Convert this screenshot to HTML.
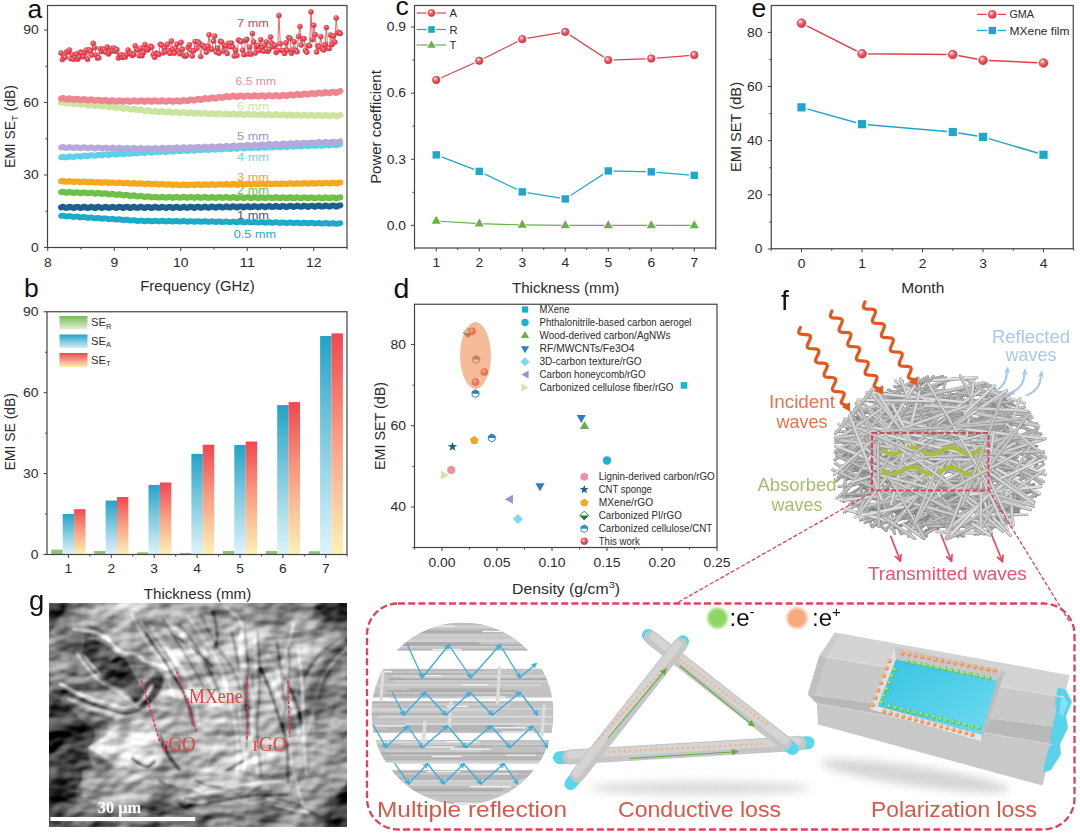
<!DOCTYPE html>
<html><head><meta charset="utf-8"><title>Figure</title>
<style>html,body{margin:0;padding:0;background:#fff;}svg{display:block;font-family:"Liberation Sans", sans-serif;}</style>
</head><body>
<svg width="1080" height="834" viewBox="0 0 1080 834">
<rect width="1080" height="834" fill="#ffffff"/>

<defs>
<radialGradient id="ballR" cx="0.36" cy="0.32" r="0.7"><stop offset="0" stop-color="#ffffff"/><stop offset="0.22" stop-color="#f7a0a6"/><stop offset="0.55" stop-color="#ee5560"/><stop offset="1" stop-color="#d93544"/></radialGradient>
<radialGradient id="ballS" cx="0.36" cy="0.32" r="0.75"><stop offset="0" stop-color="#ffd6d8"/><stop offset="0.22" stop-color="#f26a74"/><stop offset="0.6" stop-color="#e6404e"/><stop offset="1" stop-color="#d62f3f"/></radialGradient>
<radialGradient id="ballO" cx="0.36" cy="0.32" r="0.7"><stop offset="0" stop-color="#ffe6dc"/><stop offset="0.25" stop-color="#f79a80"/><stop offset="0.6" stop-color="#ee5a3c"/><stop offset="1" stop-color="#de3f28"/></radialGradient>
<linearGradient id="gA" x1="0" y1="0" x2="0" y2="1"><stop offset="0" stop-color="#23a3c7"/><stop offset="0.45" stop-color="#7cc9de"/><stop offset="1" stop-color="#dff3fa"/></linearGradient>
<linearGradient id="gT" x1="0" y1="0" x2="0" y2="1"><stop offset="0" stop-color="#f2474f"/><stop offset="0.45" stop-color="#f99a80"/><stop offset="1" stop-color="#fdf1b6"/></linearGradient>
<linearGradient id="gRl" x1="0" y1="0" x2="0" y2="1"><stop offset="0" stop-color="#78b85a"/><stop offset="1" stop-color="#e4f1d6"/></linearGradient>
<linearGradient id="gAl" x1="0" y1="0" x2="0" y2="1"><stop offset="0" stop-color="#23a3c7"/><stop offset="1" stop-color="#d4eef7"/></linearGradient>
<linearGradient id="gTl" x1="0" y1="0" x2="0" y2="1"><stop offset="0" stop-color="#f2474f"/><stop offset="1" stop-color="#fdeeb4"/></linearGradient>
<linearGradient id="cy" x1="0" y1="0" x2="1" y2="1"><stop offset="0" stop-color="#36c4e2"/><stop offset="1" stop-color="#6fdaf0"/></linearGradient>
<radialGradient id="ionO" cx="0.38" cy="0.35" r="0.7"><stop offset="0" stop-color="#ffd2b4"/><stop offset="0.5" stop-color="#f4975f"/><stop offset="1" stop-color="#e67f45"/></radialGradient>
<radialGradient id="ionG" cx="0.38" cy="0.35" r="0.7"><stop offset="0" stop-color="#c8f5a8"/><stop offset="0.5" stop-color="#74d058"/><stop offset="1" stop-color="#55b840"/></radialGradient>
<filter id="blur15" x="-30%" y="-30%" width="160%" height="160%"><feGaussianBlur stdDeviation="1.6"/></filter>
<filter id="blur1" x="-20%" y="-20%" width="140%" height="140%"><feGaussianBlur stdDeviation="0.9"/></filter>
<filter id="blur4" x="-20%" y="-100%" width="140%" height="300%"><feGaussianBlur stdDeviation="4"/></filter>
<filter id="blur9" x="-10%" y="-10%" width="120%" height="120%"><feGaussianBlur stdDeviation="7"/></filter>
<filter id="blur2" x="-10%" y="-10%" width="120%" height="120%"><feGaussianBlur stdDeviation="1.3"/></filter>
<filter id="semtex" x="0" y="0" width="100%" height="100%" color-interpolation-filters="sRGB">
<feTurbulence type="fractalNoise" baseFrequency="0.024 0.036" numOctaves="3" seed="4" result="n"/>
<feDiffuseLighting in="n" surfaceScale="7" diffuseConstant="1" lighting-color="#ffffff" result="lit"><feDistantLight azimuth="235" elevation="30"/></feDiffuseLighting>
<feComposite in="SourceGraphic" in2="lit" operator="arithmetic" k1="0" k2="1.1" k3="0.62" k4="-0.365"/>
</filter>
</defs>

<rect x="47.5" y="5.5" width="299.5" height="242.0" fill="none" stroke="#444444" stroke-width="1.2"/>
<line x1="47.75" y1="247.5" x2="47.75" y2="251.0" stroke="#444444" stroke-width="1"/>
<line x1="114.25" y1="247.5" x2="114.25" y2="251.0" stroke="#444444" stroke-width="1"/>
<line x1="180.75" y1="247.5" x2="180.75" y2="251.0" stroke="#444444" stroke-width="1"/>
<line x1="247.25" y1="247.5" x2="247.25" y2="251.0" stroke="#444444" stroke-width="1"/>
<line x1="313.75" y1="247.5" x2="313.75" y2="251.0" stroke="#444444" stroke-width="1"/>
<line x1="81.00" y1="247.5" x2="81.00" y2="249.5" stroke="#444444" stroke-width="1"/>
<line x1="147.50" y1="247.5" x2="147.50" y2="249.5" stroke="#444444" stroke-width="1"/>
<line x1="214.00" y1="247.5" x2="214.00" y2="249.5" stroke="#444444" stroke-width="1"/>
<line x1="280.50" y1="247.5" x2="280.50" y2="249.5" stroke="#444444" stroke-width="1"/>
<line x1="347.00" y1="247.5" x2="347.00" y2="249.5" stroke="#444444" stroke-width="1"/>
<line x1="44.0" y1="247.50" x2="47.5" y2="247.50" stroke="#444444" stroke-width="1"/>
<line x1="44.0" y1="175.00" x2="47.5" y2="175.00" stroke="#444444" stroke-width="1"/>
<line x1="44.0" y1="102.50" x2="47.5" y2="102.50" stroke="#444444" stroke-width="1"/>
<line x1="44.0" y1="30.00" x2="47.5" y2="30.00" stroke="#444444" stroke-width="1"/>
<line x1="45.5" y1="211.25" x2="47.5" y2="211.25" stroke="#444444" stroke-width="1"/>
<line x1="45.5" y1="138.75" x2="47.5" y2="138.75" stroke="#444444" stroke-width="1"/>
<line x1="45.5" y1="66.25" x2="47.5" y2="66.25" stroke="#444444" stroke-width="1"/>
<text x="47.75" y="266.60" font-size="12.2" text-anchor="middle" fill="#2b2b2b" textLength="7.7" lengthAdjust="spacingAndGlyphs" >8</text>
<text x="114.25" y="266.60" font-size="12.2" text-anchor="middle" fill="#2b2b2b" textLength="7.7" lengthAdjust="spacingAndGlyphs" >9</text>
<text x="180.75" y="266.60" font-size="12.2" text-anchor="middle" fill="#2b2b2b" textLength="15.5" lengthAdjust="spacingAndGlyphs" >10</text>
<text x="247.25" y="266.60" font-size="12.2" text-anchor="middle" fill="#2b2b2b" textLength="15.5" lengthAdjust="spacingAndGlyphs" >11</text>
<text x="313.75" y="266.60" font-size="12.2" text-anchor="middle" fill="#2b2b2b" textLength="15.5" lengthAdjust="spacingAndGlyphs" >12</text>
<text x="38.70" y="251.80" font-size="12.2" text-anchor="end" fill="#2b2b2b" textLength="7.7" lengthAdjust="spacingAndGlyphs" >0</text>
<text x="38.70" y="179.30" font-size="12.2" text-anchor="end" fill="#2b2b2b" textLength="15.5" lengthAdjust="spacingAndGlyphs" >30</text>
<text x="38.70" y="106.80" font-size="12.2" text-anchor="end" fill="#2b2b2b" textLength="15.5" lengthAdjust="spacingAndGlyphs" >60</text>
<text x="38.70" y="34.30" font-size="12.2" text-anchor="end" fill="#2b2b2b" textLength="15.5" lengthAdjust="spacingAndGlyphs" >90</text>
<text x="197.50" y="291.30" font-size="13.8" text-anchor="middle" fill="#2b2b2b" textLength="114.5" lengthAdjust="spacingAndGlyphs" >Frequency (GHz)</text>
<text x="14.5" y="126.5" font-size="13.8" text-anchor="middle" fill="#2b2b2b" transform="rotate(-90 14.5 126.5)" textLength="83" lengthAdjust="spacingAndGlyphs">EMI SE<tspan font-size="9.5" dy="3">T</tspan><tspan dy="-3"> (dB)</tspan></text>
<text x="253.00" y="109.70" font-size="10.5" text-anchor="middle" fill="#cfe6a4" textLength="32.0" lengthAdjust="spacingAndGlyphs" >6 mm</text>
<text x="253.00" y="180.70" font-size="10.5" text-anchor="middle" fill="#f2a51e" textLength="32.0" lengthAdjust="spacingAndGlyphs" >3 mm</text>
<text x="253.00" y="194.30" font-size="10.5" text-anchor="middle" fill="#6fbf4a" textLength="32.0" lengthAdjust="spacingAndGlyphs" >2 mm</text>
<text x="253.00" y="218.70" font-size="10.5" text-anchor="middle" fill="#1d5c8c" textLength="32.0" lengthAdjust="spacingAndGlyphs" >1 mm</text>
<polyline points="61.05,215.84 63.20,215.57 65.35,216.38 67.50,216.49 69.64,215.97 71.79,216.56 73.94,217.06 76.09,216.51 78.24,216.72 80.39,217.50 82.53,217.14 84.68,216.96 86.83,217.80 88.98,217.80 91.13,217.32 93.28,217.99 95.43,218.40 97.57,217.83 99.72,218.15 101.87,218.87 104.02,218.45 106.17,218.36 108.32,219.20 110.46,219.11 112.61,218.69 114.76,219.42 116.91,219.72 119.06,219.16 121.21,219.58 123.36,220.24 125.50,219.75 127.65,219.77 129.80,220.60 131.95,220.41 134.10,220.06 136.25,220.84 138.39,221.05 140.54,220.49 142.69,220.91 144.84,221.37 146.99,220.73 149.14,220.74 151.29,221.43 153.43,221.03 155.58,220.65 157.73,221.36 159.88,221.34 162.03,220.70 164.18,221.19 166.32,221.57 168.47,220.89 170.62,221.01 172.77,221.66 174.92,221.18 177.07,220.89 179.22,221.62 181.36,221.49 183.51,220.91 185.66,221.47 187.81,221.75 189.96,221.06 192.11,221.28 194.25,221.88 196.40,221.33 198.55,221.14 200.70,221.87 202.85,221.64 205.00,221.12 207.15,221.74 209.29,221.92 211.44,221.24 213.59,221.56 215.74,222.10 217.89,221.50 220.04,221.43 222.18,222.16 224.33,221.85 226.48,221.41 228.63,222.09 230.78,222.18 232.93,221.52 235.08,221.95 237.22,222.41 239.37,221.78 241.52,221.81 243.67,222.51 245.82,222.11 247.97,221.75 250.11,222.47 252.26,222.45 254.41,221.83 256.56,222.34 258.71,222.72 260.86,222.06 263.01,222.19 265.15,222.85 267.30,222.38 269.45,222.11 271.60,222.85 273.75,222.72 275.90,222.15 278.04,222.73 280.19,223.02 282.34,222.34 284.49,222.58 286.64,223.19 288.79,222.64 290.94,222.48 293.08,223.22 295.23,222.99 297.38,222.48 299.53,223.12 301.68,223.30 303.83,222.63 305.97,222.98 308.12,223.51 310.27,222.91 312.42,222.85 314.57,223.58 316.72,223.25 318.87,222.82 321.01,223.51 323.16,223.58 325.31,222.94 327.46,223.37 329.61,223.82 331.76,223.18 333.90,223.23 336.05,223.93 338.20,223.52 340.35,223.17" fill="none" stroke="#1fa9c9" stroke-width="5.8" stroke-linejoin="round" stroke-linecap="round"/>
<polyline points="61.05,207.38 63.20,206.70 65.35,207.83 67.50,207.78 69.64,206.68 71.79,207.44 73.94,208.05 76.09,206.90 78.24,207.03 80.39,208.10 82.53,207.27 84.68,206.74 86.83,207.91 88.98,207.69 91.13,206.66 93.28,207.55 95.43,208.00 97.57,206.82 99.72,207.13 101.87,208.11 104.02,207.17 106.17,206.80 108.32,207.98 110.46,207.58 112.61,206.66 114.76,207.65 116.91,207.93 119.06,206.76 121.21,207.23 123.36,208.10 125.50,207.07 127.65,206.87 129.80,208.03 131.95,207.48 134.10,206.67 136.25,207.75 138.39,207.86 140.54,206.71 142.69,207.34 144.84,208.08 146.99,206.97 149.14,206.95 151.29,208.07 153.43,207.37 155.58,206.70 157.73,207.84 159.88,207.77 162.03,206.68 164.18,207.45 166.32,208.04 168.47,206.89 170.62,207.04 172.77,208.10 174.92,207.26 177.07,206.75 179.22,207.92 181.36,207.67 183.51,206.64 185.66,207.51 187.81,207.93 189.96,206.73 192.11,207.04 194.25,207.99 196.40,207.01 198.55,206.64 200.70,207.80 202.85,207.37 205.00,206.44 207.15,207.42 209.29,207.67 211.44,206.47 213.59,206.95 215.74,207.78 217.89,206.72 220.04,206.52 222.18,207.66 224.33,207.07 226.48,206.26 228.63,207.32 230.78,207.39 232.93,206.23 235.08,206.86 237.22,207.56 239.37,206.43 241.52,206.41 243.67,207.51 245.82,206.76 247.97,206.10 250.11,207.22 252.26,207.11 254.41,206.01 256.56,206.78 258.71,207.33 260.86,206.15 263.01,206.31 265.15,207.33 267.30,206.46 269.45,205.95 271.60,207.10 273.75,206.82 275.90,205.79 278.04,206.69 280.19,207.08 282.34,205.88 284.49,206.21 286.64,207.15 288.79,206.16 290.94,205.81 293.08,206.97 295.23,206.52 297.38,205.60 299.53,206.59 301.68,206.82 303.83,205.63 305.97,206.12 308.12,206.94 310.27,205.87 312.42,205.69 314.57,206.83 316.72,206.22 318.87,205.42 321.01,206.50 323.16,206.54 325.31,205.39 327.46,206.04 329.61,206.72 331.76,205.58 333.90,205.58 336.05,206.67 338.20,205.91 340.35,205.26" fill="none" stroke="#1d5f8f" stroke-width="6.0" stroke-linejoin="round" stroke-linecap="round"/>
<polyline points="61.05,192.16 63.20,191.67 65.35,192.64 67.50,192.67 69.64,191.86 71.79,192.53 73.94,193.08 76.09,192.22 78.24,192.40 80.39,193.31 82.53,192.72 84.68,192.36 86.83,193.36 88.98,193.25 91.13,192.49 93.28,193.26 95.43,193.69 97.57,192.82 99.72,193.13 101.87,194.01 104.02,193.42 106.17,193.28 108.32,194.38 110.46,194.22 112.61,193.63 114.76,194.58 116.91,194.97 119.06,194.18 121.21,194.72 123.36,195.57 125.50,194.90 127.65,194.89 129.80,195.98 131.95,195.70 134.10,195.21 136.25,196.22 138.39,196.47 140.54,195.71 142.69,196.37 144.84,197.11 146.99,196.38 149.14,196.52 151.29,197.58 153.43,197.17 155.58,196.69 157.73,197.61 159.88,197.57 162.03,196.70 164.18,197.33 166.32,197.81 168.47,196.89 170.62,197.02 172.77,197.88 174.92,197.22 177.07,196.81 179.22,197.76 181.36,197.57 183.51,196.77 185.66,197.50 187.81,197.85 189.96,196.92 192.11,197.19 194.25,197.97 196.40,197.21 198.55,196.94 200.70,197.89 202.85,197.57 205.00,196.85 207.15,197.66 209.29,197.88 211.44,196.95 213.59,197.36 215.74,198.05 217.89,197.22 220.04,197.08 222.18,198.02 224.33,197.57 226.48,196.95 228.63,197.82 230.78,197.90 232.93,197.00 235.08,197.53 237.22,198.11 239.37,197.23 241.52,197.24 243.67,198.14 245.82,197.57 247.97,197.06 250.11,197.98 252.26,197.92 254.41,197.06 256.56,197.70 258.71,198.16 260.86,197.24 263.01,197.39 265.15,198.24 267.30,197.57 269.45,197.18 271.60,198.12 273.75,197.92 275.90,197.13 278.04,197.87 280.19,198.20 282.34,197.27 284.49,197.56 286.64,198.33 288.79,197.56 290.94,197.31 293.08,198.26 295.23,197.92 297.38,197.21 299.53,198.03 301.68,198.23 303.83,197.31 305.97,197.73 308.12,198.40 310.27,197.57 312.42,197.45 314.57,198.39 316.72,197.92 318.87,197.31 321.01,198.19 323.16,198.25 325.31,197.35 327.46,197.90 329.61,198.47 331.76,197.58 333.90,197.60 336.05,198.50 338.20,197.92 340.35,197.42" fill="none" stroke="#6fbf4a" stroke-width="6.0" stroke-linejoin="round" stroke-linecap="round"/>
<polyline points="61.05,181.28 63.20,180.93 65.35,181.67 67.50,181.70 69.64,181.10 71.79,181.61 73.94,182.03 76.09,181.40 78.24,181.54 80.39,182.24 82.53,181.80 84.68,181.54 86.83,182.30 88.98,182.23 91.13,181.67 93.28,182.26 95.43,182.59 97.57,181.94 99.72,182.18 101.87,182.83 104.02,182.32 106.17,182.16 108.32,182.93 110.46,182.75 112.61,182.25 114.76,182.91 116.91,183.15 119.06,182.52 121.21,182.87 123.36,183.46 125.50,182.91 127.65,182.86 129.80,183.63 131.95,183.37 134.10,182.96 136.25,183.67 138.39,183.81 140.54,183.19 142.69,183.64 144.84,184.15 146.99,183.56 149.14,183.61 151.29,184.36 153.43,184.01 155.58,183.68 157.73,184.43 159.88,184.46 162.03,183.87 164.18,184.41 166.32,184.83 168.47,184.21 170.62,184.37 172.77,185.08 174.92,184.64 177.07,184.40 179.22,185.18 181.36,185.08 183.51,184.44 185.66,184.96 187.81,185.20 189.96,184.47 192.11,184.64 194.25,185.20 196.40,184.60 198.55,184.37 200.70,185.05 202.85,184.78 205.00,184.21 207.15,184.79 209.29,184.92 211.44,184.19 213.59,184.47 215.74,184.96 217.89,184.31 220.04,184.18 222.18,184.85 224.33,184.48 226.48,183.98 228.63,184.61 230.78,184.64 232.93,183.93 235.08,184.30 237.22,184.71 239.37,184.02 241.52,183.99 243.67,184.64 245.82,184.18 247.97,183.77 250.11,184.42 252.26,184.34 254.41,183.66 256.56,184.11 258.71,184.43 260.86,183.70 263.01,183.78 265.15,184.38 267.30,183.84 269.45,183.52 271.60,184.19 273.75,184.01 275.90,183.38 278.04,183.90 280.19,184.12 282.34,183.38 284.49,183.56 286.64,184.11 288.79,183.50 290.94,183.27 293.08,183.95 295.23,183.67 297.38,183.10 299.53,183.68 301.68,183.80 303.83,183.07 305.97,183.35 308.12,183.82 310.27,183.16 312.42,183.04 314.57,183.71 316.72,183.32 318.87,182.83 321.01,183.46 323.16,183.47 325.31,182.76 327.46,183.13 329.61,183.53 331.76,182.83 333.90,182.81 336.05,183.45 338.20,182.98 340.35,182.57" fill="none" stroke="#f4a81d" stroke-width="6.0" stroke-linejoin="round" stroke-linecap="round"/>
<polyline points="61.05,157.36 63.20,156.68 65.35,157.46 67.50,157.30 69.64,156.29 71.79,156.77 73.94,157.13 76.09,156.08 78.24,156.06 80.39,156.79 82.53,156.00 84.68,155.45 86.83,156.25 88.98,155.95 91.13,155.00 93.28,155.58 95.43,155.82 97.57,154.75 99.72,154.87 101.87,155.53 104.02,154.65 106.17,154.22 108.32,155.04 110.46,154.60 112.61,153.73 114.76,154.40 116.91,154.52 119.06,153.47 121.21,153.74 123.36,154.33 125.50,153.39 127.65,153.12 129.80,153.94 131.95,153.39 134.10,152.64 136.25,153.39 138.39,153.37 140.54,152.34 142.69,152.74 144.84,153.22 146.99,152.22 149.14,152.09 151.29,152.88 153.43,152.21 155.58,151.57 157.73,152.37 159.88,152.20 162.03,151.22 164.18,151.73 166.32,152.09 168.47,151.06 170.62,151.07 172.77,151.81 174.92,151.03 177.07,150.51 179.22,151.34 181.36,151.04 183.51,150.13 185.66,150.76 187.81,151.01 189.96,149.98 192.11,150.14 194.25,150.82 196.40,149.97 198.55,149.59 200.70,150.44 202.85,150.02 205.00,149.20 207.15,149.90 209.29,150.02 211.44,148.99 213.59,149.29 215.74,149.88 217.89,148.95 220.04,148.71 222.18,149.55 224.33,149.00 226.48,148.27 228.63,149.04 230.78,149.02 232.93,148.02 235.08,148.44 237.22,148.92 239.37,147.94 241.52,147.84 243.67,148.64 245.82,147.97 247.97,147.37 250.11,148.21 252.26,148.06 254.41,147.12 256.56,147.68 258.71,148.07 260.86,147.07 263.01,147.14 265.15,147.90 267.30,147.15 269.45,146.68 271.60,147.54 273.75,147.26 275.90,146.39 278.04,147.04 280.19,147.30 282.34,146.29 284.49,146.49 286.64,147.18 288.79,146.34 290.94,146.00 293.08,146.87 295.23,146.45 297.38,145.66 299.53,146.40 301.68,146.52 303.83,145.51 305.97,145.85 308.12,146.45 310.27,145.53 312.42,145.34 314.57,146.19 316.72,145.64 318.87,144.95 321.01,145.75 323.16,145.73 325.31,144.75 327.46,145.21 329.61,145.71 331.76,144.73 333.90,144.68 336.05,145.49 338.20,144.83 340.35,144.25" fill="none" stroke="#5fd0e6" stroke-width="5.8" stroke-linejoin="round" stroke-linecap="round"/>
<polyline points="61.05,147.45 63.20,146.79 65.35,147.95 67.50,147.94 69.64,146.87 71.79,147.65 73.94,148.30 76.09,147.17 78.24,147.34 80.39,148.43 82.53,147.64 84.68,147.14 86.83,148.33 88.98,148.14 91.13,147.15 93.28,148.06 95.43,148.55 97.57,147.40 99.72,147.74 101.87,148.74 104.02,147.83 106.17,147.49 108.32,148.70 110.46,148.34 112.61,147.45 114.76,148.47 116.91,148.78 119.06,147.64 121.21,148.14 123.36,149.04 125.50,148.03 127.65,147.86 129.80,149.06 131.95,148.53 134.10,147.76 136.25,148.86 138.39,149.01 140.54,147.89 142.69,148.55 144.84,149.32 146.99,148.24 149.14,148.18 151.29,149.25 153.43,148.49 155.58,147.77 157.73,148.85 159.88,148.73 162.03,147.58 164.18,148.30 166.32,148.84 168.47,147.63 170.62,147.73 172.77,148.73 174.92,147.84 177.07,147.27 179.22,148.38 181.36,148.09 183.51,147.02 185.66,147.86 187.81,148.24 189.96,147.01 192.11,147.28 194.25,148.19 196.40,147.19 198.55,146.78 200.70,147.90 202.85,147.44 205.00,146.47 207.15,147.42 209.29,147.63 211.44,146.40 213.59,146.84 215.74,147.61 217.89,146.47 220.04,146.20 222.18,147.26 224.33,146.60 226.48,145.71 228.63,146.70 230.78,146.70 232.93,145.46 235.08,146.02 237.22,146.65 239.37,145.44 241.52,145.34 243.67,146.37 245.82,145.55 247.97,144.81 250.11,145.85 252.26,145.67 254.41,144.49 256.56,145.19 258.71,145.67 260.86,144.42 263.01,144.50 265.15,145.45 267.30,144.51 269.45,143.92 271.60,145.00 273.75,144.64 275.90,143.54 278.04,144.36 280.19,144.68 282.34,143.42 284.49,143.69 286.64,144.57 288.79,143.52 290.94,143.12 293.08,144.22 295.23,143.71 297.38,142.73 299.53,143.66 301.68,143.83 303.83,142.58 305.97,143.02 308.12,143.78 310.27,142.64 312.42,142.41 314.57,143.49 316.72,142.82 318.87,141.97 321.01,142.98 323.16,142.97 325.31,141.76 327.46,142.34 329.61,142.97 331.76,141.77 333.90,141.71 336.05,142.74 338.20,141.93 340.35,141.22" fill="none" stroke="#b7a8dc" stroke-width="5.8" stroke-linejoin="round" stroke-linecap="round"/>
<polyline points="61.05,102.50 63.20,101.99 65.35,103.31 67.50,103.44 69.64,102.52 71.79,103.46 73.94,104.26 76.09,103.29 78.24,103.60 80.39,104.85 82.53,104.21 84.68,103.86 86.83,105.21 88.98,105.17 91.13,104.33 93.28,105.39 95.43,106.03 97.57,105.03 99.72,105.52 101.87,106.70 104.02,105.99 106.17,105.84 108.32,107.24 110.46,107.08 112.61,106.38 114.76,107.59 116.91,108.10 119.06,107.15 121.21,107.85 123.36,108.94 125.50,108.13 127.65,108.16 129.80,109.55 131.95,109.22 134.10,108.63 136.25,109.93 138.39,110.27 140.54,109.35 142.69,110.20 144.84,111.17 146.99,110.28 149.14,110.48 151.29,111.83 153.43,111.35 155.58,110.82 157.73,112.04 159.88,112.06 162.03,111.05 164.18,111.91 166.32,112.59 168.47,111.52 170.62,111.76 172.77,112.91 174.92,112.16 177.07,111.73 179.22,112.99 181.36,112.83 183.51,111.90 185.66,112.89 187.81,113.41 189.96,112.32 192.11,112.73 194.25,113.78 196.40,112.92 198.55,112.65 200.70,113.92 202.85,113.60 205.00,112.77 207.15,113.86 209.29,114.21 211.44,113.12 213.59,113.70 215.74,114.60 217.89,113.59 220.04,113.44 222.18,114.64 224.33,114.10 226.48,113.34 228.63,114.46 230.78,114.58 232.93,113.47 235.08,114.15 237.22,114.91 239.37,113.82 241.52,113.86 243.67,115.00 245.82,114.32 247.97,113.70 250.11,114.87 252.26,114.82 254.41,113.77 256.56,114.59 258.71,115.20 260.86,114.07 263.01,114.28 265.15,115.36 267.30,114.54 269.45,114.07 271.60,115.28 273.75,115.05 275.90,114.08 278.04,115.02 280.19,115.47 282.34,114.32 284.49,114.71 286.64,115.69 288.79,114.76 290.94,114.46 293.08,115.68 295.23,115.28 297.38,114.41 299.53,115.46 301.68,115.73 303.83,114.59 305.97,115.14 308.12,116.01 310.27,114.99 312.42,114.87 314.57,116.06 316.72,115.50 318.87,114.76 321.01,115.88 323.16,115.98 325.31,114.88 327.46,115.58 329.61,116.32 331.76,115.23 333.90,115.28 336.05,116.42 338.20,115.72 340.35,115.12" fill="none" stroke="#cbe5a0" stroke-width="6.0" stroke-linejoin="round" stroke-linecap="round"/>
<polyline points="61.05,98.63 63.20,98.04 65.35,99.27 67.50,99.32 69.64,98.32 71.79,99.17 73.94,99.88 76.09,98.83 78.24,99.06 80.39,100.22 82.53,99.50 84.68,99.06 86.83,100.33 88.98,100.20 91.13,99.28 93.28,100.26 95.43,100.81 97.57,99.73 99.72,100.13 101.87,101.21 104.02,100.37 106.17,100.10 108.32,101.37 110.46,101.08 112.61,100.25 114.76,101.31 116.91,101.60 119.06,100.42 121.21,100.90 123.36,101.77 125.50,100.73 127.65,100.53 129.80,101.70 131.95,101.14 134.10,100.34 136.25,101.41 138.39,101.52 140.54,100.38 142.69,101.01 144.84,101.75 146.99,100.64 149.14,100.62 151.29,101.74 153.43,101.03 155.58,100.37 157.73,101.50 159.88,101.44 162.03,100.34 164.18,101.12 166.32,101.71 168.47,100.55 170.62,100.71 172.77,101.76 174.92,100.93 177.07,100.41 179.22,101.58 181.36,101.28 183.51,100.07 185.66,100.78 187.81,101.02 189.96,99.64 192.11,99.78 194.25,100.55 196.40,99.40 198.55,98.85 200.70,99.84 202.85,99.23 205.00,98.12 207.15,98.93 209.29,99.00 211.44,97.63 213.59,97.93 215.74,98.59 217.89,97.35 220.04,96.97 222.18,97.94 224.33,97.17 226.48,96.18 228.63,97.07 230.78,96.97 232.93,95.63 235.08,96.18 237.22,96.88 239.37,95.74 241.52,95.71 243.67,96.81 245.82,96.06 247.97,95.39 250.11,96.51 252.26,96.40 254.41,95.29 256.56,96.06 258.71,96.61 260.86,95.43 263.01,95.58 265.15,96.61 267.30,95.73 269.45,95.22 271.60,96.37 273.75,96.08 275.90,95.06 278.04,95.95 280.19,96.34 282.34,95.03 284.49,95.25 286.64,96.06 288.79,94.96 290.94,94.49 293.08,95.53 295.23,94.96 297.38,93.92 299.53,94.79 301.68,94.90 303.83,93.59 305.97,93.96 308.12,94.66 310.27,93.47 312.42,93.17 314.57,94.19 316.72,93.46 318.87,92.55 321.01,93.50 323.16,93.43 325.31,92.15 327.46,92.68 329.61,93.25 331.76,91.99 333.90,91.87 336.05,92.84 338.20,91.96 340.35,91.19" fill="none" stroke="#f08592" stroke-width="6.2" stroke-linejoin="round" stroke-linecap="round"/>
<text x="253.00" y="27.10" font-size="10.5" text-anchor="middle" fill="#e0424f" textLength="32.0" lengthAdjust="spacingAndGlyphs" >7 mm</text>
<text x="255.80" y="84.70" font-size="10.5" text-anchor="middle" fill="#ef8d9a" textLength="40.4" lengthAdjust="spacingAndGlyphs" >6.5 mm</text>
<text x="253.00" y="139.70" font-size="10.5" text-anchor="middle" fill="#9f8fcf" textLength="32.0" lengthAdjust="spacingAndGlyphs" >5 mm</text>
<text x="253.00" y="161.20" font-size="10.5" text-anchor="middle" fill="#6fd3e8" textLength="32.0" lengthAdjust="spacingAndGlyphs" >4 mm</text>
<text x="254.90" y="238.20" font-size="10.5" text-anchor="middle" fill="#22a9c8" textLength="42.2" lengthAdjust="spacingAndGlyphs" >0.5 mm</text>
<polyline points="61.05,53.01 62.45,59.61 63.84,56.75 65.24,57.27 66.64,51.73 68.03,52.29 69.43,49.96 70.83,58.66 72.22,54.85 73.62,59.29 75.02,57.02 76.41,53.77 77.81,59.23 79.20,57.12 80.60,51.99 82.00,53.09 83.39,56.74 84.79,52.47 86.19,49.95 87.58,59.27 88.98,49.85 90.38,50.99 91.77,55.05 93.17,43.29 94.57,47.84 95.96,54.95 97.36,57.90 98.76,57.81 100.15,48.78 101.55,51.56 102.95,49.10 104.34,49.94 105.74,52.18 107.13,46.93 108.53,53.98 109.93,51.81 111.32,48.40 112.72,50.88 114.12,47.86 115.51,51.25 116.91,49.63 118.31,58.00 119.70,55.51 121.10,54.67 122.50,57.42 123.89,55.32 125.29,57.05 126.69,54.63 128.08,49.96 129.48,53.39 130.88,53.27 132.27,55.37 133.67,54.55 135.06,45.78 136.46,49.41 137.86,49.85 139.25,55.69 140.65,48.15 142.05,55.71 143.44,52.68 144.84,44.54 146.24,49.06 147.63,50.11 149.03,48.33 150.43,46.15 151.82,46.97 153.22,54.44 154.62,57.32 156.01,53.12 157.41,53.75 158.81,54.53 160.20,44.27 161.60,45.10 162.99,52.89 164.39,48.01 165.79,51.62 167.18,44.26 168.58,50.61 169.98,53.38 171.37,40.87 172.77,48.96 174.17,53.28 175.56,48.50 176.96,43.96 178.36,51.10 179.75,53.76 181.15,42.30 182.55,49.30 183.94,55.65 185.34,56.34 186.73,55.27 188.13,47.31 189.53,44.81 190.92,50.28 192.32,55.89 193.72,50.79 195.11,41.50 196.51,48.42 197.91,41.71 199.30,43.27 200.70,56.60 202.10,45.25 203.49,45.77 204.89,47.94 206.29,52.16 207.68,46.20 209.08,34.83 210.48,49.32 211.87,48.96 213.27,41.08 214.66,36.04 216.06,51.90 217.46,47.99 218.85,53.23 220.25,41.33 221.65,41.91 223.04,51.08 224.44,45.46 225.84,45.88 227.23,53.43 228.63,43.27 230.03,46.83 231.42,42.87 232.82,46.86 234.22,56.05 235.61,50.21 237.01,55.60 238.41,40.05 239.80,40.79 241.20,41.49 242.59,50.26 243.99,54.69 245.39,40.50 246.78,39.28 248.18,54.07 249.58,46.91 250.97,54.30 252.37,33.62 253.77,41.94 255.16,53.08 256.56,46.82 257.96,45.46 259.35,50.45 260.75,39.76 262.15,47.51 263.54,51.29 264.94,45.34 266.34,41.93 267.73,51.36 269.13,49.27 270.52,37.09 271.92,43.07 273.32,46.81 274.71,45.32 276.11,52.64 277.51,50.62 278.90,15.50 280.30,43.79 281.70,50.38 283.09,50.53 284.49,53.42 285.89,42.76 287.28,50.23 288.68,37.64 290.08,38.39 291.47,53.24 292.87,49.88 294.27,41.67 295.66,50.25 297.06,51.84 298.45,36.54 299.85,26.37 301.25,45.06 302.64,39.11 304.04,38.61 305.44,50.43 306.83,52.30 308.23,45.58 309.63,45.68 311.02,11.87 312.42,39.67 313.82,25.16 315.21,34.68 316.61,52.01 318.01,45.77 319.40,46.98 320.80,36.69 322.20,48.72 323.59,49.89 324.99,44.58 326.38,27.58 327.78,47.93 329.18,48.48 330.57,34.96 331.97,44.42 333.37,36.02 334.76,42.14 336.16,17.91 337.56,33.08 338.95,32.41 340.35,33.51" fill="none" stroke="#e0424f" stroke-width="0.8" />
<circle cx="61.0" cy="53.0" r="2.5" fill="url(#ballS)" stroke="#d93040" stroke-width="0.5"/>
<circle cx="62.4" cy="59.6" r="2.5" fill="url(#ballS)" stroke="#d93040" stroke-width="0.5"/>
<circle cx="63.8" cy="56.8" r="2.5" fill="url(#ballS)" stroke="#d93040" stroke-width="0.5"/>
<circle cx="65.2" cy="57.3" r="2.5" fill="url(#ballS)" stroke="#d93040" stroke-width="0.5"/>
<circle cx="66.6" cy="51.7" r="2.5" fill="url(#ballS)" stroke="#d93040" stroke-width="0.5"/>
<circle cx="68.0" cy="52.3" r="2.5" fill="url(#ballS)" stroke="#d93040" stroke-width="0.5"/>
<circle cx="69.4" cy="50.0" r="2.5" fill="url(#ballS)" stroke="#d93040" stroke-width="0.5"/>
<circle cx="70.8" cy="58.7" r="2.5" fill="url(#ballS)" stroke="#d93040" stroke-width="0.5"/>
<circle cx="72.2" cy="54.8" r="2.5" fill="url(#ballS)" stroke="#d93040" stroke-width="0.5"/>
<circle cx="73.6" cy="59.3" r="2.5" fill="url(#ballS)" stroke="#d93040" stroke-width="0.5"/>
<circle cx="75.0" cy="57.0" r="2.5" fill="url(#ballS)" stroke="#d93040" stroke-width="0.5"/>
<circle cx="76.4" cy="53.8" r="2.5" fill="url(#ballS)" stroke="#d93040" stroke-width="0.5"/>
<circle cx="77.8" cy="59.2" r="2.5" fill="url(#ballS)" stroke="#d93040" stroke-width="0.5"/>
<circle cx="79.2" cy="57.1" r="2.5" fill="url(#ballS)" stroke="#d93040" stroke-width="0.5"/>
<circle cx="80.6" cy="52.0" r="2.5" fill="url(#ballS)" stroke="#d93040" stroke-width="0.5"/>
<circle cx="82.0" cy="53.1" r="2.5" fill="url(#ballS)" stroke="#d93040" stroke-width="0.5"/>
<circle cx="83.4" cy="56.7" r="2.5" fill="url(#ballS)" stroke="#d93040" stroke-width="0.5"/>
<circle cx="84.8" cy="52.5" r="2.5" fill="url(#ballS)" stroke="#d93040" stroke-width="0.5"/>
<circle cx="86.2" cy="50.0" r="2.5" fill="url(#ballS)" stroke="#d93040" stroke-width="0.5"/>
<circle cx="87.6" cy="59.3" r="2.5" fill="url(#ballS)" stroke="#d93040" stroke-width="0.5"/>
<circle cx="89.0" cy="49.8" r="2.5" fill="url(#ballS)" stroke="#d93040" stroke-width="0.5"/>
<circle cx="90.4" cy="51.0" r="2.5" fill="url(#ballS)" stroke="#d93040" stroke-width="0.5"/>
<circle cx="91.8" cy="55.1" r="2.5" fill="url(#ballS)" stroke="#d93040" stroke-width="0.5"/>
<circle cx="93.2" cy="43.3" r="2.5" fill="url(#ballS)" stroke="#d93040" stroke-width="0.5"/>
<circle cx="94.6" cy="47.8" r="2.5" fill="url(#ballS)" stroke="#d93040" stroke-width="0.5"/>
<circle cx="96.0" cy="54.9" r="2.5" fill="url(#ballS)" stroke="#d93040" stroke-width="0.5"/>
<circle cx="97.4" cy="57.9" r="2.5" fill="url(#ballS)" stroke="#d93040" stroke-width="0.5"/>
<circle cx="98.8" cy="57.8" r="2.5" fill="url(#ballS)" stroke="#d93040" stroke-width="0.5"/>
<circle cx="100.2" cy="48.8" r="2.5" fill="url(#ballS)" stroke="#d93040" stroke-width="0.5"/>
<circle cx="101.5" cy="51.6" r="2.5" fill="url(#ballS)" stroke="#d93040" stroke-width="0.5"/>
<circle cx="102.9" cy="49.1" r="2.5" fill="url(#ballS)" stroke="#d93040" stroke-width="0.5"/>
<circle cx="104.3" cy="49.9" r="2.5" fill="url(#ballS)" stroke="#d93040" stroke-width="0.5"/>
<circle cx="105.7" cy="52.2" r="2.5" fill="url(#ballS)" stroke="#d93040" stroke-width="0.5"/>
<circle cx="107.1" cy="46.9" r="2.5" fill="url(#ballS)" stroke="#d93040" stroke-width="0.5"/>
<circle cx="108.5" cy="54.0" r="2.5" fill="url(#ballS)" stroke="#d93040" stroke-width="0.5"/>
<circle cx="109.9" cy="51.8" r="2.5" fill="url(#ballS)" stroke="#d93040" stroke-width="0.5"/>
<circle cx="111.3" cy="48.4" r="2.5" fill="url(#ballS)" stroke="#d93040" stroke-width="0.5"/>
<circle cx="112.7" cy="50.9" r="2.5" fill="url(#ballS)" stroke="#d93040" stroke-width="0.5"/>
<circle cx="114.1" cy="47.9" r="2.5" fill="url(#ballS)" stroke="#d93040" stroke-width="0.5"/>
<circle cx="115.5" cy="51.3" r="2.5" fill="url(#ballS)" stroke="#d93040" stroke-width="0.5"/>
<circle cx="116.9" cy="49.6" r="2.5" fill="url(#ballS)" stroke="#d93040" stroke-width="0.5"/>
<circle cx="118.3" cy="58.0" r="2.5" fill="url(#ballS)" stroke="#d93040" stroke-width="0.5"/>
<circle cx="119.7" cy="55.5" r="2.5" fill="url(#ballS)" stroke="#d93040" stroke-width="0.5"/>
<circle cx="121.1" cy="54.7" r="2.5" fill="url(#ballS)" stroke="#d93040" stroke-width="0.5"/>
<circle cx="122.5" cy="57.4" r="2.5" fill="url(#ballS)" stroke="#d93040" stroke-width="0.5"/>
<circle cx="123.9" cy="55.3" r="2.5" fill="url(#ballS)" stroke="#d93040" stroke-width="0.5"/>
<circle cx="125.3" cy="57.1" r="2.5" fill="url(#ballS)" stroke="#d93040" stroke-width="0.5"/>
<circle cx="126.7" cy="54.6" r="2.5" fill="url(#ballS)" stroke="#d93040" stroke-width="0.5"/>
<circle cx="128.1" cy="50.0" r="2.5" fill="url(#ballS)" stroke="#d93040" stroke-width="0.5"/>
<circle cx="129.5" cy="53.4" r="2.5" fill="url(#ballS)" stroke="#d93040" stroke-width="0.5"/>
<circle cx="130.9" cy="53.3" r="2.5" fill="url(#ballS)" stroke="#d93040" stroke-width="0.5"/>
<circle cx="132.3" cy="55.4" r="2.5" fill="url(#ballS)" stroke="#d93040" stroke-width="0.5"/>
<circle cx="133.7" cy="54.5" r="2.5" fill="url(#ballS)" stroke="#d93040" stroke-width="0.5"/>
<circle cx="135.1" cy="45.8" r="2.5" fill="url(#ballS)" stroke="#d93040" stroke-width="0.5"/>
<circle cx="136.5" cy="49.4" r="2.5" fill="url(#ballS)" stroke="#d93040" stroke-width="0.5"/>
<circle cx="137.9" cy="49.9" r="2.5" fill="url(#ballS)" stroke="#d93040" stroke-width="0.5"/>
<circle cx="139.3" cy="55.7" r="2.5" fill="url(#ballS)" stroke="#d93040" stroke-width="0.5"/>
<circle cx="140.7" cy="48.2" r="2.5" fill="url(#ballS)" stroke="#d93040" stroke-width="0.5"/>
<circle cx="142.0" cy="55.7" r="2.5" fill="url(#ballS)" stroke="#d93040" stroke-width="0.5"/>
<circle cx="143.4" cy="52.7" r="2.5" fill="url(#ballS)" stroke="#d93040" stroke-width="0.5"/>
<circle cx="144.8" cy="44.5" r="2.5" fill="url(#ballS)" stroke="#d93040" stroke-width="0.5"/>
<circle cx="146.2" cy="49.1" r="2.5" fill="url(#ballS)" stroke="#d93040" stroke-width="0.5"/>
<circle cx="147.6" cy="50.1" r="2.5" fill="url(#ballS)" stroke="#d93040" stroke-width="0.5"/>
<circle cx="149.0" cy="48.3" r="2.5" fill="url(#ballS)" stroke="#d93040" stroke-width="0.5"/>
<circle cx="150.4" cy="46.2" r="2.5" fill="url(#ballS)" stroke="#d93040" stroke-width="0.5"/>
<circle cx="151.8" cy="47.0" r="2.5" fill="url(#ballS)" stroke="#d93040" stroke-width="0.5"/>
<circle cx="153.2" cy="54.4" r="2.5" fill="url(#ballS)" stroke="#d93040" stroke-width="0.5"/>
<circle cx="154.6" cy="57.3" r="2.5" fill="url(#ballS)" stroke="#d93040" stroke-width="0.5"/>
<circle cx="156.0" cy="53.1" r="2.5" fill="url(#ballS)" stroke="#d93040" stroke-width="0.5"/>
<circle cx="157.4" cy="53.8" r="2.5" fill="url(#ballS)" stroke="#d93040" stroke-width="0.5"/>
<circle cx="158.8" cy="54.5" r="2.5" fill="url(#ballS)" stroke="#d93040" stroke-width="0.5"/>
<circle cx="160.2" cy="44.3" r="2.5" fill="url(#ballS)" stroke="#d93040" stroke-width="0.5"/>
<circle cx="161.6" cy="45.1" r="2.5" fill="url(#ballS)" stroke="#d93040" stroke-width="0.5"/>
<circle cx="163.0" cy="52.9" r="2.5" fill="url(#ballS)" stroke="#d93040" stroke-width="0.5"/>
<circle cx="164.4" cy="48.0" r="2.5" fill="url(#ballS)" stroke="#d93040" stroke-width="0.5"/>
<circle cx="165.8" cy="51.6" r="2.5" fill="url(#ballS)" stroke="#d93040" stroke-width="0.5"/>
<circle cx="167.2" cy="44.3" r="2.5" fill="url(#ballS)" stroke="#d93040" stroke-width="0.5"/>
<circle cx="168.6" cy="50.6" r="2.5" fill="url(#ballS)" stroke="#d93040" stroke-width="0.5"/>
<circle cx="170.0" cy="53.4" r="2.5" fill="url(#ballS)" stroke="#d93040" stroke-width="0.5"/>
<circle cx="171.4" cy="40.9" r="2.5" fill="url(#ballS)" stroke="#d93040" stroke-width="0.5"/>
<circle cx="172.8" cy="49.0" r="2.5" fill="url(#ballS)" stroke="#d93040" stroke-width="0.5"/>
<circle cx="174.2" cy="53.3" r="2.5" fill="url(#ballS)" stroke="#d93040" stroke-width="0.5"/>
<circle cx="175.6" cy="48.5" r="2.5" fill="url(#ballS)" stroke="#d93040" stroke-width="0.5"/>
<circle cx="177.0" cy="44.0" r="2.5" fill="url(#ballS)" stroke="#d93040" stroke-width="0.5"/>
<circle cx="178.4" cy="51.1" r="2.5" fill="url(#ballS)" stroke="#d93040" stroke-width="0.5"/>
<circle cx="179.8" cy="53.8" r="2.5" fill="url(#ballS)" stroke="#d93040" stroke-width="0.5"/>
<circle cx="181.1" cy="42.3" r="2.5" fill="url(#ballS)" stroke="#d93040" stroke-width="0.5"/>
<circle cx="182.5" cy="49.3" r="2.5" fill="url(#ballS)" stroke="#d93040" stroke-width="0.5"/>
<circle cx="183.9" cy="55.7" r="2.5" fill="url(#ballS)" stroke="#d93040" stroke-width="0.5"/>
<circle cx="185.3" cy="56.3" r="2.5" fill="url(#ballS)" stroke="#d93040" stroke-width="0.5"/>
<circle cx="186.7" cy="55.3" r="2.5" fill="url(#ballS)" stroke="#d93040" stroke-width="0.5"/>
<circle cx="188.1" cy="47.3" r="2.5" fill="url(#ballS)" stroke="#d93040" stroke-width="0.5"/>
<circle cx="189.5" cy="44.8" r="2.5" fill="url(#ballS)" stroke="#d93040" stroke-width="0.5"/>
<circle cx="190.9" cy="50.3" r="2.5" fill="url(#ballS)" stroke="#d93040" stroke-width="0.5"/>
<circle cx="192.3" cy="55.9" r="2.5" fill="url(#ballS)" stroke="#d93040" stroke-width="0.5"/>
<circle cx="193.7" cy="50.8" r="2.5" fill="url(#ballS)" stroke="#d93040" stroke-width="0.5"/>
<circle cx="195.1" cy="41.5" r="2.5" fill="url(#ballS)" stroke="#d93040" stroke-width="0.5"/>
<circle cx="196.5" cy="48.4" r="2.5" fill="url(#ballS)" stroke="#d93040" stroke-width="0.5"/>
<circle cx="197.9" cy="41.7" r="2.5" fill="url(#ballS)" stroke="#d93040" stroke-width="0.5"/>
<circle cx="199.3" cy="43.3" r="2.5" fill="url(#ballS)" stroke="#d93040" stroke-width="0.5"/>
<circle cx="200.7" cy="56.6" r="2.5" fill="url(#ballS)" stroke="#d93040" stroke-width="0.5"/>
<circle cx="202.1" cy="45.2" r="2.5" fill="url(#ballS)" stroke="#d93040" stroke-width="0.5"/>
<circle cx="203.5" cy="45.8" r="2.5" fill="url(#ballS)" stroke="#d93040" stroke-width="0.5"/>
<circle cx="204.9" cy="47.9" r="2.5" fill="url(#ballS)" stroke="#d93040" stroke-width="0.5"/>
<circle cx="206.3" cy="52.2" r="2.5" fill="url(#ballS)" stroke="#d93040" stroke-width="0.5"/>
<circle cx="207.7" cy="46.2" r="2.5" fill="url(#ballS)" stroke="#d93040" stroke-width="0.5"/>
<circle cx="209.1" cy="34.8" r="2.5" fill="url(#ballS)" stroke="#d93040" stroke-width="0.5"/>
<circle cx="210.5" cy="49.3" r="2.5" fill="url(#ballS)" stroke="#d93040" stroke-width="0.5"/>
<circle cx="211.9" cy="49.0" r="2.5" fill="url(#ballS)" stroke="#d93040" stroke-width="0.5"/>
<circle cx="213.3" cy="41.1" r="2.5" fill="url(#ballS)" stroke="#d93040" stroke-width="0.5"/>
<circle cx="214.7" cy="36.0" r="2.5" fill="url(#ballS)" stroke="#d93040" stroke-width="0.5"/>
<circle cx="216.1" cy="51.9" r="2.5" fill="url(#ballS)" stroke="#d93040" stroke-width="0.5"/>
<circle cx="217.5" cy="48.0" r="2.5" fill="url(#ballS)" stroke="#d93040" stroke-width="0.5"/>
<circle cx="218.9" cy="53.2" r="2.5" fill="url(#ballS)" stroke="#d93040" stroke-width="0.5"/>
<circle cx="220.3" cy="41.3" r="2.5" fill="url(#ballS)" stroke="#d93040" stroke-width="0.5"/>
<circle cx="221.6" cy="41.9" r="2.5" fill="url(#ballS)" stroke="#d93040" stroke-width="0.5"/>
<circle cx="223.0" cy="51.1" r="2.5" fill="url(#ballS)" stroke="#d93040" stroke-width="0.5"/>
<circle cx="224.4" cy="45.5" r="2.5" fill="url(#ballS)" stroke="#d93040" stroke-width="0.5"/>
<circle cx="225.8" cy="45.9" r="2.5" fill="url(#ballS)" stroke="#d93040" stroke-width="0.5"/>
<circle cx="227.2" cy="53.4" r="2.5" fill="url(#ballS)" stroke="#d93040" stroke-width="0.5"/>
<circle cx="228.6" cy="43.3" r="2.5" fill="url(#ballS)" stroke="#d93040" stroke-width="0.5"/>
<circle cx="230.0" cy="46.8" r="2.5" fill="url(#ballS)" stroke="#d93040" stroke-width="0.5"/>
<circle cx="231.4" cy="42.9" r="2.5" fill="url(#ballS)" stroke="#d93040" stroke-width="0.5"/>
<circle cx="232.8" cy="46.9" r="2.5" fill="url(#ballS)" stroke="#d93040" stroke-width="0.5"/>
<circle cx="234.2" cy="56.1" r="2.5" fill="url(#ballS)" stroke="#d93040" stroke-width="0.5"/>
<circle cx="235.6" cy="50.2" r="2.5" fill="url(#ballS)" stroke="#d93040" stroke-width="0.5"/>
<circle cx="237.0" cy="55.6" r="2.5" fill="url(#ballS)" stroke="#d93040" stroke-width="0.5"/>
<circle cx="238.4" cy="40.0" r="2.5" fill="url(#ballS)" stroke="#d93040" stroke-width="0.5"/>
<circle cx="239.8" cy="40.8" r="2.5" fill="url(#ballS)" stroke="#d93040" stroke-width="0.5"/>
<circle cx="241.2" cy="41.5" r="2.5" fill="url(#ballS)" stroke="#d93040" stroke-width="0.5"/>
<circle cx="242.6" cy="50.3" r="2.5" fill="url(#ballS)" stroke="#d93040" stroke-width="0.5"/>
<circle cx="244.0" cy="54.7" r="2.5" fill="url(#ballS)" stroke="#d93040" stroke-width="0.5"/>
<circle cx="245.4" cy="40.5" r="2.5" fill="url(#ballS)" stroke="#d93040" stroke-width="0.5"/>
<circle cx="246.8" cy="39.3" r="2.5" fill="url(#ballS)" stroke="#d93040" stroke-width="0.5"/>
<circle cx="248.2" cy="54.1" r="2.5" fill="url(#ballS)" stroke="#d93040" stroke-width="0.5"/>
<circle cx="249.6" cy="46.9" r="2.5" fill="url(#ballS)" stroke="#d93040" stroke-width="0.5"/>
<circle cx="251.0" cy="54.3" r="2.5" fill="url(#ballS)" stroke="#d93040" stroke-width="0.5"/>
<circle cx="252.4" cy="33.6" r="2.5" fill="url(#ballS)" stroke="#d93040" stroke-width="0.5"/>
<circle cx="253.8" cy="41.9" r="2.5" fill="url(#ballS)" stroke="#d93040" stroke-width="0.5"/>
<circle cx="255.2" cy="53.1" r="2.5" fill="url(#ballS)" stroke="#d93040" stroke-width="0.5"/>
<circle cx="256.6" cy="46.8" r="2.5" fill="url(#ballS)" stroke="#d93040" stroke-width="0.5"/>
<circle cx="258.0" cy="45.5" r="2.5" fill="url(#ballS)" stroke="#d93040" stroke-width="0.5"/>
<circle cx="259.4" cy="50.4" r="2.5" fill="url(#ballS)" stroke="#d93040" stroke-width="0.5"/>
<circle cx="260.7" cy="39.8" r="2.5" fill="url(#ballS)" stroke="#d93040" stroke-width="0.5"/>
<circle cx="262.1" cy="47.5" r="2.5" fill="url(#ballS)" stroke="#d93040" stroke-width="0.5"/>
<circle cx="263.5" cy="51.3" r="2.5" fill="url(#ballS)" stroke="#d93040" stroke-width="0.5"/>
<circle cx="264.9" cy="45.3" r="2.5" fill="url(#ballS)" stroke="#d93040" stroke-width="0.5"/>
<circle cx="266.3" cy="41.9" r="2.5" fill="url(#ballS)" stroke="#d93040" stroke-width="0.5"/>
<circle cx="267.7" cy="51.4" r="2.5" fill="url(#ballS)" stroke="#d93040" stroke-width="0.5"/>
<circle cx="269.1" cy="49.3" r="2.5" fill="url(#ballS)" stroke="#d93040" stroke-width="0.5"/>
<circle cx="270.5" cy="37.1" r="2.5" fill="url(#ballS)" stroke="#d93040" stroke-width="0.5"/>
<circle cx="271.9" cy="43.1" r="2.5" fill="url(#ballS)" stroke="#d93040" stroke-width="0.5"/>
<circle cx="273.3" cy="46.8" r="2.5" fill="url(#ballS)" stroke="#d93040" stroke-width="0.5"/>
<circle cx="274.7" cy="45.3" r="2.5" fill="url(#ballS)" stroke="#d93040" stroke-width="0.5"/>
<circle cx="276.1" cy="52.6" r="2.5" fill="url(#ballS)" stroke="#d93040" stroke-width="0.5"/>
<circle cx="277.5" cy="50.6" r="2.5" fill="url(#ballS)" stroke="#d93040" stroke-width="0.5"/>
<circle cx="278.9" cy="15.5" r="2.5" fill="url(#ballS)" stroke="#d93040" stroke-width="0.5"/>
<circle cx="280.3" cy="43.8" r="2.5" fill="url(#ballS)" stroke="#d93040" stroke-width="0.5"/>
<circle cx="281.7" cy="50.4" r="2.5" fill="url(#ballS)" stroke="#d93040" stroke-width="0.5"/>
<circle cx="283.1" cy="50.5" r="2.5" fill="url(#ballS)" stroke="#d93040" stroke-width="0.5"/>
<circle cx="284.5" cy="53.4" r="2.5" fill="url(#ballS)" stroke="#d93040" stroke-width="0.5"/>
<circle cx="285.9" cy="42.8" r="2.5" fill="url(#ballS)" stroke="#d93040" stroke-width="0.5"/>
<circle cx="287.3" cy="50.2" r="2.5" fill="url(#ballS)" stroke="#d93040" stroke-width="0.5"/>
<circle cx="288.7" cy="37.6" r="2.5" fill="url(#ballS)" stroke="#d93040" stroke-width="0.5"/>
<circle cx="290.1" cy="38.4" r="2.5" fill="url(#ballS)" stroke="#d93040" stroke-width="0.5"/>
<circle cx="291.5" cy="53.2" r="2.5" fill="url(#ballS)" stroke="#d93040" stroke-width="0.5"/>
<circle cx="292.9" cy="49.9" r="2.5" fill="url(#ballS)" stroke="#d93040" stroke-width="0.5"/>
<circle cx="294.3" cy="41.7" r="2.5" fill="url(#ballS)" stroke="#d93040" stroke-width="0.5"/>
<circle cx="295.7" cy="50.3" r="2.5" fill="url(#ballS)" stroke="#d93040" stroke-width="0.5"/>
<circle cx="297.1" cy="51.8" r="2.5" fill="url(#ballS)" stroke="#d93040" stroke-width="0.5"/>
<circle cx="298.5" cy="36.5" r="2.5" fill="url(#ballS)" stroke="#d93040" stroke-width="0.5"/>
<circle cx="299.9" cy="26.4" r="2.5" fill="url(#ballS)" stroke="#d93040" stroke-width="0.5"/>
<circle cx="301.2" cy="45.1" r="2.5" fill="url(#ballS)" stroke="#d93040" stroke-width="0.5"/>
<circle cx="302.6" cy="39.1" r="2.5" fill="url(#ballS)" stroke="#d93040" stroke-width="0.5"/>
<circle cx="304.0" cy="38.6" r="2.5" fill="url(#ballS)" stroke="#d93040" stroke-width="0.5"/>
<circle cx="305.4" cy="50.4" r="2.5" fill="url(#ballS)" stroke="#d93040" stroke-width="0.5"/>
<circle cx="306.8" cy="52.3" r="2.5" fill="url(#ballS)" stroke="#d93040" stroke-width="0.5"/>
<circle cx="308.2" cy="45.6" r="2.5" fill="url(#ballS)" stroke="#d93040" stroke-width="0.5"/>
<circle cx="309.6" cy="45.7" r="2.5" fill="url(#ballS)" stroke="#d93040" stroke-width="0.5"/>
<circle cx="311.0" cy="11.9" r="2.5" fill="url(#ballS)" stroke="#d93040" stroke-width="0.5"/>
<circle cx="312.4" cy="39.7" r="2.5" fill="url(#ballS)" stroke="#d93040" stroke-width="0.5"/>
<circle cx="313.8" cy="25.2" r="2.5" fill="url(#ballS)" stroke="#d93040" stroke-width="0.5"/>
<circle cx="315.2" cy="34.7" r="2.5" fill="url(#ballS)" stroke="#d93040" stroke-width="0.5"/>
<circle cx="316.6" cy="52.0" r="2.5" fill="url(#ballS)" stroke="#d93040" stroke-width="0.5"/>
<circle cx="318.0" cy="45.8" r="2.5" fill="url(#ballS)" stroke="#d93040" stroke-width="0.5"/>
<circle cx="319.4" cy="47.0" r="2.5" fill="url(#ballS)" stroke="#d93040" stroke-width="0.5"/>
<circle cx="320.8" cy="36.7" r="2.5" fill="url(#ballS)" stroke="#d93040" stroke-width="0.5"/>
<circle cx="322.2" cy="48.7" r="2.5" fill="url(#ballS)" stroke="#d93040" stroke-width="0.5"/>
<circle cx="323.6" cy="49.9" r="2.5" fill="url(#ballS)" stroke="#d93040" stroke-width="0.5"/>
<circle cx="325.0" cy="44.6" r="2.5" fill="url(#ballS)" stroke="#d93040" stroke-width="0.5"/>
<circle cx="326.4" cy="27.6" r="2.5" fill="url(#ballS)" stroke="#d93040" stroke-width="0.5"/>
<circle cx="327.8" cy="47.9" r="2.5" fill="url(#ballS)" stroke="#d93040" stroke-width="0.5"/>
<circle cx="329.2" cy="48.5" r="2.5" fill="url(#ballS)" stroke="#d93040" stroke-width="0.5"/>
<circle cx="330.6" cy="35.0" r="2.5" fill="url(#ballS)" stroke="#d93040" stroke-width="0.5"/>
<circle cx="332.0" cy="44.4" r="2.5" fill="url(#ballS)" stroke="#d93040" stroke-width="0.5"/>
<circle cx="333.4" cy="36.0" r="2.5" fill="url(#ballS)" stroke="#d93040" stroke-width="0.5"/>
<circle cx="334.8" cy="42.1" r="2.5" fill="url(#ballS)" stroke="#d93040" stroke-width="0.5"/>
<circle cx="336.2" cy="17.9" r="2.5" fill="url(#ballS)" stroke="#d93040" stroke-width="0.5"/>
<circle cx="337.6" cy="33.1" r="2.5" fill="url(#ballS)" stroke="#d93040" stroke-width="0.5"/>
<circle cx="339.0" cy="32.4" r="2.5" fill="url(#ballS)" stroke="#d93040" stroke-width="0.5"/>
<circle cx="340.3" cy="33.5" r="2.5" fill="url(#ballS)" stroke="#d93040" stroke-width="0.5"/>
<text x="27.50" y="17.80" font-size="26.5" text-anchor="start" fill="#111" >a</text>
<rect x="51.30" y="549.65" width="11.4" height="4.85" fill="#8fc27a"/>
<rect x="62.70" y="514.04" width="11.4" height="40.46" fill="url(#gA)"/>
<rect x="74.10" y="509.19" width="11.4" height="45.31" fill="url(#gT)"/>
<rect x="94.20" y="550.99" width="11.4" height="3.51" fill="#8fc27a"/>
<rect x="105.60" y="500.56" width="11.4" height="53.94" fill="url(#gA)"/>
<rect x="117.00" y="497.05" width="11.4" height="57.45" fill="url(#gT)"/>
<rect x="137.10" y="552.34" width="11.4" height="2.16" fill="#8fc27a"/>
<rect x="148.50" y="484.92" width="11.4" height="69.58" fill="url(#gA)"/>
<rect x="159.90" y="482.49" width="11.4" height="72.01" fill="url(#gT)"/>
<rect x="180.00" y="552.88" width="11.4" height="1.62" fill="#8fc27a"/>
<rect x="191.40" y="453.90" width="11.4" height="100.60" fill="url(#gA)"/>
<rect x="202.80" y="444.73" width="11.4" height="109.77" fill="url(#gT)"/>
<rect x="222.90" y="550.99" width="11.4" height="3.51" fill="#8fc27a"/>
<rect x="234.30" y="445.00" width="11.4" height="109.50" fill="url(#gA)"/>
<rect x="245.70" y="441.50" width="11.4" height="113.00" fill="url(#gT)"/>
<rect x="265.80" y="550.99" width="11.4" height="3.51" fill="#8fc27a"/>
<rect x="277.20" y="405.09" width="11.4" height="149.41" fill="url(#gA)"/>
<rect x="288.60" y="402.12" width="11.4" height="152.38" fill="url(#gT)"/>
<rect x="308.70" y="551.26" width="11.4" height="3.24" fill="#8fc27a"/>
<rect x="320.10" y="336.04" width="11.4" height="218.46" fill="url(#gA)"/>
<rect x="331.50" y="333.35" width="11.4" height="221.15" fill="url(#gT)"/>
<rect x="47" y="311.75" width="300" height="242.75" fill="none" stroke="#444444" stroke-width="1.2"/>
<line x1="68.40" y1="554.5" x2="68.40" y2="558.0" stroke="#444444" stroke-width="1"/>
<line x1="111.30" y1="554.5" x2="111.30" y2="558.0" stroke="#444444" stroke-width="1"/>
<line x1="154.20" y1="554.5" x2="154.20" y2="558.0" stroke="#444444" stroke-width="1"/>
<line x1="197.10" y1="554.5" x2="197.10" y2="558.0" stroke="#444444" stroke-width="1"/>
<line x1="240.00" y1="554.5" x2="240.00" y2="558.0" stroke="#444444" stroke-width="1"/>
<line x1="282.90" y1="554.5" x2="282.90" y2="558.0" stroke="#444444" stroke-width="1"/>
<line x1="325.80" y1="554.5" x2="325.80" y2="558.0" stroke="#444444" stroke-width="1"/>
<line x1="89.85" y1="554.5" x2="89.85" y2="556.5" stroke="#444444" stroke-width="1"/>
<line x1="132.75" y1="554.5" x2="132.75" y2="556.5" stroke="#444444" stroke-width="1"/>
<line x1="175.65" y1="554.5" x2="175.65" y2="556.5" stroke="#444444" stroke-width="1"/>
<line x1="218.55" y1="554.5" x2="218.55" y2="556.5" stroke="#444444" stroke-width="1"/>
<line x1="261.45" y1="554.5" x2="261.45" y2="556.5" stroke="#444444" stroke-width="1"/>
<line x1="304.35" y1="554.5" x2="304.35" y2="556.5" stroke="#444444" stroke-width="1"/>
<line x1="347.25" y1="554.5" x2="347.25" y2="556.5" stroke="#444444" stroke-width="1"/>
<line x1="43.5" y1="554.50" x2="47" y2="554.50" stroke="#444444" stroke-width="1"/>
<line x1="43.5" y1="473.59" x2="47" y2="473.59" stroke="#444444" stroke-width="1"/>
<line x1="43.5" y1="392.68" x2="47" y2="392.68" stroke="#444444" stroke-width="1"/>
<line x1="43.5" y1="311.77" x2="47" y2="311.77" stroke="#444444" stroke-width="1"/>
<line x1="45" y1="514.04" x2="47" y2="514.04" stroke="#444444" stroke-width="1"/>
<line x1="45" y1="433.13" x2="47" y2="433.13" stroke="#444444" stroke-width="1"/>
<line x1="45" y1="352.23" x2="47" y2="352.23" stroke="#444444" stroke-width="1"/>
<text x="68.40" y="573.00" font-size="12.2" text-anchor="middle" fill="#2b2b2b" textLength="7.7" lengthAdjust="spacingAndGlyphs" >1</text>
<text x="111.30" y="573.00" font-size="12.2" text-anchor="middle" fill="#2b2b2b" textLength="7.7" lengthAdjust="spacingAndGlyphs" >2</text>
<text x="154.20" y="573.00" font-size="12.2" text-anchor="middle" fill="#2b2b2b" textLength="7.7" lengthAdjust="spacingAndGlyphs" >3</text>
<text x="197.10" y="573.00" font-size="12.2" text-anchor="middle" fill="#2b2b2b" textLength="7.7" lengthAdjust="spacingAndGlyphs" >4</text>
<text x="240.00" y="573.00" font-size="12.2" text-anchor="middle" fill="#2b2b2b" textLength="7.7" lengthAdjust="spacingAndGlyphs" >5</text>
<text x="282.90" y="573.00" font-size="12.2" text-anchor="middle" fill="#2b2b2b" textLength="7.7" lengthAdjust="spacingAndGlyphs" >6</text>
<text x="325.80" y="573.00" font-size="12.2" text-anchor="middle" fill="#2b2b2b" textLength="7.7" lengthAdjust="spacingAndGlyphs" >7</text>
<text x="38.50" y="558.80" font-size="12.2" text-anchor="end" fill="#2b2b2b" textLength="7.7" lengthAdjust="spacingAndGlyphs" >0</text>
<text x="38.50" y="477.89" font-size="12.2" text-anchor="end" fill="#2b2b2b" textLength="15.5" lengthAdjust="spacingAndGlyphs" >30</text>
<text x="38.50" y="396.98" font-size="12.2" text-anchor="end" fill="#2b2b2b" textLength="15.5" lengthAdjust="spacingAndGlyphs" >60</text>
<text x="38.50" y="316.07" font-size="12.2" text-anchor="end" fill="#2b2b2b" textLength="15.5" lengthAdjust="spacingAndGlyphs" >90</text>
<text x="197.50" y="598.70" font-size="13.8" text-anchor="middle" fill="#2b2b2b" textLength="107.5" lengthAdjust="spacingAndGlyphs" >Thickness (mm)</text>
<text x="15.30" y="431.75" font-size="13.8" text-anchor="middle" fill="#2b2b2b" textLength="77.5" lengthAdjust="spacingAndGlyphs" transform="rotate(-90 15.30 431.75)" >EMI SE (dB)</text>
<rect x="59.5" y="316" width="28" height="13.5" fill="url(#gRl)"/>
<text x="91" y="326.2" font-size="11.2" fill="#2b2b2b">SE<tspan font-size="7.5" dy="2.4">R</tspan></text>
<rect x="59.5" y="334.5" width="28" height="13.5" fill="url(#gAl)"/>
<text x="91" y="344.8" font-size="11.2" fill="#2b2b2b">SE<tspan font-size="7.5" dy="2.4">A</tspan></text>
<rect x="59.5" y="353" width="28" height="14" fill="url(#gTl)"/>
<text x="91" y="363.5" font-size="11.2" fill="#2b2b2b">SE<tspan font-size="7.5" dy="2.4">T</tspan></text>
<text x="24.00" y="296.80" font-size="26.5" text-anchor="start" fill="#111" >b</text>
<rect x="414.5" y="5.5" width="301.25" height="242.5" fill="none" stroke="#444444" stroke-width="1.2"/>
<line x1="436.25" y1="248" x2="436.25" y2="251.5" stroke="#444444" stroke-width="1"/>
<line x1="479.25" y1="248" x2="479.25" y2="251.5" stroke="#444444" stroke-width="1"/>
<line x1="522.25" y1="248" x2="522.25" y2="251.5" stroke="#444444" stroke-width="1"/>
<line x1="565.25" y1="248" x2="565.25" y2="251.5" stroke="#444444" stroke-width="1"/>
<line x1="608.25" y1="248" x2="608.25" y2="251.5" stroke="#444444" stroke-width="1"/>
<line x1="651.25" y1="248" x2="651.25" y2="251.5" stroke="#444444" stroke-width="1"/>
<line x1="694.25" y1="248" x2="694.25" y2="251.5" stroke="#444444" stroke-width="1"/>
<line x1="414.75" y1="248" x2="414.75" y2="250" stroke="#444444" stroke-width="1"/>
<line x1="457.75" y1="248" x2="457.75" y2="250" stroke="#444444" stroke-width="1"/>
<line x1="500.75" y1="248" x2="500.75" y2="250" stroke="#444444" stroke-width="1"/>
<line x1="543.75" y1="248" x2="543.75" y2="250" stroke="#444444" stroke-width="1"/>
<line x1="586.75" y1="248" x2="586.75" y2="250" stroke="#444444" stroke-width="1"/>
<line x1="629.75" y1="248" x2="629.75" y2="250" stroke="#444444" stroke-width="1"/>
<line x1="672.75" y1="248" x2="672.75" y2="250" stroke="#444444" stroke-width="1"/>
<line x1="715.75" y1="248" x2="715.75" y2="250" stroke="#444444" stroke-width="1"/>
<line x1="411.0" y1="225.40" x2="414.5" y2="225.40" stroke="#444444" stroke-width="1"/>
<line x1="411.0" y1="159.28" x2="414.5" y2="159.28" stroke="#444444" stroke-width="1"/>
<line x1="411.0" y1="93.16" x2="414.5" y2="93.16" stroke="#444444" stroke-width="1"/>
<line x1="411.0" y1="27.04" x2="414.5" y2="27.04" stroke="#444444" stroke-width="1"/>
<line x1="412.5" y1="192.34" x2="414.5" y2="192.34" stroke="#444444" stroke-width="1"/>
<line x1="412.5" y1="126.22" x2="414.5" y2="126.22" stroke="#444444" stroke-width="1"/>
<line x1="412.5" y1="60.10" x2="414.5" y2="60.10" stroke="#444444" stroke-width="1"/>
<text x="436.25" y="267.00" font-size="12.2" text-anchor="middle" fill="#2b2b2b" textLength="7.7" lengthAdjust="spacingAndGlyphs" >1</text>
<text x="479.25" y="267.00" font-size="12.2" text-anchor="middle" fill="#2b2b2b" textLength="7.7" lengthAdjust="spacingAndGlyphs" >2</text>
<text x="522.25" y="267.00" font-size="12.2" text-anchor="middle" fill="#2b2b2b" textLength="7.7" lengthAdjust="spacingAndGlyphs" >3</text>
<text x="565.25" y="267.00" font-size="12.2" text-anchor="middle" fill="#2b2b2b" textLength="7.7" lengthAdjust="spacingAndGlyphs" >4</text>
<text x="608.25" y="267.00" font-size="12.2" text-anchor="middle" fill="#2b2b2b" textLength="7.7" lengthAdjust="spacingAndGlyphs" >5</text>
<text x="651.25" y="267.00" font-size="12.2" text-anchor="middle" fill="#2b2b2b" textLength="7.7" lengthAdjust="spacingAndGlyphs" >6</text>
<text x="694.25" y="267.00" font-size="12.2" text-anchor="middle" fill="#2b2b2b" textLength="7.7" lengthAdjust="spacingAndGlyphs" >7</text>
<text x="406.00" y="229.70" font-size="12.2" text-anchor="end" fill="#2b2b2b" textLength="19.3" lengthAdjust="spacingAndGlyphs" >0.0</text>
<text x="406.00" y="163.58" font-size="12.2" text-anchor="end" fill="#2b2b2b" textLength="19.3" lengthAdjust="spacingAndGlyphs" >0.3</text>
<text x="406.00" y="97.46" font-size="12.2" text-anchor="end" fill="#2b2b2b" textLength="19.3" lengthAdjust="spacingAndGlyphs" >0.6</text>
<text x="406.00" y="31.34" font-size="12.2" text-anchor="end" fill="#2b2b2b" textLength="19.3" lengthAdjust="spacingAndGlyphs" >0.9</text>
<text x="565.60" y="292.50" font-size="13.8" text-anchor="middle" fill="#2b2b2b" textLength="107.3" lengthAdjust="spacingAndGlyphs" >Thickness (mm)</text>
<text x="381.00" y="127.00" font-size="13.8" text-anchor="middle" fill="#2b2b2b" textLength="113.7" lengthAdjust="spacingAndGlyphs" transform="rotate(-90 381.00 127.00)" >Power coefficient</text>
<polyline points="436.25,79.94 479.25,60.76 522.25,39.16 565.25,31.89 608.25,60.10 651.25,58.56 694.25,55.03" fill="none" stroke="#e0404e" stroke-width="1.2" />
<polyline points="436.25,154.87 479.25,171.40 522.25,191.90 565.25,198.95 608.25,170.96 651.25,171.84 694.25,175.37" fill="none" stroke="#1fa6c9" stroke-width="1.2" />
<polyline points="436.25,220.99 479.25,223.64 522.25,224.96 565.25,225.40 608.25,225.40 651.25,225.40 694.25,225.40" fill="none" stroke="#6ab04c" stroke-width="1.2" />
<circle cx="436.25" cy="79.94" r="5.5" fill="#ffffff"/><circle cx="436.25" cy="79.94" r="3.7" fill="url(#ballR)" stroke="#d8303f" stroke-width="0.8"/>
<circle cx="479.25" cy="60.76" r="5.5" fill="#ffffff"/><circle cx="479.25" cy="60.76" r="3.7" fill="url(#ballR)" stroke="#d8303f" stroke-width="0.8"/>
<circle cx="522.25" cy="39.16" r="5.5" fill="#ffffff"/><circle cx="522.25" cy="39.16" r="3.7" fill="url(#ballR)" stroke="#d8303f" stroke-width="0.8"/>
<circle cx="565.25" cy="31.89" r="5.5" fill="#ffffff"/><circle cx="565.25" cy="31.89" r="3.7" fill="url(#ballR)" stroke="#d8303f" stroke-width="0.8"/>
<circle cx="608.25" cy="60.10" r="5.5" fill="#ffffff"/><circle cx="608.25" cy="60.10" r="3.7" fill="url(#ballR)" stroke="#d8303f" stroke-width="0.8"/>
<circle cx="651.25" cy="58.56" r="5.5" fill="#ffffff"/><circle cx="651.25" cy="58.56" r="3.7" fill="url(#ballR)" stroke="#d8303f" stroke-width="0.8"/>
<circle cx="694.25" cy="55.03" r="5.5" fill="#ffffff"/><circle cx="694.25" cy="55.03" r="3.7" fill="url(#ballR)" stroke="#d8303f" stroke-width="0.8"/>
<rect x="430.95" y="149.57" width="10.600000000000001" height="10.600000000000001" fill="#ffffff"/><rect x="432.55" y="151.17" width="7.4" height="7.4" fill="#1fa6c9"/>
<rect x="473.95" y="166.10" width="10.600000000000001" height="10.600000000000001" fill="#ffffff"/><rect x="475.55" y="167.70" width="7.4" height="7.4" fill="#1fa6c9"/>
<rect x="516.95" y="186.60" width="10.600000000000001" height="10.600000000000001" fill="#ffffff"/><rect x="518.55" y="188.20" width="7.4" height="7.4" fill="#1fa6c9"/>
<rect x="559.95" y="193.65" width="10.600000000000001" height="10.600000000000001" fill="#ffffff"/><rect x="561.55" y="195.25" width="7.4" height="7.4" fill="#1fa6c9"/>
<rect x="602.95" y="165.66" width="10.600000000000001" height="10.600000000000001" fill="#ffffff"/><rect x="604.55" y="167.26" width="7.4" height="7.4" fill="#1fa6c9"/>
<rect x="645.95" y="166.54" width="10.600000000000001" height="10.600000000000001" fill="#ffffff"/><rect x="647.55" y="168.14" width="7.4" height="7.4" fill="#1fa6c9"/>
<rect x="688.95" y="170.07" width="10.600000000000001" height="10.600000000000001" fill="#ffffff"/><rect x="690.55" y="171.67" width="7.4" height="7.4" fill="#1fa6c9"/>
<polygon points="436.25,214.19 429.85,225.39 442.65,225.39" fill="#ffffff"/>
<polygon points="436.25,215.79 431.65,223.84 440.85,223.84" fill="#6ab04c"/>
<polygon points="479.25,216.84 472.85,228.04 485.65,228.04" fill="#ffffff"/>
<polygon points="479.25,218.44 474.65,226.49 483.85,226.49" fill="#6ab04c"/>
<polygon points="522.25,218.16 515.85,229.36 528.65,229.36" fill="#ffffff"/>
<polygon points="522.25,219.76 517.65,227.81 526.85,227.81" fill="#6ab04c"/>
<polygon points="565.25,218.60 558.85,229.80 571.65,229.80" fill="#ffffff"/>
<polygon points="565.25,220.20 560.65,228.25 569.85,228.25" fill="#6ab04c"/>
<polygon points="608.25,218.60 601.85,229.80 614.65,229.80" fill="#ffffff"/>
<polygon points="608.25,220.20 603.65,228.25 612.85,228.25" fill="#6ab04c"/>
<polygon points="651.25,218.60 644.85,229.80 657.65,229.80" fill="#ffffff"/>
<polygon points="651.25,220.20 646.65,228.25 655.85,228.25" fill="#6ab04c"/>
<polygon points="694.25,218.60 687.85,229.80 700.65,229.80" fill="#ffffff"/>
<polygon points="694.25,220.20 689.65,228.25 698.85,228.25" fill="#6ab04c"/>
<line x1="416.5" y1="13" x2="446" y2="13" stroke="#e0404e" stroke-width="1.2"/>
<circle cx="431.50" cy="13.00" r="5.0" fill="#ffffff"/><circle cx="431.50" cy="13.00" r="3.4" fill="url(#ballR)" stroke="#d8303f" stroke-width="0.8"/>
<text x="449.50" y="17.00" font-size="11.2" text-anchor="start" fill="#2b2b2b" >A</text>
<line x1="416.5" y1="29.5" x2="446" y2="29.5" stroke="#1fa6c9" stroke-width="1.2"/>
<rect x="426.70" y="24.70" width="9.6" height="9.6" fill="#ffffff"/><rect x="428.20" y="26.20" width="6.6" height="6.6" fill="#1fa6c9"/>
<text x="449.50" y="33.50" font-size="11.2" text-anchor="start" fill="#2b2b2b" >R</text>
<line x1="416.5" y1="45" x2="446" y2="45" stroke="#6ab04c" stroke-width="1.2"/>
<polygon points="431.50,38.70 425.50,49.20 437.50,49.20" fill="#ffffff"/>
<polygon points="431.50,40.40 427.30,47.75 435.70,47.75" fill="#6ab04c"/>
<text x="449.50" y="49.00" font-size="11.2" text-anchor="start" fill="#2b2b2b" >T</text>
<text x="395.50" y="15.30" font-size="26.5" text-anchor="start" fill="#111" >c</text>
<rect x="414.5" y="304.25" width="302.5" height="243.25" fill="none" stroke="#444444" stroke-width="1.2"/>
<line x1="442.00" y1="547.5" x2="442.00" y2="551.0" stroke="#444444" stroke-width="1"/>
<line x1="497.00" y1="547.5" x2="497.00" y2="551.0" stroke="#444444" stroke-width="1"/>
<line x1="552.00" y1="547.5" x2="552.00" y2="551.0" stroke="#444444" stroke-width="1"/>
<line x1="607.00" y1="547.5" x2="607.00" y2="551.0" stroke="#444444" stroke-width="1"/>
<line x1="662.00" y1="547.5" x2="662.00" y2="551.0" stroke="#444444" stroke-width="1"/>
<line x1="717.00" y1="547.5" x2="717.00" y2="551.0" stroke="#444444" stroke-width="1"/>
<line x1="414.50" y1="547.5" x2="414.50" y2="549.5" stroke="#444444" stroke-width="1"/>
<line x1="469.50" y1="547.5" x2="469.50" y2="549.5" stroke="#444444" stroke-width="1"/>
<line x1="524.50" y1="547.5" x2="524.50" y2="549.5" stroke="#444444" stroke-width="1"/>
<line x1="579.50" y1="547.5" x2="579.50" y2="549.5" stroke="#444444" stroke-width="1"/>
<line x1="634.50" y1="547.5" x2="634.50" y2="549.5" stroke="#444444" stroke-width="1"/>
<line x1="689.50" y1="547.5" x2="689.50" y2="549.5" stroke="#444444" stroke-width="1"/>
<line x1="411.0" y1="507.00" x2="414.5" y2="507.00" stroke="#444444" stroke-width="1"/>
<line x1="411.0" y1="425.75" x2="414.5" y2="425.75" stroke="#444444" stroke-width="1"/>
<line x1="411.0" y1="344.50" x2="414.5" y2="344.50" stroke="#444444" stroke-width="1"/>
<line x1="412.5" y1="547.62" x2="414.5" y2="547.62" stroke="#444444" stroke-width="1"/>
<line x1="412.5" y1="466.38" x2="414.5" y2="466.38" stroke="#444444" stroke-width="1"/>
<line x1="412.5" y1="385.12" x2="414.5" y2="385.12" stroke="#444444" stroke-width="1"/>
<text x="442.00" y="567.00" font-size="12.2" text-anchor="middle" fill="#2b2b2b" textLength="27.1" lengthAdjust="spacingAndGlyphs" >0.00</text>
<text x="497.00" y="567.00" font-size="12.2" text-anchor="middle" fill="#2b2b2b" textLength="27.1" lengthAdjust="spacingAndGlyphs" >0.05</text>
<text x="552.00" y="567.00" font-size="12.2" text-anchor="middle" fill="#2b2b2b" textLength="27.1" lengthAdjust="spacingAndGlyphs" >0.10</text>
<text x="607.00" y="567.00" font-size="12.2" text-anchor="middle" fill="#2b2b2b" textLength="27.1" lengthAdjust="spacingAndGlyphs" >0.15</text>
<text x="662.00" y="567.00" font-size="12.2" text-anchor="middle" fill="#2b2b2b" textLength="27.1" lengthAdjust="spacingAndGlyphs" >0.20</text>
<text x="717.00" y="567.00" font-size="12.2" text-anchor="middle" fill="#2b2b2b" textLength="27.1" lengthAdjust="spacingAndGlyphs" >0.25</text>
<text x="406.00" y="511.30" font-size="12.2" text-anchor="end" fill="#2b2b2b" textLength="15.5" lengthAdjust="spacingAndGlyphs" >40</text>
<text x="406.00" y="430.05" font-size="12.2" text-anchor="end" fill="#2b2b2b" textLength="15.5" lengthAdjust="spacingAndGlyphs" >60</text>
<text x="406.00" y="348.80" font-size="12.2" text-anchor="end" fill="#2b2b2b" textLength="15.5" lengthAdjust="spacingAndGlyphs" >80</text>
<text x="566" y="593.75" font-size="13.8" text-anchor="middle" fill="#2b2b2b" textLength="108" lengthAdjust="spacingAndGlyphs">Density (g/cm<tspan font-size="9.5" dy="-5.5">3</tspan><tspan dy="5.5">)</tspan></text>
<text x="385.00" y="426.00" font-size="13.8" text-anchor="middle" fill="#2b2b2b" textLength="88.0" lengthAdjust="spacingAndGlyphs" transform="rotate(-90 385.00 426.00)" >EMI SET (dB)</text>
<polygon points="468.00,328.40 472.60,333.00 468.00,337.60 463.40,333.00" fill="#ffffff" stroke="#1f7a3f" stroke-width="0.9" />
<polygon points="463.40,333.00 468.00,337.60 472.60,333.00" fill="#1f7a3f" stroke="none" stroke-width="0" />
<circle cx="472.00" cy="331.25" r="3.5" fill="url(#ballR)" stroke="#d8303f" stroke-width="0.8"/>
<polygon points="476.25,355.60 479.63,357.55 479.63,361.45 476.25,363.40 472.87,361.45 472.87,357.55" fill="#ffffff" stroke="#5a6a8a" stroke-width="1.0" />
<polygon points="472.87,359.50 472.87,357.55 476.25,355.60 479.63,357.55 479.63,359.50" fill="#5a6a8a" stroke="none" stroke-width="0" />
<circle cx="484.25" cy="372.00" r="3.5" fill="url(#ballR)" stroke="#d8303f" stroke-width="0.8"/>
<circle cx="475.50" cy="382.00" r="3.5" fill="url(#ballR)" stroke="#d8303f" stroke-width="0.8"/>
<ellipse cx="475.5" cy="355.5" rx="15.4" ry="33.4" fill="#f0925a" opacity="0.62"/>
<polygon points="475.50,389.85 478.88,391.80 478.88,395.70 475.50,397.65 472.12,395.70 472.12,391.80" fill="#ffffff" stroke="#2f7fc0" stroke-width="1.0" />
<polygon points="472.12,393.75 472.12,391.80 475.50,389.85 478.88,391.80 478.88,393.75" fill="#2f7fc0" stroke="none" stroke-width="0" />
<polygon points="491.75,434.10 495.13,436.05 495.13,439.95 491.75,441.90 488.37,439.95 488.37,436.05" fill="#ffffff" stroke="#2f7fc0" stroke-width="1.0" />
<polygon points="488.37,438.00 488.37,436.05 491.75,434.10 495.13,436.05 495.13,438.00" fill="#2f7fc0" stroke="none" stroke-width="0" />
<polygon points="474.25,435.70 478.62,438.88 476.95,444.02 471.55,444.02 469.88,438.88" fill="#f4a81d" stroke="none" stroke-width="0" />
<polygon points="452.50,441.95 453.68,445.12 457.07,445.27 454.42,447.37 455.32,450.63 452.50,448.77 449.68,450.63 450.58,447.37 447.93,445.27 451.32,445.12" fill="#1d5f8f" stroke="none" stroke-width="0" />
<polygon points="451.25,465.50 455.15,467.75 455.15,472.25 451.25,474.50 447.35,472.25 447.35,467.75" fill="#f08fa0" stroke="none" stroke-width="0" />
<polygon points="449.10,475.00 441.05,470.40 441.05,479.60" fill="#cfe6a4"/>
<polygon points="581.25,423.00 576.65,414.95 585.85,414.95" fill="#2f7fc0"/>
<polygon points="584.50,421.00 579.90,429.05 589.10,429.05" fill="#6ab04c"/>
<polygon points="540.00,491.20 535.40,483.15 544.60,483.15" fill="#2f7fc0"/>
<circle cx="607" cy="460.5" r="4.2" fill="#1fb0d0"/>
<polygon points="504.90,499.25 512.95,494.65 512.95,503.85" fill="#9f8fcf"/>
<polygon points="518.00,514.00 523.00,519.00 518.00,524.00 513.00,519.00" fill="#7fd8ee" stroke="none" stroke-width="0" />
<rect x="680.70" y="382.10" width="6.6" height="6.6" fill="#1fb0d0"/>
<rect x="521.90" y="306.40" width="6.2" height="6.2" fill="#1fb0d0"/>
<circle cx="525" cy="322.5" r="3.7" fill="#1fb0d0"/>
<polygon points="525.00,330.90 520.90,338.07 529.10,338.07" fill="#6ab04c"/>
<polygon points="525.00,353.35 520.90,346.18 529.10,346.18" fill="#2f7fc0"/>
<polygon points="525.00,357.15 529.60,361.75 525.00,366.35 520.40,361.75" fill="#7fd8ee" stroke="none" stroke-width="0" />
<polygon points="521.40,374.50 528.58,370.40 528.58,378.60" fill="#9f8fcf"/>
<polygon points="528.60,387.50 521.42,383.40 521.42,391.60" fill="#cfe6a4"/>
<text x="539.50" y="313.10" font-size="10.3" text-anchor="start" fill="#2b2b2b" textLength="30.0" lengthAdjust="spacingAndGlyphs" >MXene</text>
<text x="539.50" y="326.10" font-size="10.3" text-anchor="start" fill="#2b2b2b" textLength="152.0" lengthAdjust="spacingAndGlyphs" >Phthalonitrile-based carbon aerogel</text>
<text x="539.50" y="339.10" font-size="10.3" text-anchor="start" fill="#2b2b2b" textLength="131.0" lengthAdjust="spacingAndGlyphs" >Wood-derived carbon/AgNWs</text>
<text x="539.50" y="352.35" font-size="10.3" text-anchor="start" fill="#2b2b2b" textLength="95.0" lengthAdjust="spacingAndGlyphs" >RF/MWCNTs/Fe3O4</text>
<text x="539.50" y="365.35" font-size="10.3" text-anchor="start" fill="#2b2b2b" textLength="102.0" lengthAdjust="spacingAndGlyphs" >3D-carbon texture/rGO</text>
<text x="539.50" y="378.10" font-size="10.3" text-anchor="start" fill="#2b2b2b" textLength="106.0" lengthAdjust="spacingAndGlyphs" >Carbon honeycomb/rGO</text>
<text x="539.50" y="391.10" font-size="10.3" text-anchor="start" fill="#2b2b2b" textLength="134.0" lengthAdjust="spacingAndGlyphs" >Carbonized cellulose fiber/rGO</text>
<polygon points="584.25,472.45 587.97,474.60 587.97,478.90 584.25,481.05 580.53,478.90 580.53,474.60" fill="#f08fa0" stroke="none" stroke-width="0" />
<polygon points="584.25,484.90 585.39,487.94 588.62,488.08 586.09,490.10 586.95,493.22 584.25,491.43 581.55,493.22 582.41,490.10 579.88,488.08 583.11,487.94" fill="#1d5f8f" stroke="none" stroke-width="0" />
<polygon points="584.25,498.40 588.43,501.44 586.84,506.36 581.66,506.36 580.07,501.44" fill="#f4a81d" stroke="none" stroke-width="0" />
<polygon points="584.25,511.10 588.65,515.50 584.25,519.90 579.85,515.50" fill="#ffffff" stroke="#1f7a3f" stroke-width="0.9" />
<polygon points="579.85,515.50 584.25,519.90 588.65,515.50" fill="#1f7a3f" stroke="none" stroke-width="0" />
<polygon points="584.25,524.95 587.54,526.85 587.54,530.65 584.25,532.55 580.96,530.65 580.96,526.85" fill="#ffffff" stroke="#2f8fc8" stroke-width="1.0" />
<polygon points="580.96,528.75 580.96,526.85 584.25,524.95 587.54,526.85 587.54,528.75" fill="#2f8fc8" stroke="none" stroke-width="0" />
<circle cx="584.25" cy="541.25" r="3.3" fill="url(#ballR)" stroke="#d8303f" stroke-width="0.8"/>
<text x="598.75" y="480.35" font-size="10.3" text-anchor="start" fill="#2b2b2b" textLength="116.0" lengthAdjust="spacingAndGlyphs" >Lignin-derived carbon/rGO</text>
<text x="598.75" y="493.10" font-size="10.3" text-anchor="start" fill="#2b2b2b" textLength="53.0" lengthAdjust="spacingAndGlyphs" >CNT sponge</text>
<text x="598.75" y="506.10" font-size="10.3" text-anchor="start" fill="#2b2b2b" textLength="54.5" lengthAdjust="spacingAndGlyphs" >MXene/rGO</text>
<text x="598.75" y="519.10" font-size="10.3" text-anchor="start" fill="#2b2b2b" textLength="83.0" lengthAdjust="spacingAndGlyphs" >Carbonized PI/rGO</text>
<text x="598.75" y="532.35" font-size="10.3" text-anchor="start" fill="#2b2b2b" textLength="113.5" lengthAdjust="spacingAndGlyphs" >Carbonized cellulose/CNT</text>
<text x="598.75" y="544.85" font-size="10.3" text-anchor="start" fill="#2b2b2b" textLength="41.0" lengthAdjust="spacingAndGlyphs" >This work</text>
<text x="393.50" y="297.70" font-size="28.5" text-anchor="start" fill="#111" >d</text>
<rect x="771.25" y="5.5" width="302.0" height="243.25" fill="none" stroke="#444444" stroke-width="1.2"/>
<line x1="801.50" y1="248.75" x2="801.50" y2="252.25" stroke="#444444" stroke-width="1"/>
<line x1="862.00" y1="248.75" x2="862.00" y2="252.25" stroke="#444444" stroke-width="1"/>
<line x1="922.50" y1="248.75" x2="922.50" y2="252.25" stroke="#444444" stroke-width="1"/>
<line x1="983.00" y1="248.75" x2="983.00" y2="252.25" stroke="#444444" stroke-width="1"/>
<line x1="1043.50" y1="248.75" x2="1043.50" y2="252.25" stroke="#444444" stroke-width="1"/>
<line x1="771.25" y1="248.75" x2="771.25" y2="250.75" stroke="#444444" stroke-width="1"/>
<line x1="831.75" y1="248.75" x2="831.75" y2="250.75" stroke="#444444" stroke-width="1"/>
<line x1="892.25" y1="248.75" x2="892.25" y2="250.75" stroke="#444444" stroke-width="1"/>
<line x1="952.75" y1="248.75" x2="952.75" y2="250.75" stroke="#444444" stroke-width="1"/>
<line x1="1013.25" y1="248.75" x2="1013.25" y2="250.75" stroke="#444444" stroke-width="1"/>
<line x1="1073.75" y1="248.75" x2="1073.75" y2="250.75" stroke="#444444" stroke-width="1"/>
<line x1="767.75" y1="249.00" x2="771.25" y2="249.00" stroke="#444444" stroke-width="1"/>
<line x1="767.75" y1="194.84" x2="771.25" y2="194.84" stroke="#444444" stroke-width="1"/>
<line x1="767.75" y1="140.68" x2="771.25" y2="140.68" stroke="#444444" stroke-width="1"/>
<line x1="767.75" y1="86.52" x2="771.25" y2="86.52" stroke="#444444" stroke-width="1"/>
<line x1="767.75" y1="32.36" x2="771.25" y2="32.36" stroke="#444444" stroke-width="1"/>
<line x1="769.25" y1="221.92" x2="771.25" y2="221.92" stroke="#444444" stroke-width="1"/>
<line x1="769.25" y1="167.76" x2="771.25" y2="167.76" stroke="#444444" stroke-width="1"/>
<line x1="769.25" y1="113.60" x2="771.25" y2="113.60" stroke="#444444" stroke-width="1"/>
<line x1="769.25" y1="59.44" x2="771.25" y2="59.44" stroke="#444444" stroke-width="1"/>
<text x="801.50" y="268.00" font-size="12.2" text-anchor="middle" fill="#2b2b2b" textLength="7.7" lengthAdjust="spacingAndGlyphs" >0</text>
<text x="862.00" y="268.00" font-size="12.2" text-anchor="middle" fill="#2b2b2b" textLength="7.7" lengthAdjust="spacingAndGlyphs" >1</text>
<text x="922.50" y="268.00" font-size="12.2" text-anchor="middle" fill="#2b2b2b" textLength="7.7" lengthAdjust="spacingAndGlyphs" >2</text>
<text x="983.00" y="268.00" font-size="12.2" text-anchor="middle" fill="#2b2b2b" textLength="7.7" lengthAdjust="spacingAndGlyphs" >3</text>
<text x="1043.50" y="268.00" font-size="12.2" text-anchor="middle" fill="#2b2b2b" textLength="7.7" lengthAdjust="spacingAndGlyphs" >4</text>
<text x="762.50" y="253.30" font-size="12.2" text-anchor="end" fill="#2b2b2b" textLength="7.7" lengthAdjust="spacingAndGlyphs" >0</text>
<text x="762.50" y="199.14" font-size="12.2" text-anchor="end" fill="#2b2b2b" textLength="15.5" lengthAdjust="spacingAndGlyphs" >20</text>
<text x="762.50" y="144.98" font-size="12.2" text-anchor="end" fill="#2b2b2b" textLength="15.5" lengthAdjust="spacingAndGlyphs" >40</text>
<text x="762.50" y="90.82" font-size="12.2" text-anchor="end" fill="#2b2b2b" textLength="15.5" lengthAdjust="spacingAndGlyphs" >60</text>
<text x="762.50" y="36.66" font-size="12.2" text-anchor="end" fill="#2b2b2b" textLength="15.5" lengthAdjust="spacingAndGlyphs" >80</text>
<text x="922.75" y="293.20" font-size="13.8" text-anchor="middle" fill="#2b2b2b" textLength="43.0" lengthAdjust="spacingAndGlyphs" >Month</text>
<text x="740.50" y="127.00" font-size="13.8" text-anchor="middle" fill="#2b2b2b" textLength="90.0" lengthAdjust="spacingAndGlyphs" transform="rotate(-90 740.50 127.00)" >EMI SET (dB)</text>
<polyline points="801.50,23.15 862.00,53.75 952.75,54.57 983.00,60.25 1043.50,62.96" fill="none" stroke="#e0404e" stroke-width="1.5" />
<polyline points="801.50,107.37 862.00,124.16 952.75,132.01 983.00,136.89 1043.50,154.76" fill="none" stroke="#1fa6c9" stroke-width="1.5" />
<circle cx="801.50" cy="23.15" r="6.1" fill="#ffffff"/><circle cx="801.50" cy="23.15" r="4.3" fill="url(#ballR)" stroke="#d8303f" stroke-width="0.8"/>
<circle cx="862.00" cy="53.75" r="6.1" fill="#ffffff"/><circle cx="862.00" cy="53.75" r="4.3" fill="url(#ballR)" stroke="#d8303f" stroke-width="0.8"/>
<circle cx="952.75" cy="54.57" r="6.1" fill="#ffffff"/><circle cx="952.75" cy="54.57" r="4.3" fill="url(#ballR)" stroke="#d8303f" stroke-width="0.8"/>
<circle cx="983.00" cy="60.25" r="6.1" fill="#ffffff"/><circle cx="983.00" cy="60.25" r="4.3" fill="url(#ballR)" stroke="#d8303f" stroke-width="0.8"/>
<circle cx="1043.50" cy="62.96" r="6.1" fill="#ffffff"/><circle cx="1043.50" cy="62.96" r="4.3" fill="url(#ballR)" stroke="#d8303f" stroke-width="0.8"/>
<rect x="795.70" y="101.57" width="11.6" height="11.6" fill="#ffffff"/><rect x="797.40" y="103.27" width="8.2" height="8.2" fill="#1fa6c9"/>
<rect x="856.20" y="118.36" width="11.6" height="11.6" fill="#ffffff"/><rect x="857.90" y="120.06" width="8.2" height="8.2" fill="#1fa6c9"/>
<rect x="946.95" y="126.21" width="11.6" height="11.6" fill="#ffffff"/><rect x="948.65" y="127.91" width="8.2" height="8.2" fill="#1fa6c9"/>
<rect x="977.20" y="131.09" width="11.6" height="11.6" fill="#ffffff"/><rect x="978.90" y="132.79" width="8.2" height="8.2" fill="#1fa6c9"/>
<rect x="1037.70" y="148.96" width="11.6" height="11.6" fill="#ffffff"/><rect x="1039.40" y="150.66" width="8.2" height="8.2" fill="#1fa6c9"/>
<line x1="977" y1="14.4" x2="1006" y2="14.4" stroke="#e0404e" stroke-width="1.3"/>
<circle cx="992.30" cy="14.40" r="5.6" fill="#ffffff"/><circle cx="992.30" cy="14.40" r="3.9" fill="url(#ballR)" stroke="#d8303f" stroke-width="0.8"/>
<text x="1009.50" y="18.40" font-size="11.2" text-anchor="start" fill="#2b2b2b" textLength="24.5" lengthAdjust="spacingAndGlyphs" >GMA</text>
<line x1="977" y1="30.5" x2="1006" y2="30.5" stroke="#1fa6c9" stroke-width="1.3"/>
<rect x="987.00" y="25.20" width="10.600000000000001" height="10.600000000000001" fill="#ffffff"/><rect x="988.60" y="26.80" width="7.4" height="7.4" fill="#1fa6c9"/>
<text x="1009.50" y="34.50" font-size="11.2" text-anchor="start" fill="#2b2b2b" textLength="60.0" lengthAdjust="spacingAndGlyphs" >MXene film</text>
<text x="751.50" y="16.50" font-size="26.5" text-anchor="start" fill="#111" >e</text>
<clipPath id="semclip"><rect x="49" y="603.2" width="298" height="223.0"/></clipPath>
<g clip-path="url(#semclip)">
<g filter="url(#semtex)">
<rect x="19" y="573.2" width="358" height="283.0" fill="#9a9a9a"/>
<g filter="url(#blur9)">
<rect x="48.0" y="602.0" width="32.0" height="30.0" fill="#6a6a6a"/><rect x="78.0" y="602.0" width="32.0" height="30.0" fill="#a8a8a8"/><rect x="108.0" y="602.0" width="32.0" height="30.0" fill="#b0b0b0"/><rect x="138.0" y="602.0" width="32.0" height="30.0" fill="#a0a0a0"/><rect x="168.0" y="602.0" width="32.0" height="30.0" fill="#989898"/><rect x="198.0" y="602.0" width="32.0" height="30.0" fill="#a0a0a0"/><rect x="228.0" y="602.0" width="32.0" height="30.0" fill="#aaaaaa"/><rect x="258.0" y="602.0" width="32.0" height="30.0" fill="#787878"/><rect x="288.0" y="602.0" width="32.0" height="30.0" fill="#a2a2a2"/><rect x="318.0" y="602.0" width="32.0" height="30.0" fill="#5c5c5c"/>
<rect x="48.0" y="630.0" width="32.0" height="30.0" fill="#888888"/><rect x="78.0" y="630.0" width="32.0" height="30.0" fill="#787878"/><rect x="108.0" y="630.0" width="32.0" height="30.0" fill="#a4a4a4"/><rect x="138.0" y="630.0" width="32.0" height="30.0" fill="#b0b0b0"/><rect x="168.0" y="630.0" width="32.0" height="30.0" fill="#c2c2c2"/><rect x="198.0" y="630.0" width="32.0" height="30.0" fill="#b4b4b4"/><rect x="228.0" y="630.0" width="32.0" height="30.0" fill="#bcbcbc"/><rect x="258.0" y="630.0" width="32.0" height="30.0" fill="#b2b2b2"/><rect x="288.0" y="630.0" width="32.0" height="30.0" fill="#bebebe"/><rect x="318.0" y="630.0" width="32.0" height="30.0" fill="#868686"/>
<rect x="48.0" y="658.0" width="32.0" height="30.0" fill="#909090"/><rect x="78.0" y="658.0" width="32.0" height="30.0" fill="#707070"/><rect x="108.0" y="658.0" width="32.0" height="30.0" fill="#5e5e5e"/><rect x="138.0" y="658.0" width="32.0" height="30.0" fill="#989898"/><rect x="168.0" y="658.0" width="32.0" height="30.0" fill="#bcbcbc"/><rect x="198.0" y="658.0" width="32.0" height="30.0" fill="#b4b4b4"/><rect x="228.0" y="658.0" width="32.0" height="30.0" fill="#b4b4b4"/><rect x="258.0" y="658.0" width="32.0" height="30.0" fill="#bababa"/><rect x="288.0" y="658.0" width="32.0" height="30.0" fill="#989898"/><rect x="318.0" y="658.0" width="32.0" height="30.0" fill="#808080"/>
<rect x="48.0" y="686.0" width="32.0" height="30.0" fill="#666666"/><rect x="78.0" y="686.0" width="32.0" height="30.0" fill="#a4a4a4"/><rect x="108.0" y="686.0" width="32.0" height="30.0" fill="#989898"/><rect x="138.0" y="686.0" width="32.0" height="30.0" fill="#b2b2b2"/><rect x="168.0" y="686.0" width="32.0" height="30.0" fill="#bcbcbc"/><rect x="198.0" y="686.0" width="32.0" height="30.0" fill="#c4c4c4"/><rect x="228.0" y="686.0" width="32.0" height="30.0" fill="#acacac"/><rect x="258.0" y="686.0" width="32.0" height="30.0" fill="#aaaaaa"/><rect x="288.0" y="686.0" width="32.0" height="30.0" fill="#868686"/><rect x="318.0" y="686.0" width="32.0" height="30.0" fill="#8a8a8a"/>
<rect x="48.0" y="714.0" width="32.0" height="30.0" fill="#484848"/><rect x="78.0" y="714.0" width="32.0" height="30.0" fill="#686868"/><rect x="108.0" y="714.0" width="32.0" height="30.0" fill="#c0c0c0"/><rect x="138.0" y="714.0" width="32.0" height="30.0" fill="#acacac"/><rect x="168.0" y="714.0" width="32.0" height="30.0" fill="#aaaaaa"/><rect x="198.0" y="714.0" width="32.0" height="30.0" fill="#c2c2c2"/><rect x="228.0" y="714.0" width="32.0" height="30.0" fill="#bcbcbc"/><rect x="258.0" y="714.0" width="32.0" height="30.0" fill="#b2b2b2"/><rect x="288.0" y="714.0" width="32.0" height="30.0" fill="#a6a6a6"/><rect x="318.0" y="714.0" width="32.0" height="30.0" fill="#989898"/>
<rect x="48.0" y="742.0" width="32.0" height="30.0" fill="#484848"/><rect x="78.0" y="742.0" width="32.0" height="30.0" fill="#7c7c7c"/><rect x="108.0" y="742.0" width="32.0" height="30.0" fill="#c0c0c0"/><rect x="138.0" y="742.0" width="32.0" height="30.0" fill="#bababa"/><rect x="168.0" y="742.0" width="32.0" height="30.0" fill="#a2a2a2"/><rect x="198.0" y="742.0" width="32.0" height="30.0" fill="#bcbcbc"/><rect x="228.0" y="742.0" width="32.0" height="30.0" fill="#bcbcbc"/><rect x="258.0" y="742.0" width="32.0" height="30.0" fill="#b2b2b2"/><rect x="288.0" y="742.0" width="32.0" height="30.0" fill="#aeaeae"/><rect x="318.0" y="742.0" width="32.0" height="30.0" fill="#a0a0a0"/>
<rect x="48.0" y="770.0" width="32.0" height="30.0" fill="#505050"/><rect x="78.0" y="770.0" width="32.0" height="30.0" fill="#909090"/><rect x="108.0" y="770.0" width="32.0" height="30.0" fill="#b8b8b8"/><rect x="138.0" y="770.0" width="32.0" height="30.0" fill="#9a9a9a"/><rect x="168.0" y="770.0" width="32.0" height="30.0" fill="#989898"/><rect x="198.0" y="770.0" width="32.0" height="30.0" fill="#bababa"/><rect x="228.0" y="770.0" width="32.0" height="30.0" fill="#b2b2b2"/><rect x="258.0" y="770.0" width="32.0" height="30.0" fill="#a8a8a8"/><rect x="288.0" y="770.0" width="32.0" height="30.0" fill="#a4a4a4"/><rect x="318.0" y="770.0" width="32.0" height="30.0" fill="#8a8a8a"/>
<rect x="48.0" y="798.0" width="32.0" height="30.0" fill="#565656"/><rect x="78.0" y="798.0" width="32.0" height="30.0" fill="#707070"/><rect x="108.0" y="798.0" width="32.0" height="30.0" fill="#808080"/><rect x="138.0" y="798.0" width="32.0" height="30.0" fill="#727272"/><rect x="168.0" y="798.0" width="32.0" height="30.0" fill="#787878"/><rect x="198.0" y="798.0" width="32.0" height="30.0" fill="#909090"/><rect x="228.0" y="798.0" width="32.0" height="30.0" fill="#909090"/><rect x="258.0" y="798.0" width="32.0" height="30.0" fill="#808080"/><rect x="288.0" y="798.0" width="32.0" height="30.0" fill="#8c8c8c"/><rect x="318.0" y="798.0" width="32.0" height="30.0" fill="#505050"/>
<rect x="19" y="602.0" width="31" height="30.0" fill="#6a6a6a"/><rect x="348" y="602.0" width="31" height="30.0" fill="#5c5c5c"/><rect x="19" y="630.0" width="31" height="30.0" fill="#888888"/><rect x="348" y="630.0" width="31" height="30.0" fill="#868686"/><rect x="19" y="658.0" width="31" height="30.0" fill="#909090"/><rect x="348" y="658.0" width="31" height="30.0" fill="#808080"/><rect x="19" y="686.0" width="31" height="30.0" fill="#666666"/><rect x="348" y="686.0" width="31" height="30.0" fill="#8a8a8a"/><rect x="19" y="714.0" width="31" height="30.0" fill="#484848"/><rect x="348" y="714.0" width="31" height="30.0" fill="#989898"/><rect x="19" y="742.0" width="31" height="30.0" fill="#484848"/><rect x="348" y="742.0" width="31" height="30.0" fill="#a0a0a0"/><rect x="19" y="770.0" width="31" height="30.0" fill="#505050"/><rect x="348" y="770.0" width="31" height="30.0" fill="#8a8a8a"/><rect x="19" y="798.0" width="31" height="30.0" fill="#565656"/><rect x="348" y="798.0" width="31" height="30.0" fill="#505050"/><rect x="48.0" y="573" width="32.0" height="31" fill="#6a6a6a"/><rect x="78.0" y="573" width="32.0" height="31" fill="#a8a8a8"/><rect x="108.0" y="573" width="32.0" height="31" fill="#b0b0b0"/><rect x="138.0" y="573" width="32.0" height="31" fill="#a0a0a0"/><rect x="168.0" y="573" width="32.0" height="31" fill="#989898"/><rect x="198.0" y="573" width="32.0" height="31" fill="#a0a0a0"/><rect x="228.0" y="573" width="32.0" height="31" fill="#aaaaaa"/><rect x="258.0" y="573" width="32.0" height="31" fill="#787878"/><rect x="288.0" y="573" width="32.0" height="31" fill="#a2a2a2"/><rect x="318.0" y="573" width="32.0" height="31" fill="#5c5c5c"/><rect x="48.0" y="826" width="32.0" height="31" fill="#565656"/><rect x="78.0" y="826" width="32.0" height="31" fill="#707070"/><rect x="108.0" y="826" width="32.0" height="31" fill="#808080"/><rect x="138.0" y="826" width="32.0" height="31" fill="#727272"/><rect x="168.0" y="826" width="32.0" height="31" fill="#787878"/><rect x="198.0" y="826" width="32.0" height="31" fill="#909090"/><rect x="228.0" y="826" width="32.0" height="31" fill="#909090"/><rect x="258.0" y="826" width="32.0" height="31" fill="#808080"/><rect x="288.0" y="826" width="32.0" height="31" fill="#8c8c8c"/><rect x="318.0" y="826" width="32.0" height="31" fill="#505050"/></g>
<g filter="url(#blur2)">
<path d="M49.0,603.0 Q68.4,603.0 64.3,609.9 Q60.1,616.9 54.6,625.2 L49.0,633.6 Z" fill="#3c3c3c" stroke="none" stroke-width="0" stroke-linecap="round" stroke-linejoin="round" opacity="1"/>
<path d="M349.0,603.0 Q307.3,603.0 315.7,608.6 Q324.0,614.1 330.9,622.4 Q337.9,630.8 343.4,637.7 L349.0,644.7 Z" fill="#505050" stroke="none" stroke-width="0" stroke-linecap="round" stroke-linejoin="round" opacity="0.9"/>
<path d="M85.1,637.7 Q104.6,641.9 112.9,650.2 Q121.2,658.6 130.9,660.6 Q140.7,662.7 153.2,667.6 Q165.7,672.4 162.9,683.6 Q160.1,694.7 150.4,703.0 Q140.7,711.3 135.1,703.0 Q129.6,694.7 124.0,690.5 Q118.4,686.3 111.5,683.6 Q104.6,680.8 99.0,673.8 Q93.4,666.9 87.9,659.9 L82.3,653.0 Z" fill="#4a4a4a" stroke="none" stroke-width="0" stroke-linecap="round" stroke-linejoin="round" opacity="0.95"/>
<path d="M124.0,655.8 Q140.7,658.6 150.4,664.1 Q160.1,669.7 150.4,678.0 L140.7,686.3 Z" fill="#8c8c8c" stroke="none" stroke-width="0" stroke-linecap="round" stroke-linejoin="round" opacity="0.9"/>
<path d="M74.0,629.4 Q93.4,630.8 101.1,634.9 Q108.7,639.1 115.0,646.8 Q121.2,654.4 129.6,653.7 Q137.9,653.0 141.4,657.9 Q144.8,662.7 155.2,664.1 Q165.7,665.5 172.6,671.8 L179.6,678.0" fill="none" stroke="#e2e2e2" stroke-width="3.2" stroke-linecap="round" stroke-linejoin="round" opacity="0.95"/>
<path d="M76.8,653.0 Q87.9,669.7 94.8,676.6 Q101.8,683.6 108.7,686.3 Q115.7,689.1 122.6,694.7 L129.6,700.2" fill="none" stroke="#cfcfcf" stroke-width="2.6" stroke-linecap="round" stroke-linejoin="round" opacity="0.8"/>
<path d="M60.1,683.6 Q79.6,694.7 92.1,698.8 Q104.6,703.0 117.1,706.5 Q129.6,709.9 136.5,705.1 Q143.4,700.2 147.6,693.3 L151.8,686.3" fill="none" stroke="#e2e2e2" stroke-width="3.0" stroke-linecap="round" stroke-linejoin="round" opacity="0.9"/>
<path d="M62.9,690.5 Q82.3,700.2 93.4,704.4 Q104.6,708.6 117.1,712.0 Q129.6,715.5 137.9,710.6 L146.2,705.8" fill="none" stroke="#3e3e3e" stroke-width="2.2" stroke-linecap="round" stroke-linejoin="round" opacity="0.85"/>
<path d="M68.4,698.8 Q87.9,707.2 99.0,710.6 Q110.1,714.1 121.2,716.9 Q132.3,719.7 139.3,716.2 L146.2,712.7" fill="none" stroke="#cfcfcf" stroke-width="2.6" stroke-linecap="round" stroke-linejoin="round" opacity="0.9"/>
<path d="M74.0,708.6 Q93.4,714.1 103.2,716.9 L112.9,719.7" fill="none" stroke="#555555" stroke-width="2" stroke-linecap="round" stroke-linejoin="round" opacity="0.8"/>
<path d="M49.0,694.7 Q65.7,700.2 72.6,709.9 Q79.6,719.7 89.3,726.6 Q99.0,733.6 92.1,743.3 Q85.1,753.0 90.7,761.3 Q96.2,769.7 86.5,776.6 Q76.8,783.6 75.4,793.3 Q74.0,803.0 61.5,808.6 L49.0,814.1 Z" fill="#444444" stroke="none" stroke-width="0" stroke-linecap="round" stroke-linejoin="round" opacity="0.9"/>
<path d="M87.9,747.4 Q110.1,733.6 114.3,726.6 Q118.4,719.7 129.6,718.3 Q140.7,716.9 150.4,725.2 Q160.1,733.6 162.9,746.1 Q165.7,758.6 160.1,764.1 Q154.6,769.7 147.6,775.2 Q140.7,780.8 130.9,776.6 Q121.2,772.4 112.9,765.5 L104.6,758.6 Z" fill="#cdcdcd" stroke="none" stroke-width="0" stroke-linecap="round" stroke-linejoin="round" opacity="0.9"/>
<path d="M82.3,769.7 Q99.0,764.1 110.1,769.7 Q121.2,775.2 132.3,780.8 Q143.4,786.3 151.8,790.5 Q160.1,794.7 146.2,798.8 Q132.3,803.0 118.4,805.8 Q104.6,808.6 93.4,803.0 L82.3,797.4 Z" fill="#a8a8a8" stroke="none" stroke-width="0" stroke-linecap="round" stroke-linejoin="round" opacity="0.8"/>
<path d="M132.3,758.6 Q146.2,769.7 150.4,765.5 L154.6,761.3" fill="none" stroke="#3e3e3e" stroke-width="3" stroke-linecap="round" stroke-linejoin="round" opacity="0.9"/>
<path d="M140.7,622.4 Q154.6,633.6 161.5,643.3 Q168.4,653.0 176.8,662.7 Q185.1,672.4 189.3,683.6 Q193.4,694.7 196.2,709.9 L199.0,725.2" fill="none" stroke="#e2e2e2" stroke-width="3.4" stroke-linecap="round" stroke-linejoin="round" opacity="0.9"/>
<path d="M146.2,633.6 Q160.1,655.8 167.1,665.5 Q174.0,675.2 180.9,687.7 Q187.9,700.2 190.7,712.7 L193.4,725.2" fill="none" stroke="#3e3e3e" stroke-width="2.4" stroke-linecap="round" stroke-linejoin="round" opacity="0.85"/>
<path d="M165.7,622.4 Q187.9,636.3 196.2,644.7 Q204.6,653.0 211.5,657.9 L218.4,662.7" fill="none" stroke="#cfcfcf" stroke-width="4" stroke-linecap="round" stroke-linejoin="round" opacity="0.9"/>
<path d="M171.2,633.6 Q193.4,647.4 203.2,657.2 L212.9,666.9" fill="none" stroke="#555555" stroke-width="2.2" stroke-linecap="round" stroke-linejoin="round" opacity="0.8"/>
<path d="M160.1,736.3 Q165.7,753.0 172.6,761.3 L179.6,769.7" fill="none" stroke="#3e3e3e" stroke-width="3.2" stroke-linecap="round" stroke-linejoin="round" opacity="0.9"/>
<path d="M204.6,672.4 Q215.7,694.7 221.2,707.2 Q226.8,719.7 221.2,733.6 Q215.7,747.4 210.1,758.6 L204.6,769.7" fill="none" stroke="#cfcfcf" stroke-width="3.0" stroke-linecap="round" stroke-linejoin="round" opacity="0.8"/>
<path d="M212.9,611.3 Q218.4,630.8 217.1,639.1 L215.7,647.4" fill="none" stroke="#555555" stroke-width="3" stroke-linecap="round" stroke-linejoin="round" opacity="0.8"/>
<path d="M226.8,608.6 Q243.4,619.7 242.1,628.0 L240.7,636.3" fill="none" stroke="#e2e2e2" stroke-width="3" stroke-linecap="round" stroke-linejoin="round" opacity="0.8"/>
<path d="M243.4,658.6 Q251.8,686.3 252.5,700.2 Q253.2,714.1 251.1,728.0 Q249.0,741.9 246.2,755.8 L243.4,769.7" fill="none" stroke="#e2e2e2" stroke-width="3" stroke-linecap="round" stroke-linejoin="round" opacity="0.85"/>
<path d="M260.1,666.9 Q271.2,691.9 275.4,705.8 Q279.6,719.7 283.7,730.8 L287.9,741.9" fill="none" stroke="#3e3e3e" stroke-width="2.4" stroke-linecap="round" stroke-linejoin="round" opacity="0.85"/>
<path d="M268.4,655.8 Q282.3,680.8 287.9,694.7 Q293.4,708.6 296.2,721.1 L299.0,733.6" fill="none" stroke="#cfcfcf" stroke-width="3" stroke-linecap="round" stroke-linejoin="round" opacity="0.85"/>
<path d="M285.1,678.0 Q296.2,700.2 299.0,711.3 L301.8,722.4" fill="none" stroke="#3e3e3e" stroke-width="2.6" stroke-linecap="round" stroke-linejoin="round" opacity="0.9"/>
<path d="M293.4,625.2 Q287.9,647.4 283.7,658.6 L279.6,669.7" fill="none" stroke="#e2e2e2" stroke-width="3.4" stroke-linecap="round" stroke-linejoin="round" opacity="0.85"/>
<path d="M343.4,636.3 Q321.2,650.2 312.9,662.7 Q304.6,675.2 301.8,684.9 L299.0,694.7" fill="none" stroke="#555555" stroke-width="3.2" stroke-linecap="round" stroke-linejoin="round" opacity="0.8"/>
<path d="M347.6,647.4 Q326.8,666.9 321.2,680.8 Q315.7,694.7 314.3,708.6 Q312.9,722.4 305.9,734.9 L299.0,747.4" fill="none" stroke="#cfcfcf" stroke-width="2.6" stroke-linecap="round" stroke-linejoin="round" opacity="0.7"/>
<path d="M310.1,686.3 Q326.8,680.8 332.3,689.1 Q337.9,697.4 335.1,709.9 Q332.3,722.4 324.0,728.0 L315.7,733.6 Z" fill="#6c6c6c" stroke="none" stroke-width="0" stroke-linecap="round" stroke-linejoin="round" opacity="0.6"/>
<path d="M182.3,797.4 Q215.7,791.9 232.3,787.7 Q249.0,783.6 267.1,782.2 L285.1,780.8" fill="none" stroke="#e2e2e2" stroke-width="3" stroke-linecap="round" stroke-linejoin="round" opacity="0.85"/>
<path d="M187.9,805.8 Q221.2,801.6 237.9,798.1 Q254.6,794.7 271.2,794.7 L287.9,794.7" fill="none" stroke="#3e3e3e" stroke-width="2.6" stroke-linecap="round" stroke-linejoin="round" opacity="0.8"/>
<path d="M199.0,769.7 Q226.8,775.2 235.1,773.8 L243.4,772.4" fill="none" stroke="#cfcfcf" stroke-width="3" stroke-linecap="round" stroke-linejoin="round" opacity="0.8"/>
<path d="M287.9,747.4 Q293.4,769.7 296.2,782.2 Q299.0,794.7 303.2,804.4 L307.3,814.1" fill="none" stroke="#cfcfcf" stroke-width="3" stroke-linecap="round" stroke-linejoin="round" opacity="0.7"/>
<path d="M349.0,780.8 Q332.3,797.4 329.6,812.2 Q326.8,826.9 337.9,826.9 L349.0,826.9 Z" fill="#484848" stroke="none" stroke-width="0" stroke-linecap="round" stroke-linejoin="round" opacity="0.85"/>
<path d="M140.7,808.6 Q165.7,814.1 179.6,815.5 Q193.4,816.9 210.1,816.2 Q226.8,815.5 235.1,817.6 L243.4,819.7" fill="none" stroke="#555555" stroke-width="6" stroke-linecap="round" stroke-linejoin="round" opacity="0.7"/>
<path d="M222.0,672.0 Q230.9,705.6 234.8,722.3 Q238.7,739.1 237.8,755.9 L237.0,772.7" fill="none" stroke="#e2e2e2" stroke-width="2.9838377195838888" stroke-linecap="round" stroke-linejoin="round" opacity="0.7"/>
<path d="M231.8,632.4 Q240.7,671.8 244.6,691.5 Q248.5,711.3 247.6,731.0 L246.8,750.7" fill="none" stroke="#3e3e3e" stroke-width="2.178769463764309" stroke-linecap="round" stroke-linejoin="round" opacity="0.55"/>
<path d="M239.5,637.1 Q243.1,675.0 240.9,694.0 Q238.7,713.0 241.3,732.0 L244.0,750.9" fill="none" stroke="#e2e2e2" stroke-width="2.6700173747774887" stroke-linecap="round" stroke-linejoin="round" opacity="0.7"/>
<path d="M245.0,631.5 Q249.0,665.7 247.0,682.8 Q245.1,699.9 247.6,717.0 L250.1,734.1" fill="none" stroke="#3e3e3e" stroke-width="2.4996144461702623" stroke-linecap="round" stroke-linejoin="round" opacity="0.55"/>
<path d="M254.1,639.6 Q257.0,684.0 253.8,706.2 Q250.6,728.4 253.8,750.6 L257.0,772.8" fill="none" stroke="#e2e2e2" stroke-width="2.787924032745787" stroke-linecap="round" stroke-linejoin="round" opacity="0.7"/>
<path d="M257.6,630.9 Q261.0,679.8 258.5,704.3 Q255.9,728.8 258.8,753.3 L261.6,777.8" fill="none" stroke="#3e3e3e" stroke-width="1.6585774030696787" stroke-linecap="round" stroke-linejoin="round" opacity="0.55"/>
<path d="M271.1,679.2 Q280.1,699.1 284.2,709.1 Q288.2,719.1 287.3,729.0 L286.4,739.0" fill="none" stroke="#e2e2e2" stroke-width="2.662757550193297" stroke-linecap="round" stroke-linejoin="round" opacity="0.7"/>
<path d="M276.9,642.2 Q283.8,688.9 285.5,712.3 Q287.2,735.7 287.6,759.0 L288.0,782.4" fill="none" stroke="#3e3e3e" stroke-width="2.5598771747806346" stroke-linecap="round" stroke-linejoin="round" opacity="0.55"/>
<path d="M286.1,647.4 Q289.1,679.5 286.2,695.6 Q283.3,711.6 286.3,727.7 L289.4,743.7" fill="none" stroke="#e2e2e2" stroke-width="2.033123055265092" stroke-linecap="round" stroke-linejoin="round" opacity="0.7"/>
<path d="M288.3,647.5 Q290.2,685.0 285.8,703.7 Q281.5,722.4 285.3,741.1 L289.2,759.9" fill="none" stroke="#3e3e3e" stroke-width="2.2135210994572296" stroke-linecap="round" stroke-linejoin="round" opacity="0.55"/>
<path d="M297.9,648.0 Q303.3,690.1 303.2,711.1 Q303.0,732.2 304.5,753.2 L306.0,774.2" fill="none" stroke="#e2e2e2" stroke-width="2.3052689693543105" stroke-linecap="round" stroke-linejoin="round" opacity="0.7"/>
<path d="M132.2,614.7 Q146.1,644.5 154.5,651.6 Q162.8,658.8 168.4,678.8 L173.9,698.8" fill="none" stroke="#e2e2e2" stroke-width="2.586536787797273" stroke-linecap="round" stroke-linejoin="round" opacity="0.7"/>
<path d="M143.3,622.9 Q157.2,639.4 165.5,652.2 Q173.9,665.0 179.4,675.7 L185.0,686.5" fill="none" stroke="#555555" stroke-width="1.4180675353785301" stroke-linecap="round" stroke-linejoin="round" opacity="0.65"/>
<path d="M149.2,624.7 Q163.1,638.0 171.4,652.5 Q179.8,667.0 185.3,684.4 L190.9,701.8" fill="none" stroke="#e2e2e2" stroke-width="1.853287283131467" stroke-linecap="round" stroke-linejoin="round" opacity="0.7"/>
<path d="M162.6,618.1 Q176.5,640.7 184.9,653.9 Q193.2,667.2 198.7,677.7 L204.3,688.1" fill="none" stroke="#555555" stroke-width="1.7443818130530118" stroke-linecap="round" stroke-linejoin="round" opacity="0.65"/>
<path d="M171.2,623.7 Q185.1,636.6 193.4,652.9 Q201.8,669.1 207.3,678.5 L212.9,687.9" fill="none" stroke="#e2e2e2" stroke-width="2.716117348627866" stroke-linecap="round" stroke-linejoin="round" opacity="0.7"/>
<path d="M178.8,624.3 Q192.7,639.2 201.1,654.0 Q209.4,668.8 215.0,682.1 L220.5,695.4" fill="none" stroke="#555555" stroke-width="2.010827538092624" stroke-linecap="round" stroke-linejoin="round" opacity="0.65"/>
<path d="M188.2,616.1 Q202.1,637.0 210.4,648.6 Q218.7,660.2 224.3,679.0 L229.8,697.8" fill="none" stroke="#e2e2e2" stroke-width="2.0435199799287282" stroke-linecap="round" stroke-linejoin="round" opacity="0.7"/>
<path d="M200.7,614.7 Q214.5,644.6 222.9,654.5 Q231.2,664.5 236.8,678.8 L242.3,693.1" fill="none" stroke="#555555" stroke-width="1.5615294644246163" stroke-linecap="round" stroke-linejoin="round" opacity="0.65"/>
<path d="M188.8,787.0 Q195.8,787.9 199.2,791.3 Q202.7,794.6 206.3,795.2 L209.9,795.7" fill="none" stroke="#e2e2e2" stroke-width="1.906108738293907" stroke-linecap="round" stroke-linejoin="round" opacity="0.7"/>
<path d="M159.3,780.3 Q164.3,784.5 166.8,784.9 Q169.2,785.2 171.8,786.0 L174.4,786.8" fill="none" stroke="#3e3e3e" stroke-width="2.1316644233766766" stroke-linecap="round" stroke-linejoin="round" opacity="0.65"/>
<path d="M268.4,754.6 Q273.9,753.2 276.7,753.3 Q279.4,753.5 282.3,753.4 L285.1,753.2" fill="none" stroke="#e2e2e2" stroke-width="2.4136806764064356" stroke-linecap="round" stroke-linejoin="round" opacity="0.7"/>
<path d="M298.9,804.3 Q305.2,809.3 308.4,810.8 Q311.5,812.3 314.8,814.4 L318.0,816.5" fill="none" stroke="#3e3e3e" stroke-width="1.8881589985552356" stroke-linecap="round" stroke-linejoin="round" opacity="0.65"/>
<path d="M196.6,774.4 Q203.0,773.5 206.2,771.3 Q209.4,769.2 212.6,767.4 L215.9,765.6" fill="none" stroke="#e2e2e2" stroke-width="2.586065240488218" stroke-linecap="round" stroke-linejoin="round" opacity="0.7"/>
<path d="M226.7,770.0 Q232.3,768.6 235.0,766.0 Q237.8,763.4 240.7,762.2 L243.6,760.9" fill="none" stroke="#3e3e3e" stroke-width="2.182018971056495" stroke-linecap="round" stroke-linejoin="round" opacity="0.65"/>
<path d="M268.1,799.1 Q276.7,800.5 281.0,802.3 Q285.3,804.1 289.7,804.7 L294.2,805.3" fill="none" stroke="#e2e2e2" stroke-width="2.3115664837273875" stroke-linecap="round" stroke-linejoin="round" opacity="0.7"/>
<path d="M195.1,779.8 Q203.7,784.7 207.9,785.4 Q212.2,786.2 216.6,787.4 L221.0,788.5" fill="none" stroke="#3e3e3e" stroke-width="1.6938520458108588" stroke-linecap="round" stroke-linejoin="round" opacity="0.65"/>
<path d="M238.4,748.2 Q244.6,748.4 247.7,749.4 Q250.8,750.3 254.0,749.8 L257.2,749.3" fill="none" stroke="#e2e2e2" stroke-width="2.205971508684919" stroke-linecap="round" stroke-linejoin="round" opacity="0.7"/>
<path d="M248.1,800.6 Q256.6,800.5 260.9,798.6 Q265.2,796.8 269.6,796.3 L274.0,795.8" fill="none" stroke="#3e3e3e" stroke-width="2.1378273527139067" stroke-linecap="round" stroke-linejoin="round" opacity="0.65"/>
<path d="M276.3,805.4 Q286.9,807.9 292.2,809.2 Q297.4,810.4 302.9,811.6 L308.3,812.8" fill="none" stroke="#e2e2e2" stroke-width="2.5478197723717027" stroke-linecap="round" stroke-linejoin="round" opacity="0.7"/>
<path d="M178.6,803.2 Q185.2,808.0 188.5,810.0 Q191.8,811.9 195.2,813.4 L198.6,814.8" fill="none" stroke="#3e3e3e" stroke-width="2.0914255848440284" stroke-linecap="round" stroke-linejoin="round" opacity="0.65"/>
<path d="M179.4,799.5 Q188.2,800.9 192.6,801.6 Q197.0,802.4 201.5,802.2 L206.1,802.1" fill="none" stroke="#e2e2e2" stroke-width="1.9049504366755432" stroke-linecap="round" stroke-linejoin="round" opacity="0.7"/>
<path d="M246.5,795.5 Q251.3,793.1 253.6,790.7 Q256.0,788.2 258.5,787.3 L260.9,786.3" fill="none" stroke="#3e3e3e" stroke-width="1.8410684155231103" stroke-linecap="round" stroke-linejoin="round" opacity="0.65"/>
<path d="M109.7,659.7 Q115.3,656.3 118.1,655.7 Q120.9,655.2 123.9,655.2 L126.8,655.3" fill="none" stroke="#e2e2e2" stroke-width="1.62624259565581" stroke-linecap="round" stroke-linejoin="round" opacity="0.6"/>
<path d="M83.0,627.2 Q86.9,626.4 88.8,626.8 Q90.7,627.2 92.6,626.8 L94.6,626.4" fill="none" stroke="#555555" stroke-width="1.7722641310161342" stroke-linecap="round" stroke-linejoin="round" opacity="0.55"/>
<path d="M102.7,631.3 Q105.3,632.9 106.6,634.5 Q107.9,636.1 109.3,637.6 L110.6,639.1" fill="none" stroke="#e2e2e2" stroke-width="1.8053757485159232" stroke-linecap="round" stroke-linejoin="round" opacity="0.6"/>
<path d="M68.4,674.2 Q72.2,672.9 74.1,674.2 Q76.0,675.5 78.0,675.7 L79.9,675.9" fill="none" stroke="#555555" stroke-width="1.8908512729488758" stroke-linecap="round" stroke-linejoin="round" opacity="0.55"/>
<path d="M84.6,656.1 Q89.5,663.0 92.0,665.4 Q94.4,667.8 96.9,670.4 L99.5,673.0" fill="none" stroke="#e2e2e2" stroke-width="1.8191019267532436" stroke-linecap="round" stroke-linejoin="round" opacity="0.6"/>
<path d="M86.8,624.4 Q92.5,629.0 95.4,629.4 Q98.2,629.9 101.2,631.0 L104.1,632.0" fill="none" stroke="#555555" stroke-width="2.1657700729319895" stroke-linecap="round" stroke-linejoin="round" opacity="0.55"/>
<path d="M85.5,678.6 Q89.4,677.9 91.4,676.3 Q93.4,674.6 95.5,674.8 L97.5,674.9" fill="none" stroke="#e2e2e2" stroke-width="1.9658120134210297" stroke-linecap="round" stroke-linejoin="round" opacity="0.6"/>
<path d="M105.6,678.5 Q111.2,678.4 113.9,680.3 Q116.7,682.3 119.6,681.7 L122.5,681.1" fill="none" stroke="#555555" stroke-width="1.5810686915720118" stroke-linecap="round" stroke-linejoin="round" opacity="0.55"/>
</g>
</g>
<rect x="50.4" y="817" width="144.8" height="4" fill="#ffffff"/>
<text x="119.50" y="812.80" font-size="17.5" text-anchor="middle" fill="#ffffff" textLength="43.5" lengthAdjust="spacingAndGlyphs" font-family='"Liberation Serif", serif' font-weight="bold" >30 μm</text>
<text x="215.80" y="703.30" font-size="20" text-anchor="middle" fill="#e0453f" textLength="53.5" lengthAdjust="spacingAndGlyphs" font-family='"Liberation Serif", serif' >MXene</text>
<text x="178.80" y="750.50" font-size="20.5" text-anchor="middle" fill="#e0453f" textLength="33.5" lengthAdjust="spacingAndGlyphs" font-family='"Liberation Serif", serif' >rGO</text>
<text x="269.70" y="750.50" font-size="20.5" text-anchor="middle" fill="#e0453f" textLength="34.0" lengthAdjust="spacingAndGlyphs" font-family='"Liberation Serif", serif' >rGO</text>
<line x1="141.5" y1="680.5" x2="159.8" y2="741.7" stroke="#e23a50" stroke-width="1.5" stroke-dasharray="3.6 1.4"/>
<line x1="176.7" y1="671.4" x2="196.5" y2="732.5" stroke="#e23a50" stroke-width="1.5" stroke-dasharray="3.6 1.4"/>
<line x1="247" y1="676" x2="247" y2="740" stroke="#e23a50" stroke-width="1.5" stroke-dasharray="3.6 1.4"/>
<line x1="288" y1="680.5" x2="289.7" y2="737" stroke="#e23a50" stroke-width="1.5" stroke-dasharray="3.6 1.4"/>
</g>
<text x="29.00" y="609.50" font-size="27.5" text-anchor="start" fill="#111" >g</text>
<rect x="367" y="603.5" width="707.5" height="226" rx="31" ry="31" fill="none" stroke="#e0415a" stroke-width="2.3" stroke-dasharray="7 3.2"/>
<clipPath id="circ"><circle cx="462.5" cy="713.5" r="91"/></clipPath>
<g clip-path="url(#circ)">
<rect x="371.5" y="622.5" width="182" height="182" fill="#ffffff"/>
<rect x="371.5" y="622.5" width="182" height="27.5" fill="#c2c2c2"/>
<rect x="359.3" y="623.5" width="209.1" height="2.0" fill="#bcbcbc"/><rect x="352.3" y="625.5" width="198.9" height="1.3" fill="#d6d6d6"/><rect x="404.8" y="625.5" width="49.8" height="1.3" fill="#f4f4f4"/><rect x="384.5" y="626.8" width="141.6" height="2.0" fill="#cecece"/><rect x="403.6" y="628.8" width="158.0" height="2.1" fill="#bcbcbc"/><rect x="361.1" y="630.9" width="214.5" height="2.3" fill="#aaaaaa"/><rect x="482.3" y="630.9" width="43.8" height="1.3" fill="#f4f4f4"/><rect x="394.6" y="633.2" width="204.2" height="1.9" fill="#c6c6c6"/><rect x="399.6" y="635.0" width="147.8" height="1.8" fill="#cecece"/><rect x="359.7" y="636.8" width="118.2" height="1.3" fill="#c6c6c6"/><rect x="402.8" y="638.1" width="144.7" height="2.3" fill="#cecece"/><rect x="386.6" y="640.4" width="166.0" height="1.7" fill="#d6d6d6"/><rect x="353.2" y="642.1" width="126.4" height="2.5" fill="#aaaaaa"/><rect x="403.1" y="644.6" width="215.4" height="1.4" fill="#aaaaaa"/><rect x="390.8" y="646.0" width="172.3" height="1.3" fill="#d6d6d6"/><rect x="355.3" y="647.3" width="201.0" height="1.6" fill="#c6c6c6"/><rect x="355.5" y="648.9" width="206.6" height="1.7" fill="#b4b4b4"/><rect x="432.2" y="648.9" width="29.5" height="1.3" fill="#f4f4f4"/>
<rect x="371.5" y="668.75" width="182" height="28.75" fill="#c2c2c2"/>
<rect x="388.4" y="669.8" width="95.8" height="1.3" fill="#b4b4b4"/><rect x="406.8" y="671.0" width="126.3" height="2.0" fill="#c6c6c6"/><rect x="376.6" y="671.0" width="15.3" height="1.3" fill="#f4f4f4"/><rect x="353.4" y="673.0" width="115.7" height="2.0" fill="#b4b4b4"/><rect x="392.9" y="675.0" width="217.4" height="1.6" fill="#d6d6d6"/><rect x="422.6" y="675.0" width="19.8" height="1.3" fill="#f4f4f4"/><rect x="403.7" y="676.6" width="140.2" height="1.7" fill="#cecece"/><rect x="388.7" y="678.3" width="212.3" height="2.0" fill="#aaaaaa"/><rect x="394.4" y="680.3" width="211.7" height="2.1" fill="#cecece"/><rect x="384.4" y="682.4" width="91.5" height="1.9" fill="#c6c6c6"/><rect x="374.1" y="684.3" width="166.6" height="1.6" fill="#d6d6d6"/><rect x="461.5" y="684.3" width="26.6" height="1.3" fill="#f4f4f4"/><rect x="372.7" y="686.0" width="181.9" height="2.2" fill="#c6c6c6"/><rect x="408.8" y="688.1" width="92.8" height="2.0" fill="#b4b4b4"/><rect x="387.1" y="690.1" width="131.6" height="1.8" fill="#aaaaaa"/><rect x="402.1" y="692.0" width="124.3" height="2.3" fill="#c6c6c6"/><rect x="353.1" y="694.2" width="164.0" height="2.3" fill="#b4b4b4"/><rect x="390.7" y="696.5" width="125.0" height="1.9" fill="#c6c6c6"/><rect x="467.8" y="696.5" width="37.7" height="1.3" fill="#f4f4f4"/>
<rect x="371.5" y="701" width="182" height="31.5" fill="#c2c2c2"/>
<rect x="370.8" y="702.0" width="133.4" height="1.3" fill="#b4b4b4"/><rect x="409.1" y="703.3" width="100.4" height="2.3" fill="#cecece"/><rect x="378.6" y="705.7" width="119.3" height="2.4" fill="#bcbcbc"/><rect x="446.7" y="705.7" width="21.7" height="1.3" fill="#f4f4f4"/><rect x="368.2" y="708.1" width="194.9" height="1.5" fill="#d6d6d6"/><rect x="359.3" y="709.6" width="128.0" height="1.7" fill="#d6d6d6"/><rect x="389.6" y="711.3" width="127.8" height="1.9" fill="#c6c6c6"/><rect x="360.9" y="713.1" width="90.6" height="2.5" fill="#b4b4b4"/><rect x="377.6" y="715.6" width="213.5" height="2.6" fill="#d6d6d6"/><rect x="378.9" y="718.2" width="187.9" height="1.2" fill="#bcbcbc"/><rect x="404.9" y="719.4" width="202.0" height="2.0" fill="#c6c6c6"/><rect x="366.2" y="721.4" width="94.6" height="1.4" fill="#c6c6c6"/><rect x="405.3" y="722.8" width="207.0" height="2.5" fill="#d6d6d6"/><rect x="358.7" y="725.2" width="155.4" height="1.9" fill="#b4b4b4"/><rect x="374.3" y="725.2" width="33.8" height="1.3" fill="#f4f4f4"/><rect x="388.2" y="727.1" width="134.4" height="2.5" fill="#b4b4b4"/><rect x="493.9" y="727.1" width="31.7" height="1.3" fill="#f4f4f4"/><rect x="363.3" y="729.6" width="159.5" height="1.7" fill="#b4b4b4"/><rect x="367.9" y="731.3" width="205.7" height="1.5" fill="#bcbcbc"/><rect x="502.2" y="731.3" width="32.1" height="1.3" fill="#f4f4f4"/>
<rect x="371.5" y="740" width="182" height="22.5" fill="#c2c2c2"/>
<rect x="354.5" y="741.0" width="125.3" height="2.4" fill="#d6d6d6"/><rect x="446.4" y="741.0" width="29.8" height="1.3" fill="#f4f4f4"/><rect x="400.7" y="743.4" width="201.4" height="1.7" fill="#cecece"/><rect x="355.6" y="745.1" width="216.7" height="1.4" fill="#b4b4b4"/><rect x="380.9" y="746.4" width="110.4" height="1.9" fill="#b4b4b4"/><rect x="426.3" y="746.4" width="28.6" height="1.3" fill="#f4f4f4"/><rect x="363.0" y="748.4" width="132.7" height="1.7" fill="#c6c6c6"/><rect x="450.4" y="748.4" width="40.1" height="1.3" fill="#f4f4f4"/><rect x="385.5" y="750.1" width="95.6" height="2.3" fill="#cecece"/><rect x="374.3" y="752.4" width="194.2" height="2.3" fill="#aaaaaa"/><rect x="389.1" y="754.7" width="188.8" height="1.3" fill="#cecece"/><rect x="506.4" y="754.7" width="29.6" height="1.3" fill="#f4f4f4"/><rect x="383.7" y="755.9" width="180.4" height="1.5" fill="#b4b4b4"/><rect x="431.8" y="755.9" width="29.9" height="1.3" fill="#f4f4f4"/><rect x="374.0" y="757.5" width="206.7" height="2.5" fill="#b4b4b4"/><rect x="392.9" y="760.0" width="212.1" height="1.4" fill="#c6c6c6"/><rect x="391.6" y="761.4" width="185.4" height="2.3" fill="#d6d6d6"/>
<rect x="371.5" y="770" width="182" height="36" fill="#c2c2c2"/>
<rect x="394.5" y="771.0" width="151.6" height="2.3" fill="#b4b4b4"/><rect x="426.7" y="771.0" width="33.5" height="1.3" fill="#f4f4f4"/><rect x="404.3" y="773.3" width="113.3" height="1.3" fill="#d6d6d6"/><rect x="491.0" y="773.3" width="19.2" height="1.3" fill="#f4f4f4"/><rect x="401.7" y="774.7" width="213.8" height="2.1" fill="#b4b4b4"/><rect x="397.5" y="776.8" width="156.5" height="1.3" fill="#b4b4b4"/><rect x="357.5" y="778.1" width="161.9" height="2.0" fill="#b4b4b4"/><rect x="356.1" y="780.0" width="219.8" height="1.5" fill="#d6d6d6"/><rect x="396.7" y="781.5" width="141.2" height="2.1" fill="#cecece"/><rect x="384.9" y="783.6" width="215.6" height="2.5" fill="#cecece"/><rect x="376.3" y="786.1" width="187.2" height="2.6" fill="#bcbcbc"/><rect x="469.6" y="786.1" width="41.5" height="1.3" fill="#f4f4f4"/><rect x="392.6" y="788.6" width="110.3" height="2.5" fill="#aaaaaa"/><rect x="381.4" y="791.1" width="152.9" height="1.4" fill="#bcbcbc"/><rect x="403.0" y="792.6" width="107.7" height="2.0" fill="#cecece"/><rect x="370.4" y="794.6" width="120.2" height="2.0" fill="#bcbcbc"/><rect x="402.8" y="796.6" width="167.4" height="2.1" fill="#c6c6c6"/><rect x="369.9" y="798.7" width="124.9" height="2.4" fill="#c6c6c6"/><rect x="373.1" y="801.2" width="131.9" height="1.4" fill="#bcbcbc"/><rect x="393.4" y="802.6" width="181.2" height="1.8" fill="#bcbcbc"/><rect x="453.9" y="802.6" width="46.6" height="1.3" fill="#f4f4f4"/><rect x="380.4" y="804.4" width="183.7" height="2.0" fill="#aaaaaa"/>
<line x1="383" y1="672" x2="381" y2="700" stroke="#dcdcdc" stroke-width="3.4" stroke-linecap="round"/>
<line x1="451" y1="703" x2="449" y2="728" stroke="#dcdcdc" stroke-width="3.4" stroke-linecap="round"/>
<line x1="499.5" y1="668" x2="497.5" y2="702" stroke="#dcdcdc" stroke-width="3.4" stroke-linecap="round"/>
<line x1="544" y1="706" x2="542" y2="735" stroke="#dcdcdc" stroke-width="3.4" stroke-linecap="round"/>
<line x1="425" y1="722" x2="423" y2="745" stroke="#dcdcdc" stroke-width="3.4" stroke-linecap="round"/>
</g>
<line x1="407.50" y1="645.00" x2="422.50" y2="677.50" stroke="#35aede" stroke-width="1.3" stroke-linecap="round"/>
<line x1="422.50" y1="677.50" x2="422.59" y2="673.30" stroke="#35aede" stroke-width="1.3" stroke-linecap="round"/>
<line x1="422.50" y1="677.50" x2="419.25" y2="674.84" stroke="#35aede" stroke-width="1.3" stroke-linecap="round"/>
<line x1="422.50" y1="677.50" x2="448.75" y2="645.00" stroke="#35aede" stroke-width="1.3" stroke-linecap="round"/>
<line x1="448.75" y1="645.00" x2="444.95" y2="646.78" stroke="#35aede" stroke-width="1.3" stroke-linecap="round"/>
<line x1="448.75" y1="645.00" x2="447.81" y2="649.09" stroke="#35aede" stroke-width="1.3" stroke-linecap="round"/>
<line x1="448.75" y1="645.00" x2="471.00" y2="677.50" stroke="#35aede" stroke-width="1.3" stroke-linecap="round"/>
<line x1="471.00" y1="677.50" x2="470.39" y2="673.35" stroke="#35aede" stroke-width="1.3" stroke-linecap="round"/>
<line x1="471.00" y1="677.50" x2="467.35" y2="675.43" stroke="#35aede" stroke-width="1.3" stroke-linecap="round"/>
<line x1="471.00" y1="677.50" x2="500.00" y2="645.00" stroke="#35aede" stroke-width="1.3" stroke-linecap="round"/>
<line x1="500.00" y1="645.00" x2="496.11" y2="646.59" stroke="#35aede" stroke-width="1.3" stroke-linecap="round"/>
<line x1="500.00" y1="645.00" x2="498.86" y2="649.04" stroke="#35aede" stroke-width="1.3" stroke-linecap="round"/>
<line x1="500.00" y1="645.00" x2="520.00" y2="677.50" stroke="#35aede" stroke-width="1.3" stroke-linecap="round"/>
<line x1="520.00" y1="677.50" x2="519.59" y2="673.32" stroke="#35aede" stroke-width="1.3" stroke-linecap="round"/>
<line x1="520.00" y1="677.50" x2="516.45" y2="675.25" stroke="#35aede" stroke-width="1.3" stroke-linecap="round"/>
<line x1="520.00" y1="677.50" x2="536.00" y2="663.75" stroke="#35aede" stroke-width="1.3" stroke-linecap="round"/>
<line x1="536.00" y1="663.75" x2="531.94" y2="664.81" stroke="#35aede" stroke-width="1.3" stroke-linecap="round"/>
<line x1="536.00" y1="663.75" x2="534.34" y2="667.61" stroke="#35aede" stroke-width="1.3" stroke-linecap="round"/>
<line x1="392.50" y1="692.50" x2="403.75" y2="715.00" stroke="#35aede" stroke-width="1.3" stroke-linecap="round"/>
<line x1="403.75" y1="715.00" x2="403.71" y2="710.80" stroke="#35aede" stroke-width="1.3" stroke-linecap="round"/>
<line x1="403.75" y1="715.00" x2="400.42" y2="712.45" stroke="#35aede" stroke-width="1.3" stroke-linecap="round"/>
<line x1="403.75" y1="715.00" x2="425.00" y2="692.50" stroke="#35aede" stroke-width="1.3" stroke-linecap="round"/>
<line x1="425.00" y1="692.50" x2="421.07" y2="693.98" stroke="#35aede" stroke-width="1.3" stroke-linecap="round"/>
<line x1="425.00" y1="692.50" x2="423.75" y2="696.51" stroke="#35aede" stroke-width="1.3" stroke-linecap="round"/>
<line x1="425.00" y1="692.50" x2="446.00" y2="715.00" stroke="#35aede" stroke-width="1.3" stroke-linecap="round"/>
<line x1="446.00" y1="715.00" x2="444.77" y2="710.98" stroke="#35aede" stroke-width="1.3" stroke-linecap="round"/>
<line x1="446.00" y1="715.00" x2="442.08" y2="713.50" stroke="#35aede" stroke-width="1.3" stroke-linecap="round"/>
<line x1="446.00" y1="715.00" x2="470.00" y2="692.50" stroke="#35aede" stroke-width="1.3" stroke-linecap="round"/>
<line x1="470.00" y1="692.50" x2="465.99" y2="693.74" stroke="#35aede" stroke-width="1.3" stroke-linecap="round"/>
<line x1="470.00" y1="692.50" x2="468.51" y2="696.43" stroke="#35aede" stroke-width="1.3" stroke-linecap="round"/>
<line x1="470.00" y1="692.50" x2="492.50" y2="715.00" stroke="#35aede" stroke-width="1.3" stroke-linecap="round"/>
<line x1="492.50" y1="715.00" x2="491.13" y2="711.03" stroke="#35aede" stroke-width="1.3" stroke-linecap="round"/>
<line x1="492.50" y1="715.00" x2="488.53" y2="713.63" stroke="#35aede" stroke-width="1.3" stroke-linecap="round"/>
<line x1="492.50" y1="715.00" x2="520.00" y2="692.50" stroke="#35aede" stroke-width="1.3" stroke-linecap="round"/>
<line x1="520.00" y1="692.50" x2="515.91" y2="693.47" stroke="#35aede" stroke-width="1.3" stroke-linecap="round"/>
<line x1="520.00" y1="692.50" x2="518.24" y2="696.32" stroke="#35aede" stroke-width="1.3" stroke-linecap="round"/>
<line x1="520.00" y1="692.50" x2="537.50" y2="715.00" stroke="#35aede" stroke-width="1.3" stroke-linecap="round"/>
<line x1="537.50" y1="715.00" x2="536.64" y2="710.89" stroke="#35aede" stroke-width="1.3" stroke-linecap="round"/>
<line x1="537.50" y1="715.00" x2="533.73" y2="713.15" stroke="#35aede" stroke-width="1.3" stroke-linecap="round"/>
<line x1="374.00" y1="726.00" x2="386.00" y2="747.50" stroke="#35aede" stroke-width="1.3" stroke-linecap="round"/>
<line x1="386.00" y1="747.50" x2="385.77" y2="743.31" stroke="#35aede" stroke-width="1.3" stroke-linecap="round"/>
<line x1="386.00" y1="747.50" x2="382.55" y2="745.10" stroke="#35aede" stroke-width="1.3" stroke-linecap="round"/>
<line x1="386.00" y1="747.50" x2="407.50" y2="726.00" stroke="#35aede" stroke-width="1.3" stroke-linecap="round"/>
<line x1="407.50" y1="726.00" x2="403.53" y2="727.37" stroke="#35aede" stroke-width="1.3" stroke-linecap="round"/>
<line x1="407.50" y1="726.00" x2="406.13" y2="729.97" stroke="#35aede" stroke-width="1.3" stroke-linecap="round"/>
<line x1="407.50" y1="726.00" x2="422.50" y2="747.50" stroke="#35aede" stroke-width="1.3" stroke-linecap="round"/>
<line x1="422.50" y1="747.50" x2="421.85" y2="743.35" stroke="#35aede" stroke-width="1.3" stroke-linecap="round"/>
<line x1="422.50" y1="747.50" x2="418.83" y2="745.46" stroke="#35aede" stroke-width="1.3" stroke-linecap="round"/>
<line x1="422.50" y1="747.50" x2="447.50" y2="726.00" stroke="#35aede" stroke-width="1.3" stroke-linecap="round"/>
<line x1="447.50" y1="726.00" x2="443.44" y2="727.07" stroke="#35aede" stroke-width="1.3" stroke-linecap="round"/>
<line x1="447.50" y1="726.00" x2="445.84" y2="729.86" stroke="#35aede" stroke-width="1.3" stroke-linecap="round"/>
<line x1="447.50" y1="726.00" x2="466.00" y2="747.50" stroke="#35aede" stroke-width="1.3" stroke-linecap="round"/>
<line x1="466.00" y1="747.50" x2="464.93" y2="743.44" stroke="#35aede" stroke-width="1.3" stroke-linecap="round"/>
<line x1="466.00" y1="747.50" x2="462.14" y2="745.84" stroke="#35aede" stroke-width="1.3" stroke-linecap="round"/>
<line x1="466.00" y1="747.50" x2="491.00" y2="726.00" stroke="#35aede" stroke-width="1.3" stroke-linecap="round"/>
<line x1="491.00" y1="726.00" x2="486.94" y2="727.07" stroke="#35aede" stroke-width="1.3" stroke-linecap="round"/>
<line x1="491.00" y1="726.00" x2="489.34" y2="729.86" stroke="#35aede" stroke-width="1.3" stroke-linecap="round"/>
<line x1="491.00" y1="726.00" x2="510.00" y2="747.50" stroke="#35aede" stroke-width="1.3" stroke-linecap="round"/>
<line x1="510.00" y1="747.50" x2="508.88" y2="743.45" stroke="#35aede" stroke-width="1.3" stroke-linecap="round"/>
<line x1="510.00" y1="747.50" x2="506.12" y2="745.89" stroke="#35aede" stroke-width="1.3" stroke-linecap="round"/>
<line x1="510.00" y1="747.50" x2="532.50" y2="726.00" stroke="#35aede" stroke-width="1.3" stroke-linecap="round"/>
<line x1="532.50" y1="726.00" x2="528.50" y2="727.28" stroke="#35aede" stroke-width="1.3" stroke-linecap="round"/>
<line x1="532.50" y1="726.00" x2="531.04" y2="729.94" stroke="#35aede" stroke-width="1.3" stroke-linecap="round"/>
<line x1="532.50" y1="726.00" x2="547.50" y2="747.50" stroke="#35aede" stroke-width="1.3" stroke-linecap="round"/>
<line x1="547.50" y1="747.50" x2="546.85" y2="743.35" stroke="#35aede" stroke-width="1.3" stroke-linecap="round"/>
<line x1="547.50" y1="747.50" x2="543.83" y2="745.46" stroke="#35aede" stroke-width="1.3" stroke-linecap="round"/>
<line x1="395.00" y1="763.75" x2="408.75" y2="783.75" stroke="#35aede" stroke-width="1.3" stroke-linecap="round"/>
<line x1="408.75" y1="783.75" x2="408.13" y2="779.60" stroke="#35aede" stroke-width="1.3" stroke-linecap="round"/>
<line x1="408.75" y1="783.75" x2="405.09" y2="781.68" stroke="#35aede" stroke-width="1.3" stroke-linecap="round"/>
<line x1="408.75" y1="783.75" x2="427.50" y2="763.75" stroke="#35aede" stroke-width="1.3" stroke-linecap="round"/>
<line x1="427.50" y1="763.75" x2="423.57" y2="765.24" stroke="#35aede" stroke-width="1.3" stroke-linecap="round"/>
<line x1="427.50" y1="763.75" x2="426.26" y2="767.76" stroke="#35aede" stroke-width="1.3" stroke-linecap="round"/>
<line x1="427.50" y1="763.75" x2="443.75" y2="783.75" stroke="#35aede" stroke-width="1.3" stroke-linecap="round"/>
<line x1="443.75" y1="783.75" x2="442.80" y2="779.66" stroke="#35aede" stroke-width="1.3" stroke-linecap="round"/>
<line x1="443.75" y1="783.75" x2="439.94" y2="781.98" stroke="#35aede" stroke-width="1.3" stroke-linecap="round"/>
<line x1="443.75" y1="783.75" x2="463.75" y2="763.75" stroke="#35aede" stroke-width="1.3" stroke-linecap="round"/>
<line x1="463.75" y1="763.75" x2="459.78" y2="765.12" stroke="#35aede" stroke-width="1.3" stroke-linecap="round"/>
<line x1="463.75" y1="763.75" x2="462.38" y2="767.72" stroke="#35aede" stroke-width="1.3" stroke-linecap="round"/>
<line x1="463.75" y1="763.75" x2="481.00" y2="783.75" stroke="#35aede" stroke-width="1.3" stroke-linecap="round"/>
<line x1="481.00" y1="783.75" x2="479.93" y2="779.69" stroke="#35aede" stroke-width="1.3" stroke-linecap="round"/>
<line x1="481.00" y1="783.75" x2="477.14" y2="782.09" stroke="#35aede" stroke-width="1.3" stroke-linecap="round"/>
<line x1="481.00" y1="783.75" x2="503.75" y2="763.75" stroke="#35aede" stroke-width="1.3" stroke-linecap="round"/>
<line x1="503.75" y1="763.75" x2="499.70" y2="764.86" stroke="#35aede" stroke-width="1.3" stroke-linecap="round"/>
<line x1="503.75" y1="763.75" x2="502.13" y2="767.63" stroke="#35aede" stroke-width="1.3" stroke-linecap="round"/>
<line x1="503.75" y1="763.75" x2="517.50" y2="783.75" stroke="#35aede" stroke-width="1.3" stroke-linecap="round"/>
<line x1="517.50" y1="783.75" x2="516.88" y2="779.60" stroke="#35aede" stroke-width="1.3" stroke-linecap="round"/>
<line x1="517.50" y1="783.75" x2="513.84" y2="781.68" stroke="#35aede" stroke-width="1.3" stroke-linecap="round"/>
<ellipse cx="700" cy="788" rx="110" ry="7" fill="#c4c4c4" opacity="0.6" filter="url(#blur4)"/>
<line x1="559.5" y1="757.7" x2="808.0" y2="742.7" stroke="#58d6ec" stroke-width="13" stroke-linecap="round"/>
<line x1="569.7" y1="757.1" x2="798.8" y2="743.3" stroke="#c6c6c6" stroke-width="15" stroke-linecap="round"/>
<line x1="570.6" y1="754.9" x2="797.6" y2="741.2" stroke="#d4d4d4" stroke-width="8.2" stroke-linecap="round"/>
<line x1="648.1" y1="635.2" x2="792.4" y2="748.8" stroke="#58d6ec" stroke-width="12.5" stroke-linecap="round"/>
<line x1="651.4" y1="637.9" x2="784.5" y2="742.5" stroke="#c6c6c6" stroke-width="14.5" stroke-linecap="round"/>
<line x1="653.5" y1="636.9" x2="785.0" y2="740.3" stroke="#d4d4d4" stroke-width="8.0" stroke-linecap="round"/>
<line x1="570.7" y1="783.9" x2="682.8" y2="641.6" stroke="#58d6ec" stroke-width="12.5" stroke-linecap="round"/>
<line x1="577.6" y1="775.2" x2="680.1" y2="644.9" stroke="#c6c6c6" stroke-width="14.5" stroke-linecap="round"/>
<line x1="576.6" y1="773.2" x2="677.9" y2="644.5" stroke="#d4d4d4" stroke-width="8.0" stroke-linecap="round"/>
<circle cx="596.0" cy="742.0" r="1.35" fill="#f3b48e"/><circle cx="599.4" cy="738.3" r="1.35" fill="#f3b48e"/><circle cx="602.9" cy="734.6" r="1.35" fill="#f3b48e"/><circle cx="606.3" cy="730.9" r="1.35" fill="#f3b48e"/><circle cx="609.7" cy="727.1" r="1.35" fill="#f3b48e"/><circle cx="613.1" cy="723.4" r="1.35" fill="#f3b48e"/><circle cx="616.6" cy="719.7" r="1.35" fill="#f3b48e"/><circle cx="620.0" cy="716.0" r="1.35" fill="#f3b48e"/><circle cx="623.4" cy="712.3" r="1.35" fill="#f3b48e"/><circle cx="626.9" cy="708.6" r="1.35" fill="#f3b48e"/><circle cx="630.3" cy="704.9" r="1.35" fill="#f3b48e"/><circle cx="633.7" cy="701.1" r="1.35" fill="#f3b48e"/><circle cx="637.1" cy="697.4" r="1.35" fill="#f3b48e"/><circle cx="640.6" cy="693.7" r="1.35" fill="#f3b48e"/><circle cx="644.0" cy="690.0" r="1.35" fill="#f3b48e"/><circle cx="647.4" cy="686.3" r="1.35" fill="#f3b48e"/><circle cx="650.9" cy="682.6" r="1.35" fill="#f3b48e"/><circle cx="654.3" cy="678.9" r="1.35" fill="#f3b48e"/><circle cx="657.7" cy="675.1" r="1.35" fill="#f3b48e"/><circle cx="661.1" cy="671.4" r="1.35" fill="#f3b48e"/><circle cx="664.6" cy="667.7" r="1.35" fill="#f3b48e"/><circle cx="668.0" cy="664.0" r="1.35" fill="#f3b48e"/>
<line x1="608.00" y1="738.00" x2="662.49" y2="673.35" stroke="#62ad3c" stroke-width="1.1" stroke-linecap="round"/>
<polygon points="667.00,668.00 664.94,675.41 660.04,671.29" fill="#62ad3c" stroke="none" stroke-width="0" />
<circle cx="676.0" cy="657.0" r="1.35" fill="#f3b48e"/><circle cx="679.9" cy="659.9" r="1.35" fill="#f3b48e"/><circle cx="683.8" cy="662.8" r="1.35" fill="#f3b48e"/><circle cx="687.7" cy="665.7" r="1.35" fill="#f3b48e"/><circle cx="691.7" cy="668.7" r="1.35" fill="#f3b48e"/><circle cx="695.6" cy="671.6" r="1.35" fill="#f3b48e"/><circle cx="699.5" cy="674.5" r="1.35" fill="#f3b48e"/><circle cx="703.4" cy="677.4" r="1.35" fill="#f3b48e"/><circle cx="707.3" cy="680.3" r="1.35" fill="#f3b48e"/><circle cx="711.2" cy="683.2" r="1.35" fill="#f3b48e"/><circle cx="715.1" cy="686.1" r="1.35" fill="#f3b48e"/><circle cx="719.0" cy="689.0" r="1.35" fill="#f3b48e"/><circle cx="723.0" cy="692.0" r="1.35" fill="#f3b48e"/><circle cx="726.9" cy="694.9" r="1.35" fill="#f3b48e"/><circle cx="730.8" cy="697.8" r="1.35" fill="#f3b48e"/><circle cx="734.7" cy="700.7" r="1.35" fill="#f3b48e"/><circle cx="738.6" cy="703.6" r="1.35" fill="#f3b48e"/><circle cx="742.5" cy="706.5" r="1.35" fill="#f3b48e"/><circle cx="746.4" cy="709.4" r="1.35" fill="#f3b48e"/><circle cx="750.3" cy="712.3" r="1.35" fill="#f3b48e"/><circle cx="754.3" cy="715.3" r="1.35" fill="#f3b48e"/><circle cx="758.2" cy="718.2" r="1.35" fill="#f3b48e"/><circle cx="762.1" cy="721.1" r="1.35" fill="#f3b48e"/><circle cx="766.0" cy="724.0" r="1.35" fill="#f3b48e"/>
<line x1="680.00" y1="666.00" x2="749.57" y2="722.58" stroke="#62ad3c" stroke-width="1.1" stroke-linecap="round"/>
<polygon points="755.00,727.00 747.55,725.07 751.59,720.10" fill="#62ad3c" stroke="none" stroke-width="0" />
<circle cx="609.0" cy="752.0" r="1.35" fill="#f3b48e"/><circle cx="614.3" cy="751.7" r="1.35" fill="#f3b48e"/><circle cx="619.6" cy="751.4" r="1.35" fill="#f3b48e"/><circle cx="624.8" cy="751.2" r="1.35" fill="#f3b48e"/><circle cx="630.1" cy="750.9" r="1.35" fill="#f3b48e"/><circle cx="635.4" cy="750.6" r="1.35" fill="#f3b48e"/><circle cx="640.7" cy="750.3" r="1.35" fill="#f3b48e"/><circle cx="645.9" cy="750.1" r="1.35" fill="#f3b48e"/><circle cx="651.2" cy="749.8" r="1.35" fill="#f3b48e"/><circle cx="656.5" cy="749.5" r="1.35" fill="#f3b48e"/><circle cx="661.8" cy="749.2" r="1.35" fill="#f3b48e"/><circle cx="667.0" cy="749.0" r="1.35" fill="#f3b48e"/><circle cx="672.3" cy="748.7" r="1.35" fill="#f3b48e"/><circle cx="677.6" cy="748.4" r="1.35" fill="#f3b48e"/><circle cx="682.9" cy="748.1" r="1.35" fill="#f3b48e"/><circle cx="688.1" cy="747.9" r="1.35" fill="#f3b48e"/><circle cx="693.4" cy="747.6" r="1.35" fill="#f3b48e"/><circle cx="698.7" cy="747.3" r="1.35" fill="#f3b48e"/><circle cx="704.0" cy="747.0" r="1.35" fill="#f3b48e"/><circle cx="709.2" cy="746.8" r="1.35" fill="#f3b48e"/><circle cx="714.5" cy="746.5" r="1.35" fill="#f3b48e"/><circle cx="719.8" cy="746.2" r="1.35" fill="#f3b48e"/><circle cx="725.1" cy="745.9" r="1.35" fill="#f3b48e"/><circle cx="730.3" cy="745.7" r="1.35" fill="#f3b48e"/><circle cx="735.6" cy="745.4" r="1.35" fill="#f3b48e"/><circle cx="740.9" cy="745.1" r="1.35" fill="#f3b48e"/><circle cx="746.2" cy="744.8" r="1.35" fill="#f3b48e"/><circle cx="751.4" cy="744.6" r="1.35" fill="#f3b48e"/><circle cx="756.7" cy="744.3" r="1.35" fill="#f3b48e"/><circle cx="762.0" cy="744.0" r="1.35" fill="#f3b48e"/>
<line x1="630.00" y1="758.50" x2="732.01" y2="751.95" stroke="#62ad3c" stroke-width="1.1" stroke-linecap="round"/>
<polygon points="739.00,751.50 732.22,755.14 731.81,748.76" fill="#62ad3c" stroke="none" stroke-width="0" />
<circle cx="717.5" cy="618" r="10.3" fill="#8fd563" filter="url(#blur15)"/>
<circle cx="797" cy="618" r="10.3" fill="#f6a97c" filter="url(#blur15)"/>
<text x="729.5" y="626" font-size="24" fill="#111">:e<tspan font-size="15" dy="-9">-</tspan></text>
<text x="812" y="626" font-size="24" fill="#111">:e<tspan font-size="15" dy="-9">+</tspan></text>
<ellipse cx="915" cy="776" rx="95" ry="10" fill="#b4b4b4" opacity="0.55" filter="url(#blur4)" transform="rotate(8 915 776)"/>
<polygon points="835.00,632.40 1069.60,675.20 1064.20,697.20 819.40,655.70" fill="#d3d3d3" stroke="none" stroke-width="0" />
<polygon points="819.40,655.70 1064.20,697.20 1056.80,727.00 807.80,694.60" fill="#c9c9c9" stroke="none" stroke-width="0" />
<polygon points="807.80,694.60 1056.80,727.00 1052.50,744.60 816.90,703.70" fill="#b9b9b9" stroke="none" stroke-width="0" />
<polygon points="816.90,703.70 1052.50,744.60 1042.40,785.40 818.10,724.40" fill="#c8c8c8" stroke="none" stroke-width="0" />
<polygon points="1058.00,687.00 1066.00,690.00 1072.00,702.00 1066.00,716.00 1068.00,728.00 1060.00,744.00 1061.00,754.00 1051.00,770.00 1043.00,773.00 1046.00,758.00 1050.00,744.00 1052.00,728.00 1056.00,712.00 1055.00,700.00" fill="#5ad3ea" stroke="none" stroke-width="0" />
<polygon points="1062.00,694.00 1068.00,703.00 1063.00,716.00 1059.00,714.00" fill="#86e2f3" stroke="none" stroke-width="0" />
<polyline points="819.40,655.70 1064.20,697.20" fill="none" stroke="#dcdcdc" stroke-width="1.2" />
<polyline points="816.90,703.70 1052.50,744.60" fill="none" stroke="#d6d6d6" stroke-width="1.0" />
<polygon points="835.00,632.40 819.40,655.70 826.00,657.00 840.00,636.00" fill="#cccccc" stroke="none" stroke-width="0" />
<polygon points="819.40,655.70 807.80,694.60 815.00,695.50 826.00,657.00" fill="#c0c0c0" stroke="none" stroke-width="0" />
<polygon points="894.60,646.70 1004.80,671.30 981.50,741.30 870.00,708.90" fill="#d2d2d2" stroke="none" stroke-width="0" />
<polygon points="894.60,646.70 1004.80,671.30 997.00,680.40 896.00,659.60" fill="#c8c8c8" stroke="none" stroke-width="0" />
<polygon points="894.60,646.70 896.00,659.60 877.80,706.30 870.00,708.90" fill="#dedede" stroke="none" stroke-width="0" />
<polygon points="870.00,708.90 877.80,706.30 981.50,734.80 981.50,741.30" fill="#e6e6e6" stroke="none" stroke-width="0" />
<polygon points="1004.80,671.30 997.00,680.40 981.50,734.80 981.50,741.30" fill="#bdbdbd" stroke="none" stroke-width="0" />
<polygon points="896.00,659.60 997.00,680.40 981.50,734.80 877.80,706.30" fill="url(#cy)" stroke="none" stroke-width="0" />
<circle cx="902.4" cy="653.2" r="2.2" fill="url(#ionO)"/><circle cx="909.0" cy="654.4" r="2.2" fill="url(#ionO)"/><circle cx="915.6" cy="655.7" r="2.2" fill="url(#ionO)"/><circle cx="922.1" cy="656.9" r="2.2" fill="url(#ionO)"/><circle cx="928.7" cy="658.1" r="2.2" fill="url(#ionO)"/><circle cx="935.3" cy="659.4" r="2.2" fill="url(#ionO)"/><circle cx="941.9" cy="660.6" r="2.2" fill="url(#ionO)"/><circle cx="948.5" cy="661.9" r="2.2" fill="url(#ionO)"/><circle cx="955.0" cy="663.1" r="2.2" fill="url(#ionO)"/><circle cx="961.6" cy="664.3" r="2.2" fill="url(#ionO)"/><circle cx="968.2" cy="665.6" r="2.2" fill="url(#ionO)"/><circle cx="974.8" cy="666.8" r="2.2" fill="url(#ionO)"/><circle cx="981.3" cy="668.0" r="2.2" fill="url(#ionO)"/><circle cx="987.9" cy="669.3" r="2.2" fill="url(#ionO)"/><circle cx="994.5" cy="670.5" r="2.2" fill="url(#ionO)"/>
<circle cx="907.6" cy="661.5" r="2.2" fill="url(#ionG)"/><circle cx="913.9" cy="662.8" r="2.2" fill="url(#ionG)"/><circle cx="920.2" cy="664.1" r="2.2" fill="url(#ionG)"/><circle cx="926.5" cy="665.4" r="2.2" fill="url(#ionG)"/><circle cx="932.7" cy="666.6" r="2.2" fill="url(#ionG)"/><circle cx="939.0" cy="667.9" r="2.2" fill="url(#ionG)"/><circle cx="945.3" cy="669.2" r="2.2" fill="url(#ionG)"/><circle cx="951.6" cy="670.5" r="2.2" fill="url(#ionG)"/><circle cx="957.9" cy="671.8" r="2.2" fill="url(#ionG)"/><circle cx="964.2" cy="673.1" r="2.2" fill="url(#ionG)"/><circle cx="970.4" cy="674.3" r="2.2" fill="url(#ionG)"/><circle cx="976.7" cy="675.6" r="2.2" fill="url(#ionG)"/><circle cx="983.0" cy="676.9" r="2.2" fill="url(#ionG)"/><circle cx="989.3" cy="678.2" r="2.2" fill="url(#ionG)"/>
<circle cx="889.4" cy="661.0" r="2.2" fill="url(#ionO)"/><circle cx="886.6" cy="668.3" r="2.2" fill="url(#ionO)"/><circle cx="883.8" cy="675.7" r="2.2" fill="url(#ionO)"/><circle cx="881.0" cy="683.0" r="2.2" fill="url(#ionO)"/><circle cx="878.2" cy="690.3" r="2.2" fill="url(#ionO)"/><circle cx="875.4" cy="697.7" r="2.2" fill="url(#ionO)"/><circle cx="872.6" cy="705.0" r="2.2" fill="url(#ionO)"/>
<circle cx="894.6" cy="669.5" r="2.2" fill="url(#ionG)"/><circle cx="892.0" cy="676.1" r="2.2" fill="url(#ionG)"/><circle cx="889.4" cy="682.7" r="2.2" fill="url(#ionG)"/><circle cx="886.9" cy="689.2" r="2.2" fill="url(#ionG)"/><circle cx="884.3" cy="695.8" r="2.2" fill="url(#ionG)"/><circle cx="881.7" cy="702.4" r="2.2" fill="url(#ionG)"/>
<circle cx="884.3" cy="711.5" r="2.2" fill="url(#ionO)"/><circle cx="890.6" cy="713.2" r="2.2" fill="url(#ionO)"/><circle cx="896.9" cy="714.8" r="2.2" fill="url(#ionO)"/><circle cx="903.2" cy="716.5" r="2.2" fill="url(#ionO)"/><circle cx="909.5" cy="718.2" r="2.2" fill="url(#ionO)"/><circle cx="915.8" cy="719.8" r="2.2" fill="url(#ionO)"/><circle cx="922.1" cy="721.5" r="2.2" fill="url(#ionO)"/><circle cx="928.3" cy="723.1" r="2.2" fill="url(#ionO)"/><circle cx="934.6" cy="724.8" r="2.2" fill="url(#ionO)"/><circle cx="940.9" cy="726.5" r="2.2" fill="url(#ionO)"/><circle cx="947.2" cy="728.1" r="2.2" fill="url(#ionO)"/><circle cx="953.5" cy="729.8" r="2.2" fill="url(#ionO)"/><circle cx="959.8" cy="731.5" r="2.2" fill="url(#ionO)"/><circle cx="966.1" cy="733.1" r="2.2" fill="url(#ionO)"/><circle cx="972.4" cy="734.8" r="2.2" fill="url(#ionO)"/>
<circle cx="889.4" cy="706.3" r="2.2" fill="url(#ionG)"/><circle cx="895.8" cy="707.8" r="2.2" fill="url(#ionG)"/><circle cx="902.2" cy="709.4" r="2.2" fill="url(#ionG)"/><circle cx="908.6" cy="710.9" r="2.2" fill="url(#ionG)"/><circle cx="915.0" cy="712.5" r="2.2" fill="url(#ionG)"/><circle cx="921.4" cy="714.0" r="2.2" fill="url(#ionG)"/><circle cx="927.8" cy="715.6" r="2.2" fill="url(#ionG)"/><circle cx="934.1" cy="717.1" r="2.2" fill="url(#ionG)"/><circle cx="940.5" cy="718.7" r="2.2" fill="url(#ionG)"/><circle cx="946.9" cy="720.2" r="2.2" fill="url(#ionG)"/><circle cx="953.3" cy="721.8" r="2.2" fill="url(#ionG)"/><circle cx="959.7" cy="723.4" r="2.2" fill="url(#ionG)"/><circle cx="966.1" cy="724.9" r="2.2" fill="url(#ionG)"/><circle cx="972.5" cy="726.5" r="2.2" fill="url(#ionG)"/><circle cx="978.9" cy="728.0" r="2.2" fill="url(#ionG)"/>
<text x="472.00" y="817.00" font-size="22.5" text-anchor="middle" fill="#d9584a" textLength="190.0" lengthAdjust="spacingAndGlyphs" >Multiple reflection</text>
<text x="699.50" y="817.00" font-size="22.5" text-anchor="middle" fill="#d9584a" textLength="163.0" lengthAdjust="spacingAndGlyphs" >Conductive loss</text>
<text x="954.00" y="817.00" font-size="22.5" text-anchor="middle" fill="#d9584a" textLength="166.0" lengthAdjust="spacingAndGlyphs" >Polarization loss</text>
<line x1="872.6" y1="401.1" x2="929.9" y2="393.6" stroke="#787878" stroke-width="2.9" stroke-linecap="round"/><line x1="872.6" y1="400.7" x2="929.9" y2="393.2" stroke="#9a9a9a" stroke-width="2.0" stroke-linecap="round"/>
<line x1="896.0" y1="515.9" x2="950.8" y2="505.9" stroke="#787878" stroke-width="2.7" stroke-linecap="round"/><line x1="896.0" y1="515.6" x2="950.8" y2="505.5" stroke="#a2a2a2" stroke-width="1.8" stroke-linecap="round"/>
<line x1="927.3" y1="433.4" x2="986.6" y2="443.9" stroke="#787878" stroke-width="2.7" stroke-linecap="round"/><line x1="927.3" y1="433.0" x2="986.6" y2="443.6" stroke="#9a9a9a" stroke-width="1.8" stroke-linecap="round"/>
<line x1="862.4" y1="510.0" x2="933.4" y2="508.2" stroke="#787878" stroke-width="2.8" stroke-linecap="round"/><line x1="862.4" y1="509.7" x2="933.4" y2="507.8" stroke="#a2a2a2" stroke-width="1.9" stroke-linecap="round"/>
<line x1="944.1" y1="469.5" x2="997.0" y2="399.6" stroke="#787878" stroke-width="2.9" stroke-linecap="round"/><line x1="944.1" y1="469.2" x2="997.0" y2="399.3" stroke="#a2a2a2" stroke-width="2.0" stroke-linecap="round"/>
<line x1="888.3" y1="427.0" x2="959.9" y2="422.6" stroke="#787878" stroke-width="2.6" stroke-linecap="round"/><line x1="888.3" y1="426.6" x2="959.9" y2="422.2" stroke="#9a9a9a" stroke-width="1.7" stroke-linecap="round"/>
<line x1="862.5" y1="510.0" x2="929.4" y2="500.9" stroke="#787878" stroke-width="2.9" stroke-linecap="round"/><line x1="862.5" y1="509.7" x2="929.4" y2="500.5" stroke="#9a9a9a" stroke-width="2.0" stroke-linecap="round"/>
<line x1="1013.1" y1="498.6" x2="1032.0" y2="490.4" stroke="#787878" stroke-width="2.6" stroke-linecap="round"/><line x1="1013.1" y1="498.3" x2="1032.0" y2="490.1" stroke="#9a9a9a" stroke-width="1.7" stroke-linecap="round"/>
<line x1="843.2" y1="442.1" x2="868.8" y2="442.4" stroke="#787878" stroke-width="2.7" stroke-linecap="round"/><line x1="843.2" y1="441.7" x2="868.8" y2="442.1" stroke="#aaaaaa" stroke-width="1.8" stroke-linecap="round"/>
<line x1="929.1" y1="516.9" x2="1024.9" y2="484.0" stroke="#787878" stroke-width="3.0" stroke-linecap="round"/><line x1="929.1" y1="516.5" x2="1024.9" y2="483.7" stroke="#9a9a9a" stroke-width="2.1" stroke-linecap="round"/>
<line x1="863.9" y1="514.4" x2="934.2" y2="463.2" stroke="#787878" stroke-width="2.7" stroke-linecap="round"/><line x1="863.9" y1="514.0" x2="934.2" y2="462.9" stroke="#949494" stroke-width="1.8" stroke-linecap="round"/>
<line x1="939.9" y1="500.8" x2="1028.8" y2="460.7" stroke="#787878" stroke-width="2.7" stroke-linecap="round"/><line x1="939.9" y1="500.4" x2="1028.8" y2="460.3" stroke="#a2a2a2" stroke-width="1.8" stroke-linecap="round"/>
<line x1="866.8" y1="438.4" x2="918.4" y2="435.3" stroke="#787878" stroke-width="2.6" stroke-linecap="round"/><line x1="866.8" y1="438.0" x2="918.4" y2="434.9" stroke="#9a9a9a" stroke-width="1.7" stroke-linecap="round"/>
<line x1="861.8" y1="440.1" x2="907.2" y2="435.2" stroke="#787878" stroke-width="3.0" stroke-linecap="round"/><line x1="861.8" y1="439.8" x2="907.2" y2="434.9" stroke="#9a9a9a" stroke-width="2.1" stroke-linecap="round"/>
<line x1="907.9" y1="443.1" x2="949.7" y2="485.5" stroke="#787878" stroke-width="2.8" stroke-linecap="round"/><line x1="907.9" y1="442.8" x2="949.7" y2="485.1" stroke="#aaaaaa" stroke-width="1.9" stroke-linecap="round"/>
<line x1="880.9" y1="467.3" x2="961.9" y2="397.3" stroke="#787878" stroke-width="2.7" stroke-linecap="round"/><line x1="880.9" y1="466.9" x2="961.9" y2="396.9" stroke="#a2a2a2" stroke-width="1.8" stroke-linecap="round"/>
<line x1="866.5" y1="425.1" x2="895.6" y2="397.3" stroke="#787878" stroke-width="2.7" stroke-linecap="round"/><line x1="866.5" y1="424.8" x2="895.6" y2="396.9" stroke="#a2a2a2" stroke-width="1.8" stroke-linecap="round"/>
<line x1="868.9" y1="430.2" x2="975.4" y2="437.9" stroke="#787878" stroke-width="2.8" stroke-linecap="round"/><line x1="868.9" y1="429.8" x2="975.4" y2="437.5" stroke="#aaaaaa" stroke-width="1.9" stroke-linecap="round"/>
<line x1="967.2" y1="413.6" x2="996.6" y2="503.6" stroke="#787878" stroke-width="2.8" stroke-linecap="round"/><line x1="967.2" y1="413.3" x2="996.6" y2="503.2" stroke="#9a9a9a" stroke-width="1.9" stroke-linecap="round"/>
<line x1="896.1" y1="429.9" x2="936.6" y2="448.1" stroke="#787878" stroke-width="2.6" stroke-linecap="round"/><line x1="896.1" y1="429.6" x2="936.6" y2="447.8" stroke="#aaaaaa" stroke-width="1.7" stroke-linecap="round"/>
<line x1="847.5" y1="428.9" x2="883.9" y2="429.3" stroke="#787878" stroke-width="3.0" stroke-linecap="round"/><line x1="847.5" y1="428.6" x2="883.9" y2="429.0" stroke="#aaaaaa" stroke-width="2.1" stroke-linecap="round"/>
<line x1="1009.0" y1="475.1" x2="1035.7" y2="475.2" stroke="#787878" stroke-width="3.0" stroke-linecap="round"/><line x1="1009.0" y1="474.8" x2="1035.7" y2="474.9" stroke="#949494" stroke-width="2.1" stroke-linecap="round"/>
<line x1="881.2" y1="407.1" x2="931.7" y2="459.3" stroke="#787878" stroke-width="3.0" stroke-linecap="round"/><line x1="881.2" y1="406.7" x2="931.7" y2="458.9" stroke="#9a9a9a" stroke-width="2.1" stroke-linecap="round"/>
<line x1="928.3" y1="390.8" x2="944.6" y2="382.0" stroke="#787878" stroke-width="2.8" stroke-linecap="round"/><line x1="928.3" y1="390.5" x2="944.6" y2="381.7" stroke="#9a9a9a" stroke-width="1.9" stroke-linecap="round"/>
<line x1="904.6" y1="402.1" x2="987.9" y2="391.2" stroke="#787878" stroke-width="2.8" stroke-linecap="round"/><line x1="904.6" y1="401.7" x2="987.9" y2="390.8" stroke="#9a9a9a" stroke-width="1.9" stroke-linecap="round"/>
<line x1="1006.5" y1="489.4" x2="1033.3" y2="488.5" stroke="#787878" stroke-width="2.9" stroke-linecap="round"/><line x1="1006.5" y1="489.1" x2="1033.3" y2="488.1" stroke="#9a9a9a" stroke-width="2.0" stroke-linecap="round"/>
<line x1="860.4" y1="511.1" x2="873.1" y2="492.2" stroke="#787878" stroke-width="2.9" stroke-linecap="round"/><line x1="860.4" y1="510.8" x2="873.1" y2="491.9" stroke="#a2a2a2" stroke-width="2.0" stroke-linecap="round"/>
<line x1="987.6" y1="500.9" x2="1032.4" y2="491.7" stroke="#787878" stroke-width="2.9" stroke-linecap="round"/><line x1="987.6" y1="500.6" x2="1032.4" y2="491.3" stroke="#9a9a9a" stroke-width="2.0" stroke-linecap="round"/>
<line x1="842.1" y1="457.4" x2="931.9" y2="519.3" stroke="#787878" stroke-width="2.7" stroke-linecap="round"/><line x1="842.1" y1="457.0" x2="931.9" y2="519.0" stroke="#aaaaaa" stroke-width="1.8" stroke-linecap="round"/>
<line x1="857.8" y1="413.7" x2="899.2" y2="406.6" stroke="#787878" stroke-width="2.9" stroke-linecap="round"/><line x1="857.8" y1="413.3" x2="899.2" y2="406.2" stroke="#9a9a9a" stroke-width="2.0" stroke-linecap="round"/>
<line x1="953.1" y1="518.0" x2="981.5" y2="528.5" stroke="#787878" stroke-width="3.0" stroke-linecap="round"/><line x1="953.1" y1="517.6" x2="981.5" y2="528.2" stroke="#aaaaaa" stroke-width="2.1" stroke-linecap="round"/>
<line x1="959.4" y1="474.4" x2="1030.7" y2="430.2" stroke="#787878" stroke-width="2.6" stroke-linecap="round"/><line x1="959.4" y1="474.0" x2="1030.7" y2="429.9" stroke="#9a9a9a" stroke-width="1.7" stroke-linecap="round"/>
<line x1="868.5" y1="484.4" x2="937.8" y2="528.7" stroke="#787878" stroke-width="2.7" stroke-linecap="round"/><line x1="868.5" y1="484.0" x2="937.8" y2="528.4" stroke="#949494" stroke-width="1.8" stroke-linecap="round"/>
<line x1="974.4" y1="402.1" x2="1004.5" y2="399.0" stroke="#787878" stroke-width="3.1" stroke-linecap="round"/><line x1="974.4" y1="401.8" x2="1004.5" y2="398.7" stroke="#a2a2a2" stroke-width="2.2" stroke-linecap="round"/>
<line x1="864.4" y1="461.3" x2="949.7" y2="467.0" stroke="#787878" stroke-width="3.1" stroke-linecap="round"/><line x1="864.4" y1="461.0" x2="949.7" y2="466.7" stroke="#aaaaaa" stroke-width="2.2" stroke-linecap="round"/>
<line x1="898.1" y1="516.5" x2="952.8" y2="520.4" stroke="#787878" stroke-width="2.9" stroke-linecap="round"/><line x1="898.1" y1="516.1" x2="952.8" y2="520.1" stroke="#aaaaaa" stroke-width="2.0" stroke-linecap="round"/>
<line x1="854.9" y1="419.8" x2="915.9" y2="422.6" stroke="#787878" stroke-width="2.7" stroke-linecap="round"/><line x1="854.9" y1="419.5" x2="915.9" y2="422.3" stroke="#a2a2a2" stroke-width="1.8" stroke-linecap="round"/>
<line x1="870.5" y1="413.2" x2="945.1" y2="484.7" stroke="#787878" stroke-width="3.1" stroke-linecap="round"/><line x1="870.5" y1="412.9" x2="945.1" y2="484.4" stroke="#a2a2a2" stroke-width="2.2" stroke-linecap="round"/>
<line x1="913.3" y1="384.3" x2="940.3" y2="421.3" stroke="#787878" stroke-width="2.8" stroke-linecap="round"/><line x1="913.3" y1="383.9" x2="940.3" y2="420.9" stroke="#a2a2a2" stroke-width="1.9" stroke-linecap="round"/>
<line x1="899.2" y1="512.0" x2="969.2" y2="475.6" stroke="#787878" stroke-width="3.1" stroke-linecap="round"/><line x1="899.2" y1="511.7" x2="969.2" y2="475.3" stroke="#9a9a9a" stroke-width="2.2" stroke-linecap="round"/>
<line x1="907.0" y1="422.1" x2="999.6" y2="405.4" stroke="#787878" stroke-width="2.8" stroke-linecap="round"/><line x1="907.0" y1="421.7" x2="999.6" y2="405.1" stroke="#9a9a9a" stroke-width="1.9" stroke-linecap="round"/>
<line x1="900.4" y1="463.1" x2="983.0" y2="469.7" stroke="#787878" stroke-width="2.9" stroke-linecap="round"/><line x1="900.4" y1="462.7" x2="983.0" y2="469.3" stroke="#9a9a9a" stroke-width="2.0" stroke-linecap="round"/>
<line x1="930.6" y1="492.3" x2="951.9" y2="423.8" stroke="#787878" stroke-width="2.7" stroke-linecap="round"/><line x1="930.6" y1="491.9" x2="951.9" y2="423.5" stroke="#aaaaaa" stroke-width="1.8" stroke-linecap="round"/>
<line x1="911.7" y1="413.1" x2="983.0" y2="491.5" stroke="#787878" stroke-width="3.0" stroke-linecap="round"/><line x1="911.7" y1="412.8" x2="983.0" y2="491.2" stroke="#949494" stroke-width="2.1" stroke-linecap="round"/>
<line x1="845.9" y1="479.7" x2="928.4" y2="452.3" stroke="#787878" stroke-width="2.8" stroke-linecap="round"/><line x1="845.9" y1="479.4" x2="928.4" y2="451.9" stroke="#9a9a9a" stroke-width="1.9" stroke-linecap="round"/>
<line x1="940.7" y1="493.7" x2="1013.9" y2="513.7" stroke="#787878" stroke-width="2.8" stroke-linecap="round"/><line x1="940.7" y1="493.4" x2="1013.9" y2="513.3" stroke="#9a9a9a" stroke-width="1.9" stroke-linecap="round"/>
<line x1="898.6" y1="464.0" x2="951.2" y2="453.3" stroke="#787878" stroke-width="2.7" stroke-linecap="round"/><line x1="898.6" y1="463.6" x2="951.2" y2="452.9" stroke="#aaaaaa" stroke-width="1.8" stroke-linecap="round"/>
<line x1="884.7" y1="479.6" x2="915.5" y2="507.0" stroke="#787878" stroke-width="2.8" stroke-linecap="round"/><line x1="884.7" y1="479.3" x2="915.5" y2="506.7" stroke="#a2a2a2" stroke-width="1.9" stroke-linecap="round"/>
<line x1="880.8" y1="474.8" x2="925.1" y2="478.8" stroke="#787878" stroke-width="3.1" stroke-linecap="round"/><line x1="880.8" y1="474.5" x2="925.1" y2="478.5" stroke="#a2a2a2" stroke-width="2.2" stroke-linecap="round"/>
<line x1="971.0" y1="404.1" x2="1031.7" y2="430.8" stroke="#787878" stroke-width="2.9" stroke-linecap="round"/><line x1="971.0" y1="403.7" x2="1031.7" y2="430.4" stroke="#a2a2a2" stroke-width="2.0" stroke-linecap="round"/>
<line x1="1005.5" y1="454.1" x2="1034.2" y2="442.4" stroke="#787878" stroke-width="2.8" stroke-linecap="round"/><line x1="1005.5" y1="453.8" x2="1034.2" y2="442.0" stroke="#9a9a9a" stroke-width="1.9" stroke-linecap="round"/>
<line x1="843.4" y1="449.8" x2="873.5" y2="471.2" stroke="#787878" stroke-width="2.9" stroke-linecap="round"/><line x1="843.4" y1="449.5" x2="873.5" y2="470.9" stroke="#aaaaaa" stroke-width="2.0" stroke-linecap="round"/>
<line x1="846.9" y1="433.8" x2="901.9" y2="415.0" stroke="#787878" stroke-width="2.9" stroke-linecap="round"/><line x1="846.9" y1="433.5" x2="901.9" y2="414.7" stroke="#949494" stroke-width="2.0" stroke-linecap="round"/>
<line x1="854.6" y1="444.8" x2="883.7" y2="415.8" stroke="#787878" stroke-width="2.7" stroke-linecap="round"/><line x1="854.6" y1="444.4" x2="883.7" y2="415.4" stroke="#aaaaaa" stroke-width="1.8" stroke-linecap="round"/>
<line x1="968.3" y1="458.9" x2="1014.3" y2="470.3" stroke="#787878" stroke-width="2.9" stroke-linecap="round"/><line x1="968.3" y1="458.5" x2="1014.3" y2="469.9" stroke="#949494" stroke-width="2.0" stroke-linecap="round"/>
<line x1="985.9" y1="427.8" x2="1034.4" y2="461.4" stroke="#787878" stroke-width="2.9" stroke-linecap="round"/><line x1="985.9" y1="427.4" x2="1034.4" y2="461.1" stroke="#aaaaaa" stroke-width="2.0" stroke-linecap="round"/>
<line x1="876.6" y1="485.8" x2="956.3" y2="428.4" stroke="#787878" stroke-width="2.8" stroke-linecap="round"/><line x1="876.6" y1="485.5" x2="956.3" y2="428.1" stroke="#a2a2a2" stroke-width="1.9" stroke-linecap="round"/>
<line x1="983.7" y1="511.0" x2="987.3" y2="446.7" stroke="#787878" stroke-width="2.9" stroke-linecap="round"/><line x1="983.7" y1="510.6" x2="987.3" y2="446.4" stroke="#a2a2a2" stroke-width="2.0" stroke-linecap="round"/>
<line x1="873.7" y1="401.2" x2="910.4" y2="424.2" stroke="#787878" stroke-width="2.8" stroke-linecap="round"/><line x1="873.7" y1="400.9" x2="910.4" y2="423.8" stroke="#aaaaaa" stroke-width="1.9" stroke-linecap="round"/>
<line x1="844.2" y1="449.4" x2="885.2" y2="444.4" stroke="#787878" stroke-width="3.0" stroke-linecap="round"/><line x1="844.2" y1="449.1" x2="885.2" y2="444.0" stroke="#a2a2a2" stroke-width="2.1" stroke-linecap="round"/>
<line x1="864.0" y1="445.2" x2="932.2" y2="418.6" stroke="#787878" stroke-width="3.0" stroke-linecap="round"/><line x1="864.0" y1="444.9" x2="932.2" y2="418.3" stroke="#a2a2a2" stroke-width="2.1" stroke-linecap="round"/>
<line x1="917.5" y1="407.1" x2="963.7" y2="404.4" stroke="#787878" stroke-width="2.7" stroke-linecap="round"/><line x1="917.5" y1="406.7" x2="963.7" y2="404.1" stroke="#aaaaaa" stroke-width="1.8" stroke-linecap="round"/>
<line x1="845.4" y1="470.4" x2="917.0" y2="470.3" stroke="#787878" stroke-width="3.1" stroke-linecap="round"/><line x1="845.4" y1="470.1" x2="917.0" y2="470.0" stroke="#aaaaaa" stroke-width="2.2" stroke-linecap="round"/>
<line x1="930.8" y1="473.0" x2="1018.5" y2="511.6" stroke="#787878" stroke-width="3.1" stroke-linecap="round"/><line x1="930.8" y1="472.6" x2="1018.5" y2="511.3" stroke="#aaaaaa" stroke-width="2.2" stroke-linecap="round"/>
<line x1="851.0" y1="498.6" x2="874.8" y2="488.7" stroke="#787878" stroke-width="2.7" stroke-linecap="round"/><line x1="851.0" y1="498.3" x2="874.8" y2="488.4" stroke="#9a9a9a" stroke-width="1.8" stroke-linecap="round"/>
<line x1="930.6" y1="490.8" x2="1005.4" y2="499.8" stroke="#787878" stroke-width="2.7" stroke-linecap="round"/><line x1="930.6" y1="490.4" x2="1005.4" y2="499.5" stroke="#9a9a9a" stroke-width="1.8" stroke-linecap="round"/>
<line x1="1001.4" y1="510.9" x2="1025.9" y2="503.5" stroke="#787878" stroke-width="3.1" stroke-linecap="round"/><line x1="1001.4" y1="510.5" x2="1025.9" y2="503.2" stroke="#a2a2a2" stroke-width="2.2" stroke-linecap="round"/>
<line x1="1016.2" y1="509.8" x2="1036.7" y2="463.6" stroke="#787878" stroke-width="3.0" stroke-linecap="round"/><line x1="1016.2" y1="509.5" x2="1036.7" y2="463.3" stroke="#aaaaaa" stroke-width="2.1" stroke-linecap="round"/>
<line x1="912.3" y1="494.1" x2="993.4" y2="460.8" stroke="#787878" stroke-width="2.7" stroke-linecap="round"/><line x1="912.3" y1="493.8" x2="993.4" y2="460.4" stroke="#949494" stroke-width="1.8" stroke-linecap="round"/>
<line x1="988.6" y1="512.3" x2="1022.4" y2="483.1" stroke="#787878" stroke-width="2.9" stroke-linecap="round"/><line x1="988.6" y1="511.9" x2="1022.4" y2="482.8" stroke="#9a9a9a" stroke-width="2.0" stroke-linecap="round"/>
<line x1="978.3" y1="426.9" x2="1005.9" y2="401.9" stroke="#787878" stroke-width="2.7" stroke-linecap="round"/><line x1="978.3" y1="426.5" x2="1005.9" y2="401.5" stroke="#9a9a9a" stroke-width="1.8" stroke-linecap="round"/>
<line x1="846.2" y1="473.6" x2="904.1" y2="519.0" stroke="#787878" stroke-width="2.8" stroke-linecap="round"/><line x1="846.2" y1="473.3" x2="904.1" y2="518.6" stroke="#949494" stroke-width="1.9" stroke-linecap="round"/>
<line x1="938.1" y1="505.2" x2="1022.7" y2="496.5" stroke="#787878" stroke-width="2.8" stroke-linecap="round"/><line x1="938.1" y1="504.8" x2="1022.7" y2="496.2" stroke="#9a9a9a" stroke-width="1.9" stroke-linecap="round"/>
<line x1="881.0" y1="522.3" x2="890.8" y2="471.5" stroke="#787878" stroke-width="2.9" stroke-linecap="round"/><line x1="881.0" y1="521.9" x2="890.8" y2="471.1" stroke="#949494" stroke-width="2.0" stroke-linecap="round"/>
<line x1="954.8" y1="468.8" x2="1000.9" y2="507.8" stroke="#787878" stroke-width="2.8" stroke-linecap="round"/><line x1="954.8" y1="468.4" x2="1000.9" y2="507.4" stroke="#aaaaaa" stroke-width="1.9" stroke-linecap="round"/>
<line x1="917.7" y1="457.6" x2="969.5" y2="442.5" stroke="#787878" stroke-width="2.7" stroke-linecap="round"/><line x1="917.7" y1="457.2" x2="969.5" y2="442.2" stroke="#a2a2a2" stroke-width="1.8" stroke-linecap="round"/>
<line x1="875.9" y1="413.9" x2="981.9" y2="420.4" stroke="#787878" stroke-width="2.6" stroke-linecap="round"/><line x1="875.9" y1="413.6" x2="981.9" y2="420.0" stroke="#949494" stroke-width="1.7" stroke-linecap="round"/>
<line x1="854.1" y1="459.2" x2="898.6" y2="480.2" stroke="#787878" stroke-width="3.0" stroke-linecap="round"/><line x1="854.1" y1="458.8" x2="898.6" y2="479.9" stroke="#a2a2a2" stroke-width="2.1" stroke-linecap="round"/>
<line x1="984.5" y1="441.7" x2="1036.4" y2="473.2" stroke="#787878" stroke-width="2.9" stroke-linecap="round"/><line x1="984.5" y1="441.3" x2="1036.4" y2="472.9" stroke="#949494" stroke-width="2.0" stroke-linecap="round"/>
<line x1="882.5" y1="406.5" x2="975.8" y2="439.0" stroke="#787878" stroke-width="3.0" stroke-linecap="round"/><line x1="882.5" y1="406.1" x2="975.8" y2="438.6" stroke="#949494" stroke-width="2.1" stroke-linecap="round"/>
<line x1="874.6" y1="421.9" x2="949.2" y2="454.2" stroke="#787878" stroke-width="2.9" stroke-linecap="round"/><line x1="874.6" y1="421.5" x2="949.2" y2="453.8" stroke="#a2a2a2" stroke-width="2.0" stroke-linecap="round"/>
<line x1="894.5" y1="417.9" x2="924.2" y2="470.0" stroke="#787878" stroke-width="2.8" stroke-linecap="round"/><line x1="894.5" y1="417.5" x2="924.2" y2="469.6" stroke="#9a9a9a" stroke-width="1.9" stroke-linecap="round"/>
<line x1="855.9" y1="452.0" x2="921.0" y2="463.7" stroke="#787878" stroke-width="2.7" stroke-linecap="round"/><line x1="855.9" y1="451.6" x2="921.0" y2="463.4" stroke="#aaaaaa" stroke-width="1.8" stroke-linecap="round"/>
<line x1="996.7" y1="449.6" x2="1020.6" y2="506.4" stroke="#787878" stroke-width="3.0" stroke-linecap="round"/><line x1="996.7" y1="449.3" x2="1020.6" y2="506.0" stroke="#9a9a9a" stroke-width="2.1" stroke-linecap="round"/>
<line x1="906.4" y1="518.0" x2="952.0" y2="478.9" stroke="#787878" stroke-width="3.0" stroke-linecap="round"/><line x1="906.4" y1="517.6" x2="952.0" y2="478.6" stroke="#a2a2a2" stroke-width="2.1" stroke-linecap="round"/>
<line x1="843.5" y1="455.3" x2="872.6" y2="447.3" stroke="#787878" stroke-width="2.7" stroke-linecap="round"/><line x1="843.5" y1="455.0" x2="872.6" y2="447.0" stroke="#a2a2a2" stroke-width="1.8" stroke-linecap="round"/>
<line x1="850.9" y1="466.7" x2="923.6" y2="497.7" stroke="#787878" stroke-width="2.8" stroke-linecap="round"/><line x1="850.9" y1="466.4" x2="923.6" y2="497.3" stroke="#949494" stroke-width="1.9" stroke-linecap="round"/>
<line x1="884.6" y1="393.3" x2="949.0" y2="406.9" stroke="#787878" stroke-width="2.9" stroke-linecap="round"/><line x1="884.6" y1="393.0" x2="949.0" y2="406.5" stroke="#9a9a9a" stroke-width="2.0" stroke-linecap="round"/>
<line x1="843.2" y1="452.5" x2="930.5" y2="482.9" stroke="#787878" stroke-width="2.9" stroke-linecap="round"/><line x1="843.2" y1="452.2" x2="930.5" y2="482.5" stroke="#949494" stroke-width="2.0" stroke-linecap="round"/>
<line x1="902.0" y1="453.2" x2="939.7" y2="429.9" stroke="#787878" stroke-width="3.0" stroke-linecap="round"/><line x1="902.0" y1="452.8" x2="939.7" y2="429.5" stroke="#a2a2a2" stroke-width="2.1" stroke-linecap="round"/>
<line x1="841.9" y1="457.9" x2="873.5" y2="455.2" stroke="#787878" stroke-width="3.0" stroke-linecap="round"/><line x1="841.9" y1="457.6" x2="873.5" y2="454.9" stroke="#aaaaaa" stroke-width="2.1" stroke-linecap="round"/>
<line x1="855.7" y1="417.4" x2="899.3" y2="417.7" stroke="#787878" stroke-width="3.0" stroke-linecap="round"/><line x1="855.7" y1="417.1" x2="899.3" y2="417.3" stroke="#949494" stroke-width="2.1" stroke-linecap="round"/>
<line x1="842.4" y1="473.5" x2="885.5" y2="446.0" stroke="#787878" stroke-width="2.6" stroke-linecap="round"/><line x1="842.4" y1="473.2" x2="885.5" y2="445.6" stroke="#9a9a9a" stroke-width="1.7" stroke-linecap="round"/>
<line x1="991.5" y1="469.1" x2="1005.0" y2="428.5" stroke="#787878" stroke-width="2.7" stroke-linecap="round"/><line x1="991.5" y1="468.8" x2="1005.0" y2="428.2" stroke="#a2a2a2" stroke-width="1.8" stroke-linecap="round"/>
<line x1="983.8" y1="394.8" x2="1020.4" y2="427.3" stroke="#787878" stroke-width="2.9" stroke-linecap="round"/><line x1="983.8" y1="394.5" x2="1020.4" y2="427.0" stroke="#a2a2a2" stroke-width="2.0" stroke-linecap="round"/>
<line x1="863.4" y1="488.2" x2="907.4" y2="469.6" stroke="#787878" stroke-width="3.0" stroke-linecap="round"/><line x1="863.4" y1="487.9" x2="907.4" y2="469.2" stroke="#9a9a9a" stroke-width="2.1" stroke-linecap="round"/>
<line x1="928.9" y1="458.3" x2="987.6" y2="416.1" stroke="#787878" stroke-width="2.9" stroke-linecap="round"/><line x1="928.9" y1="457.9" x2="987.6" y2="415.8" stroke="#949494" stroke-width="2.0" stroke-linecap="round"/>
<line x1="1012.1" y1="439.9" x2="1036.8" y2="463.8" stroke="#787878" stroke-width="2.9" stroke-linecap="round"/><line x1="1012.1" y1="439.5" x2="1036.8" y2="463.5" stroke="#949494" stroke-width="2.0" stroke-linecap="round"/>
<line x1="891.2" y1="505.2" x2="988.1" y2="465.4" stroke="#787878" stroke-width="2.9" stroke-linecap="round"/><line x1="891.2" y1="504.8" x2="988.1" y2="465.1" stroke="#aaaaaa" stroke-width="2.0" stroke-linecap="round"/>
<line x1="878.1" y1="436.9" x2="930.7" y2="448.4" stroke="#787878" stroke-width="3.0" stroke-linecap="round"/><line x1="878.1" y1="436.6" x2="930.7" y2="448.0" stroke="#949494" stroke-width="2.1" stroke-linecap="round"/>
<line x1="976.8" y1="507.9" x2="1033.9" y2="484.4" stroke="#787878" stroke-width="2.7" stroke-linecap="round"/><line x1="976.8" y1="507.6" x2="1033.9" y2="484.1" stroke="#949494" stroke-width="1.8" stroke-linecap="round"/>
<line x1="886.1" y1="398.2" x2="992.0" y2="408.8" stroke="#787878" stroke-width="2.8" stroke-linecap="round"/><line x1="886.1" y1="397.8" x2="992.0" y2="408.4" stroke="#a2a2a2" stroke-width="1.9" stroke-linecap="round"/>
<line x1="848.0" y1="428.6" x2="876.4" y2="447.6" stroke="#787878" stroke-width="3.0" stroke-linecap="round"/><line x1="848.0" y1="428.2" x2="876.4" y2="447.3" stroke="#9a9a9a" stroke-width="2.1" stroke-linecap="round"/>
<line x1="957.4" y1="442.7" x2="995.0" y2="428.5" stroke="#787878" stroke-width="2.9" stroke-linecap="round"/><line x1="957.4" y1="442.4" x2="995.0" y2="428.1" stroke="#aaaaaa" stroke-width="2.0" stroke-linecap="round"/>
<line x1="868.9" y1="422.3" x2="914.3" y2="439.8" stroke="#787878" stroke-width="2.7" stroke-linecap="round"/><line x1="868.9" y1="421.9" x2="914.3" y2="439.5" stroke="#aaaaaa" stroke-width="1.8" stroke-linecap="round"/>
<line x1="875.5" y1="512.8" x2="941.4" y2="507.3" stroke="#787878" stroke-width="2.6" stroke-linecap="round"/><line x1="875.5" y1="512.4" x2="941.4" y2="506.9" stroke="#949494" stroke-width="1.7" stroke-linecap="round"/>
<line x1="893.4" y1="527.5" x2="926.9" y2="517.9" stroke="#787878" stroke-width="2.8" stroke-linecap="round"/><line x1="893.4" y1="527.2" x2="926.9" y2="517.5" stroke="#9a9a9a" stroke-width="1.9" stroke-linecap="round"/>
<line x1="882.5" y1="396.4" x2="926.7" y2="439.1" stroke="#787878" stroke-width="2.9" stroke-linecap="round"/><line x1="882.5" y1="396.0" x2="926.7" y2="438.8" stroke="#949494" stroke-width="2.0" stroke-linecap="round"/>
<line x1="880.5" y1="398.5" x2="918.7" y2="438.1" stroke="#787878" stroke-width="2.9" stroke-linecap="round"/><line x1="880.5" y1="398.2" x2="918.7" y2="437.7" stroke="#aaaaaa" stroke-width="2.0" stroke-linecap="round"/>
<line x1="873.3" y1="490.8" x2="897.1" y2="397.6" stroke="#787878" stroke-width="2.7" stroke-linecap="round"/><line x1="873.3" y1="490.5" x2="897.1" y2="397.3" stroke="#9a9a9a" stroke-width="1.8" stroke-linecap="round"/>
<line x1="967.8" y1="508.9" x2="1017.2" y2="511.6" stroke="#787878" stroke-width="3.1" stroke-linecap="round"/><line x1="967.8" y1="508.5" x2="1017.2" y2="511.2" stroke="#949494" stroke-width="2.2" stroke-linecap="round"/>
<line x1="875.2" y1="463.4" x2="929.0" y2="388.0" stroke="#787878" stroke-width="3.1" stroke-linecap="round"/><line x1="875.2" y1="463.1" x2="929.0" y2="387.6" stroke="#a2a2a2" stroke-width="2.2" stroke-linecap="round"/>
<line x1="843.1" y1="447.9" x2="859.3" y2="463.6" stroke="#787878" stroke-width="2.8" stroke-linecap="round"/><line x1="843.1" y1="447.6" x2="859.3" y2="463.2" stroke="#949494" stroke-width="1.9" stroke-linecap="round"/>
<line x1="846.2" y1="467.7" x2="916.9" y2="416.4" stroke="#787878" stroke-width="2.7" stroke-linecap="round"/><line x1="846.2" y1="467.3" x2="916.9" y2="416.0" stroke="#a2a2a2" stroke-width="1.8" stroke-linecap="round"/>
<line x1="926.1" y1="435.5" x2="983.3" y2="433.8" stroke="#787878" stroke-width="3.0" stroke-linecap="round"/><line x1="926.1" y1="435.1" x2="983.3" y2="433.5" stroke="#9a9a9a" stroke-width="2.1" stroke-linecap="round"/>
<line x1="906.4" y1="447.3" x2="1008.0" y2="406.4" stroke="#787878" stroke-width="2.8" stroke-linecap="round"/><line x1="906.4" y1="446.9" x2="1008.0" y2="406.0" stroke="#a2a2a2" stroke-width="1.9" stroke-linecap="round"/>
<line x1="919.1" y1="403.9" x2="964.1" y2="417.9" stroke="#787878" stroke-width="3.0" stroke-linecap="round"/><line x1="919.1" y1="403.5" x2="964.1" y2="417.5" stroke="#a2a2a2" stroke-width="2.1" stroke-linecap="round"/>
<line x1="915.0" y1="529.0" x2="953.9" y2="490.3" stroke="#787878" stroke-width="2.8" stroke-linecap="round"/><line x1="915.0" y1="528.6" x2="953.9" y2="489.9" stroke="#a2a2a2" stroke-width="1.9" stroke-linecap="round"/>
<line x1="1004.4" y1="448.5" x2="1036.7" y2="446.4" stroke="#787878" stroke-width="2.8" stroke-linecap="round"/><line x1="1004.4" y1="448.1" x2="1036.7" y2="446.1" stroke="#949494" stroke-width="1.9" stroke-linecap="round"/>
<line x1="943.3" y1="448.5" x2="979.0" y2="503.8" stroke="#787878" stroke-width="3.0" stroke-linecap="round"/><line x1="943.3" y1="448.2" x2="979.0" y2="503.4" stroke="#aaaaaa" stroke-width="2.1" stroke-linecap="round"/>
<line x1="848.6" y1="495.3" x2="923.5" y2="450.1" stroke="#787878" stroke-width="3.0" stroke-linecap="round"/><line x1="848.6" y1="494.9" x2="923.5" y2="449.8" stroke="#a2a2a2" stroke-width="2.1" stroke-linecap="round"/>
<line x1="846.7" y1="432.3" x2="894.7" y2="416.6" stroke="#787878" stroke-width="2.8" stroke-linecap="round"/><line x1="846.7" y1="432.0" x2="894.7" y2="416.2" stroke="#949494" stroke-width="1.9" stroke-linecap="round"/>
<line x1="842.2" y1="456.3" x2="862.4" y2="420.5" stroke="#787878" stroke-width="2.7" stroke-linecap="round"/><line x1="842.2" y1="456.0" x2="862.4" y2="420.1" stroke="#a2a2a2" stroke-width="1.8" stroke-linecap="round"/>
<line x1="868.5" y1="433.0" x2="971.8" y2="406.1" stroke="#787878" stroke-width="2.9" stroke-linecap="round"/><line x1="868.5" y1="432.7" x2="971.8" y2="405.8" stroke="#949494" stroke-width="2.0" stroke-linecap="round"/>
<line x1="847.6" y1="487.2" x2="949.8" y2="447.2" stroke="#787878" stroke-width="2.9" stroke-linecap="round"/><line x1="847.6" y1="486.8" x2="949.8" y2="446.8" stroke="#949494" stroke-width="2.0" stroke-linecap="round"/>
<line x1="885.8" y1="392.9" x2="934.3" y2="417.4" stroke="#787878" stroke-width="2.6" stroke-linecap="round"/><line x1="885.8" y1="392.6" x2="934.3" y2="417.0" stroke="#949494" stroke-width="1.7" stroke-linecap="round"/>
<line x1="910.9" y1="528.7" x2="935.6" y2="490.9" stroke="#787878" stroke-width="2.8" stroke-linecap="round"/><line x1="910.9" y1="528.4" x2="935.6" y2="490.6" stroke="#aaaaaa" stroke-width="1.9" stroke-linecap="round"/>
<line x1="961.3" y1="520.9" x2="980.6" y2="528.8" stroke="#787878" stroke-width="2.8" stroke-linecap="round"/><line x1="961.3" y1="520.6" x2="980.6" y2="528.4" stroke="#aaaaaa" stroke-width="1.9" stroke-linecap="round"/>
<line x1="917.4" y1="400.0" x2="964.5" y2="393.1" stroke="#787878" stroke-width="2.8" stroke-linecap="round"/><line x1="917.4" y1="399.6" x2="964.5" y2="392.7" stroke="#949494" stroke-width="1.9" stroke-linecap="round"/>
<line x1="917.1" y1="490.2" x2="958.8" y2="524.2" stroke="#787878" stroke-width="2.9" stroke-linecap="round"/><line x1="917.1" y1="489.9" x2="958.8" y2="523.9" stroke="#9a9a9a" stroke-width="2.0" stroke-linecap="round"/>
<line x1="908.9" y1="530.3" x2="921.7" y2="517.6" stroke="#787878" stroke-width="2.7" stroke-linecap="round"/><line x1="908.9" y1="529.9" x2="921.7" y2="517.2" stroke="#aaaaaa" stroke-width="1.8" stroke-linecap="round"/>
<line x1="842.6" y1="472.9" x2="915.1" y2="407.0" stroke="#787878" stroke-width="3.0" stroke-linecap="round"/><line x1="842.6" y1="472.6" x2="915.1" y2="406.6" stroke="#aaaaaa" stroke-width="2.1" stroke-linecap="round"/>
<line x1="852.2" y1="420.0" x2="888.4" y2="397.2" stroke="#787878" stroke-width="2.7" stroke-linecap="round"/><line x1="852.2" y1="419.7" x2="888.4" y2="396.9" stroke="#9a9a9a" stroke-width="1.8" stroke-linecap="round"/>
<line x1="864.7" y1="485.2" x2="904.0" y2="502.3" stroke="#787878" stroke-width="3.0" stroke-linecap="round"/><line x1="864.7" y1="484.9" x2="904.0" y2="502.0" stroke="#aaaaaa" stroke-width="2.1" stroke-linecap="round"/>
<line x1="916.4" y1="487.2" x2="991.1" y2="511.3" stroke="#787878" stroke-width="2.9" stroke-linecap="round"/><line x1="916.4" y1="486.8" x2="991.1" y2="511.0" stroke="#a2a2a2" stroke-width="2.0" stroke-linecap="round"/>
<line x1="928.9" y1="413.0" x2="1007.0" y2="433.9" stroke="#787878" stroke-width="2.9" stroke-linecap="round"/><line x1="928.9" y1="412.7" x2="1007.0" y2="433.5" stroke="#aaaaaa" stroke-width="2.0" stroke-linecap="round"/>
<line x1="889.1" y1="469.1" x2="958.2" y2="496.2" stroke="#787878" stroke-width="2.9" stroke-linecap="round"/><line x1="889.1" y1="468.8" x2="958.2" y2="495.9" stroke="#9a9a9a" stroke-width="2.0" stroke-linecap="round"/>
<line x1="850.7" y1="493.9" x2="912.8" y2="506.7" stroke="#787878" stroke-width="3.1" stroke-linecap="round"/><line x1="850.7" y1="493.5" x2="912.8" y2="506.3" stroke="#a2a2a2" stroke-width="2.2" stroke-linecap="round"/>
<line x1="846.9" y1="446.1" x2="892.1" y2="456.9" stroke="#787878" stroke-width="2.7" stroke-linecap="round"/><line x1="846.9" y1="445.7" x2="892.1" y2="456.6" stroke="#aaaaaa" stroke-width="1.8" stroke-linecap="round"/>
<line x1="906.4" y1="448.2" x2="948.0" y2="467.2" stroke="#787878" stroke-width="2.9" stroke-linecap="round"/><line x1="906.4" y1="447.8" x2="948.0" y2="466.9" stroke="#9a9a9a" stroke-width="2.0" stroke-linecap="round"/>
<line x1="958.8" y1="509.0" x2="1024.0" y2="496.3" stroke="#787878" stroke-width="2.7" stroke-linecap="round"/><line x1="958.8" y1="508.6" x2="1024.0" y2="496.0" stroke="#a2a2a2" stroke-width="1.8" stroke-linecap="round"/>
<line x1="962.4" y1="509.3" x2="1019.7" y2="508.5" stroke="#787878" stroke-width="2.8" stroke-linecap="round"/><line x1="962.4" y1="509.0" x2="1019.7" y2="508.2" stroke="#949494" stroke-width="1.9" stroke-linecap="round"/>
<line x1="978.3" y1="391.7" x2="1014.4" y2="405.6" stroke="#787878" stroke-width="2.7" stroke-linecap="round"/><line x1="978.3" y1="391.4" x2="1014.4" y2="405.3" stroke="#a2a2a2" stroke-width="1.8" stroke-linecap="round"/>
<line x1="925.7" y1="530.8" x2="955.3" y2="522.3" stroke="#787878" stroke-width="3.0" stroke-linecap="round"/><line x1="925.7" y1="530.4" x2="955.3" y2="521.9" stroke="#949494" stroke-width="2.1" stroke-linecap="round"/>
<line x1="891.8" y1="407.2" x2="990.8" y2="444.0" stroke="#787878" stroke-width="2.9" stroke-linecap="round"/><line x1="891.8" y1="406.9" x2="990.8" y2="443.6" stroke="#a2a2a2" stroke-width="2.0" stroke-linecap="round"/>
<line x1="962.5" y1="521.0" x2="996.5" y2="523.9" stroke="#787878" stroke-width="2.9" stroke-linecap="round"/><line x1="962.5" y1="520.7" x2="996.5" y2="523.5" stroke="#9a9a9a" stroke-width="2.0" stroke-linecap="round"/>
<line x1="842.0" y1="466.1" x2="868.6" y2="456.2" stroke="#787878" stroke-width="2.7" stroke-linecap="round"/><line x1="842.0" y1="465.8" x2="868.6" y2="455.9" stroke="#aaaaaa" stroke-width="1.8" stroke-linecap="round"/>
<line x1="957.4" y1="510.0" x2="957.8" y2="530.6" stroke="#787878" stroke-width="2.9" stroke-linecap="round"/><line x1="957.4" y1="509.6" x2="957.8" y2="530.2" stroke="#a2a2a2" stroke-width="2.0" stroke-linecap="round"/>
<line x1="884.6" y1="511.3" x2="948.9" y2="500.7" stroke="#787878" stroke-width="2.9" stroke-linecap="round"/><line x1="884.6" y1="510.9" x2="948.9" y2="500.4" stroke="#949494" stroke-width="2.0" stroke-linecap="round"/>
<line x1="1006.4" y1="401.0" x2="990.0" y2="491.6" stroke="#787878" stroke-width="2.9" stroke-linecap="round"/><line x1="1006.4" y1="400.7" x2="990.0" y2="491.2" stroke="#9a9a9a" stroke-width="2.0" stroke-linecap="round"/>
<line x1="863.4" y1="458.1" x2="908.2" y2="500.7" stroke="#787878" stroke-width="2.8" stroke-linecap="round"/><line x1="863.4" y1="457.7" x2="908.2" y2="500.4" stroke="#aaaaaa" stroke-width="1.9" stroke-linecap="round"/>
<line x1="842.9" y1="477.0" x2="882.8" y2="474.0" stroke="#787878" stroke-width="2.8" stroke-linecap="round"/><line x1="842.9" y1="476.7" x2="882.8" y2="473.6" stroke="#a2a2a2" stroke-width="1.9" stroke-linecap="round"/>
<line x1="856.3" y1="480.7" x2="903.7" y2="482.7" stroke="#787878" stroke-width="2.8" stroke-linecap="round"/><line x1="856.3" y1="480.4" x2="903.7" y2="482.4" stroke="#9a9a9a" stroke-width="1.9" stroke-linecap="round"/>
<line x1="868.0" y1="409.4" x2="949.2" y2="409.9" stroke="#787878" stroke-width="2.9" stroke-linecap="round"/><line x1="868.0" y1="409.1" x2="949.2" y2="409.6" stroke="#a2a2a2" stroke-width="2.0" stroke-linecap="round"/>
<line x1="847.7" y1="485.4" x2="902.1" y2="468.2" stroke="#787878" stroke-width="2.8" stroke-linecap="round"/><line x1="847.7" y1="485.1" x2="902.1" y2="467.9" stroke="#a2a2a2" stroke-width="1.9" stroke-linecap="round"/>
<line x1="936.4" y1="516.7" x2="1004.4" y2="520.0" stroke="#787878" stroke-width="2.7" stroke-linecap="round"/><line x1="936.4" y1="516.4" x2="1004.4" y2="519.7" stroke="#9a9a9a" stroke-width="1.8" stroke-linecap="round"/>
<line x1="925.3" y1="491.3" x2="1018.5" y2="441.7" stroke="#787878" stroke-width="2.8" stroke-linecap="round"/><line x1="925.3" y1="490.9" x2="1018.5" y2="441.3" stroke="#aaaaaa" stroke-width="1.9" stroke-linecap="round"/>
<line x1="974.5" y1="400.4" x2="1008.3" y2="427.1" stroke="#787878" stroke-width="2.9" stroke-linecap="round"/><line x1="974.5" y1="400.0" x2="1008.3" y2="426.8" stroke="#949494" stroke-width="2.0" stroke-linecap="round"/>
<line x1="926.5" y1="439.9" x2="967.4" y2="440.5" stroke="#787878" stroke-width="2.8" stroke-linecap="round"/><line x1="926.5" y1="439.5" x2="967.4" y2="440.2" stroke="#949494" stroke-width="1.9" stroke-linecap="round"/>
<line x1="916.3" y1="447.6" x2="1011.3" y2="466.8" stroke="#787878" stroke-width="3.1" stroke-linecap="round"/><line x1="916.3" y1="447.2" x2="1011.3" y2="466.4" stroke="#949494" stroke-width="2.2" stroke-linecap="round"/>
<line x1="849.1" y1="425.1" x2="887.8" y2="422.9" stroke="#787878" stroke-width="2.7" stroke-linecap="round"/><line x1="849.1" y1="424.7" x2="887.8" y2="422.5" stroke="#9a9a9a" stroke-width="1.8" stroke-linecap="round"/>
<line x1="1003.2" y1="495.0" x2="1028.4" y2="499.4" stroke="#787878" stroke-width="2.9" stroke-linecap="round"/><line x1="1003.2" y1="494.6" x2="1028.4" y2="499.0" stroke="#aaaaaa" stroke-width="2.0" stroke-linecap="round"/>
<line x1="889.3" y1="432.8" x2="969.7" y2="387.1" stroke="#787878" stroke-width="2.6" stroke-linecap="round"/><line x1="889.3" y1="432.5" x2="969.7" y2="386.8" stroke="#9a9a9a" stroke-width="1.7" stroke-linecap="round"/>
<line x1="961.0" y1="508.2" x2="1004.9" y2="519.8" stroke="#787878" stroke-width="2.9" stroke-linecap="round"/><line x1="961.0" y1="507.9" x2="1004.9" y2="519.4" stroke="#9a9a9a" stroke-width="2.0" stroke-linecap="round"/>
<line x1="910.0" y1="438.2" x2="993.7" y2="452.3" stroke="#787878" stroke-width="3.0" stroke-linecap="round"/><line x1="910.0" y1="437.8" x2="993.7" y2="452.0" stroke="#aaaaaa" stroke-width="2.1" stroke-linecap="round"/>
<line x1="851.0" y1="441.1" x2="923.6" y2="382.3" stroke="#787878" stroke-width="2.9" stroke-linecap="round"/><line x1="851.0" y1="440.7" x2="923.6" y2="381.9" stroke="#9a9a9a" stroke-width="2.0" stroke-linecap="round"/>
<line x1="956.9" y1="412.2" x2="1031.5" y2="441.6" stroke="#787878" stroke-width="3.0" stroke-linecap="round"/><line x1="956.9" y1="411.9" x2="1031.5" y2="441.3" stroke="#949494" stroke-width="2.1" stroke-linecap="round"/>
<line x1="917.8" y1="507.1" x2="1019.7" y2="469.7" stroke="#787878" stroke-width="2.6" stroke-linecap="round"/><line x1="917.8" y1="506.7" x2="1019.7" y2="469.4" stroke="#a2a2a2" stroke-width="1.7" stroke-linecap="round"/>
<line x1="896.0" y1="527.4" x2="970.5" y2="498.7" stroke="#787878" stroke-width="2.9" stroke-linecap="round"/><line x1="896.0" y1="527.1" x2="970.5" y2="498.4" stroke="#949494" stroke-width="2.0" stroke-linecap="round"/>
<line x1="935.6" y1="460.5" x2="975.3" y2="386.9" stroke="#787878" stroke-width="2.7" stroke-linecap="round"/><line x1="935.6" y1="460.1" x2="975.3" y2="386.6" stroke="#aaaaaa" stroke-width="1.8" stroke-linecap="round"/>
<line x1="940.7" y1="424.8" x2="1009.3" y2="433.8" stroke="#888888" stroke-width="3.1" stroke-linecap="round"/><line x1="940.7" y1="424.5" x2="1009.3" y2="433.5" stroke="#b4b4b4" stroke-width="2.2" stroke-linecap="round"/>
<line x1="875.6" y1="437.4" x2="934.9" y2="391.1" stroke="#888888" stroke-width="3.0" stroke-linecap="round"/><line x1="875.6" y1="437.0" x2="934.9" y2="390.8" stroke="#bcbcbc" stroke-width="2.1" stroke-linecap="round"/>
<line x1="926.3" y1="399.5" x2="950.9" y2="456.7" stroke="#888888" stroke-width="3.0" stroke-linecap="round"/><line x1="926.3" y1="399.1" x2="950.9" y2="456.3" stroke="#aeaeae" stroke-width="2.1" stroke-linecap="round"/>
<line x1="885.8" y1="397.9" x2="990.7" y2="385.7" stroke="#888888" stroke-width="3.0" stroke-linecap="round"/><line x1="885.8" y1="397.5" x2="990.7" y2="385.4" stroke="#bcbcbc" stroke-width="2.1" stroke-linecap="round"/>
<line x1="895.8" y1="481.0" x2="939.7" y2="449.3" stroke="#888888" stroke-width="3.0" stroke-linecap="round"/><line x1="895.8" y1="480.6" x2="939.7" y2="448.9" stroke="#c2c2c2" stroke-width="2.1" stroke-linecap="round"/>
<line x1="888.9" y1="500.6" x2="980.1" y2="500.8" stroke="#888888" stroke-width="2.9" stroke-linecap="round"/><line x1="888.9" y1="500.2" x2="980.1" y2="500.5" stroke="#aeaeae" stroke-width="2.0" stroke-linecap="round"/>
<line x1="888.8" y1="407.0" x2="936.6" y2="386.4" stroke="#888888" stroke-width="3.0" stroke-linecap="round"/><line x1="888.8" y1="406.6" x2="936.6" y2="386.1" stroke="#bcbcbc" stroke-width="2.1" stroke-linecap="round"/>
<line x1="950.3" y1="418.3" x2="984.8" y2="384.1" stroke="#888888" stroke-width="2.8" stroke-linecap="round"/><line x1="950.3" y1="418.0" x2="984.8" y2="383.8" stroke="#aeaeae" stroke-width="1.9" stroke-linecap="round"/>
<line x1="894.5" y1="386.5" x2="951.0" y2="391.3" stroke="#888888" stroke-width="2.8" stroke-linecap="round"/><line x1="894.5" y1="386.1" x2="951.0" y2="391.0" stroke="#bcbcbc" stroke-width="1.9" stroke-linecap="round"/>
<line x1="867.7" y1="492.5" x2="928.4" y2="490.1" stroke="#888888" stroke-width="3.0" stroke-linecap="round"/><line x1="867.7" y1="492.2" x2="928.4" y2="489.7" stroke="#bcbcbc" stroke-width="2.1" stroke-linecap="round"/>
<line x1="906.4" y1="437.6" x2="1002.8" y2="500.7" stroke="#888888" stroke-width="2.8" stroke-linecap="round"/><line x1="906.4" y1="437.3" x2="1002.8" y2="500.3" stroke="#b4b4b4" stroke-width="1.9" stroke-linecap="round"/>
<line x1="962.9" y1="456.3" x2="1037.5" y2="429.2" stroke="#888888" stroke-width="3.0" stroke-linecap="round"/><line x1="962.9" y1="455.9" x2="1037.5" y2="428.8" stroke="#c2c2c2" stroke-width="2.1" stroke-linecap="round"/>
<line x1="843.9" y1="501.6" x2="845.7" y2="470.9" stroke="#888888" stroke-width="3.0" stroke-linecap="round"/><line x1="843.9" y1="501.2" x2="845.7" y2="470.6" stroke="#bcbcbc" stroke-width="2.1" stroke-linecap="round"/>
<line x1="958.3" y1="467.8" x2="1040.5" y2="460.6" stroke="#888888" stroke-width="3.1" stroke-linecap="round"/><line x1="958.3" y1="467.5" x2="1040.5" y2="460.2" stroke="#c2c2c2" stroke-width="2.2" stroke-linecap="round"/>
<line x1="929.2" y1="399.2" x2="1006.6" y2="488.3" stroke="#888888" stroke-width="3.0" stroke-linecap="round"/><line x1="929.2" y1="398.9" x2="1006.6" y2="487.9" stroke="#bcbcbc" stroke-width="2.1" stroke-linecap="round"/>
<line x1="892.3" y1="416.2" x2="975.5" y2="420.4" stroke="#888888" stroke-width="3.0" stroke-linecap="round"/><line x1="892.3" y1="415.8" x2="975.5" y2="420.0" stroke="#bcbcbc" stroke-width="2.1" stroke-linecap="round"/>
<line x1="984.3" y1="534.0" x2="1003.1" y2="520.1" stroke="#888888" stroke-width="3.1" stroke-linecap="round"/><line x1="984.3" y1="533.6" x2="1003.1" y2="519.7" stroke="#b4b4b4" stroke-width="2.2" stroke-linecap="round"/>
<line x1="964.0" y1="392.7" x2="1030.1" y2="449.8" stroke="#888888" stroke-width="3.1" stroke-linecap="round"/><line x1="964.0" y1="392.3" x2="1030.1" y2="449.5" stroke="#b4b4b4" stroke-width="2.2" stroke-linecap="round"/>
<line x1="974.9" y1="534.2" x2="979.7" y2="508.8" stroke="#888888" stroke-width="3.1" stroke-linecap="round"/><line x1="974.9" y1="533.9" x2="979.7" y2="508.5" stroke="#b4b4b4" stroke-width="2.2" stroke-linecap="round"/>
<line x1="945.5" y1="479.4" x2="1016.7" y2="472.4" stroke="#888888" stroke-width="3.1" stroke-linecap="round"/><line x1="945.5" y1="479.0" x2="1016.7" y2="472.0" stroke="#bcbcbc" stroke-width="2.2" stroke-linecap="round"/>
<line x1="986.0" y1="492.0" x2="1041.4" y2="456.6" stroke="#888888" stroke-width="3.0" stroke-linecap="round"/><line x1="986.0" y1="491.6" x2="1041.4" y2="456.3" stroke="#b4b4b4" stroke-width="2.1" stroke-linecap="round"/>
<line x1="860.4" y1="487.5" x2="871.7" y2="525.9" stroke="#888888" stroke-width="2.9" stroke-linecap="round"/><line x1="860.4" y1="487.2" x2="871.7" y2="525.5" stroke="#b4b4b4" stroke-width="2.0" stroke-linecap="round"/>
<line x1="880.7" y1="416.9" x2="978.5" y2="418.5" stroke="#888888" stroke-width="3.0" stroke-linecap="round"/><line x1="880.7" y1="416.6" x2="978.5" y2="418.1" stroke="#aeaeae" stroke-width="2.1" stroke-linecap="round"/>
<line x1="921.6" y1="536.2" x2="1024.8" y2="477.2" stroke="#888888" stroke-width="3.0" stroke-linecap="round"/><line x1="921.6" y1="535.9" x2="1024.8" y2="476.9" stroke="#bcbcbc" stroke-width="2.1" stroke-linecap="round"/>
<line x1="887.2" y1="527.9" x2="938.3" y2="475.3" stroke="#888888" stroke-width="2.8" stroke-linecap="round"/><line x1="887.2" y1="527.6" x2="938.3" y2="475.0" stroke="#b4b4b4" stroke-width="1.9" stroke-linecap="round"/>
<line x1="926.6" y1="428.1" x2="1036.4" y2="423.9" stroke="#888888" stroke-width="2.9" stroke-linecap="round"/><line x1="926.6" y1="427.8" x2="1036.4" y2="423.6" stroke="#b4b4b4" stroke-width="2.0" stroke-linecap="round"/>
<line x1="963.4" y1="407.0" x2="1041.1" y2="434.0" stroke="#888888" stroke-width="2.9" stroke-linecap="round"/><line x1="963.4" y1="406.6" x2="1041.1" y2="433.6" stroke="#b4b4b4" stroke-width="2.0" stroke-linecap="round"/>
<line x1="917.9" y1="530.7" x2="983.1" y2="474.4" stroke="#888888" stroke-width="3.1" stroke-linecap="round"/><line x1="917.9" y1="530.4" x2="983.1" y2="474.0" stroke="#b4b4b4" stroke-width="2.2" stroke-linecap="round"/>
<line x1="849.7" y1="504.3" x2="978.2" y2="504.3" stroke="#888888" stroke-width="2.9" stroke-linecap="round"/><line x1="849.7" y1="504.0" x2="978.2" y2="504.0" stroke="#bcbcbc" stroke-width="2.0" stroke-linecap="round"/>
<line x1="874.5" y1="507.1" x2="959.5" y2="474.9" stroke="#888888" stroke-width="3.1" stroke-linecap="round"/><line x1="874.5" y1="506.7" x2="959.5" y2="474.6" stroke="#b4b4b4" stroke-width="2.2" stroke-linecap="round"/>
<line x1="905.6" y1="445.7" x2="990.3" y2="417.6" stroke="#888888" stroke-width="3.2" stroke-linecap="round"/><line x1="905.6" y1="445.3" x2="990.3" y2="417.3" stroke="#aeaeae" stroke-width="2.3" stroke-linecap="round"/>
<line x1="860.5" y1="520.1" x2="913.7" y2="503.9" stroke="#888888" stroke-width="3.0" stroke-linecap="round"/><line x1="860.5" y1="519.7" x2="913.7" y2="503.6" stroke="#b4b4b4" stroke-width="2.1" stroke-linecap="round"/>
<line x1="848.4" y1="436.9" x2="939.1" y2="501.3" stroke="#888888" stroke-width="3.0" stroke-linecap="round"/><line x1="848.4" y1="436.5" x2="939.1" y2="500.9" stroke="#bcbcbc" stroke-width="2.1" stroke-linecap="round"/>
<line x1="999.5" y1="400.5" x2="1037.6" y2="426.2" stroke="#888888" stroke-width="2.8" stroke-linecap="round"/><line x1="999.5" y1="400.2" x2="1037.6" y2="425.9" stroke="#c2c2c2" stroke-width="1.9" stroke-linecap="round"/>
<line x1="909.3" y1="393.1" x2="954.6" y2="378.4" stroke="#888888" stroke-width="3.1" stroke-linecap="round"/><line x1="909.3" y1="392.7" x2="954.6" y2="378.0" stroke="#c2c2c2" stroke-width="2.2" stroke-linecap="round"/>
<line x1="847.6" y1="459.2" x2="935.8" y2="488.8" stroke="#888888" stroke-width="3.1" stroke-linecap="round"/><line x1="847.6" y1="458.9" x2="935.8" y2="488.4" stroke="#b4b4b4" stroke-width="2.2" stroke-linecap="round"/>
<line x1="925.5" y1="400.5" x2="992.7" y2="415.3" stroke="#888888" stroke-width="2.8" stroke-linecap="round"/><line x1="925.5" y1="400.1" x2="992.7" y2="414.9" stroke="#b4b4b4" stroke-width="1.9" stroke-linecap="round"/>
<line x1="834.8" y1="459.9" x2="868.0" y2="434.2" stroke="#888888" stroke-width="3.1" stroke-linecap="round"/><line x1="834.8" y1="459.6" x2="868.0" y2="433.9" stroke="#c2c2c2" stroke-width="2.2" stroke-linecap="round"/>
<line x1="936.9" y1="476.3" x2="1033.5" y2="431.3" stroke="#888888" stroke-width="3.1" stroke-linecap="round"/><line x1="936.9" y1="475.9" x2="1033.5" y2="431.0" stroke="#b4b4b4" stroke-width="2.2" stroke-linecap="round"/>
<line x1="995.8" y1="494.9" x2="1043.9" y2="464.1" stroke="#888888" stroke-width="2.7" stroke-linecap="round"/><line x1="995.8" y1="494.5" x2="1043.9" y2="463.8" stroke="#c2c2c2" stroke-width="1.8" stroke-linecap="round"/>
<line x1="906.5" y1="418.4" x2="976.3" y2="387.0" stroke="#888888" stroke-width="3.1" stroke-linecap="round"/><line x1="906.5" y1="418.1" x2="976.3" y2="386.6" stroke="#c2c2c2" stroke-width="2.2" stroke-linecap="round"/>
<line x1="861.7" y1="478.0" x2="901.7" y2="508.1" stroke="#888888" stroke-width="2.7" stroke-linecap="round"/><line x1="861.7" y1="477.7" x2="901.7" y2="507.8" stroke="#b4b4b4" stroke-width="1.8" stroke-linecap="round"/>
<line x1="927.8" y1="455.9" x2="958.0" y2="536.6" stroke="#888888" stroke-width="2.8" stroke-linecap="round"/><line x1="927.8" y1="455.6" x2="958.0" y2="536.2" stroke="#bcbcbc" stroke-width="1.9" stroke-linecap="round"/>
<line x1="843.9" y1="422.0" x2="860.6" y2="428.7" stroke="#888888" stroke-width="3.0" stroke-linecap="round"/><line x1="843.9" y1="421.6" x2="860.6" y2="428.4" stroke="#bcbcbc" stroke-width="2.1" stroke-linecap="round"/>
<line x1="888.8" y1="481.1" x2="965.4" y2="482.2" stroke="#888888" stroke-width="3.1" stroke-linecap="round"/><line x1="888.8" y1="480.7" x2="965.4" y2="481.8" stroke="#b4b4b4" stroke-width="2.2" stroke-linecap="round"/>
<line x1="860.6" y1="461.8" x2="971.0" y2="408.2" stroke="#888888" stroke-width="2.8" stroke-linecap="round"/><line x1="860.6" y1="461.5" x2="971.0" y2="407.8" stroke="#aeaeae" stroke-width="1.9" stroke-linecap="round"/>
<line x1="1010.0" y1="443.2" x2="1042.5" y2="458.0" stroke="#888888" stroke-width="2.9" stroke-linecap="round"/><line x1="1010.0" y1="442.9" x2="1042.5" y2="457.6" stroke="#b4b4b4" stroke-width="2.0" stroke-linecap="round"/>
<line x1="842.7" y1="493.3" x2="886.3" y2="530.5" stroke="#888888" stroke-width="3.1" stroke-linecap="round"/><line x1="842.7" y1="493.0" x2="886.3" y2="530.2" stroke="#b4b4b4" stroke-width="2.2" stroke-linecap="round"/>
<line x1="1030.5" y1="450.1" x2="1036.9" y2="423.3" stroke="#888888" stroke-width="2.8" stroke-linecap="round"/><line x1="1030.5" y1="449.7" x2="1036.9" y2="423.0" stroke="#bcbcbc" stroke-width="1.9" stroke-linecap="round"/>
<line x1="867.4" y1="396.6" x2="934.6" y2="425.9" stroke="#888888" stroke-width="3.1" stroke-linecap="round"/><line x1="867.4" y1="396.3" x2="934.6" y2="425.6" stroke="#c2c2c2" stroke-width="2.2" stroke-linecap="round"/>
<line x1="839.9" y1="436.4" x2="899.4" y2="459.2" stroke="#888888" stroke-width="3.1" stroke-linecap="round"/><line x1="839.9" y1="436.1" x2="899.4" y2="458.9" stroke="#aeaeae" stroke-width="2.2" stroke-linecap="round"/>
<line x1="835.7" y1="442.2" x2="890.1" y2="442.3" stroke="#888888" stroke-width="3.0" stroke-linecap="round"/><line x1="835.7" y1="441.8" x2="890.1" y2="442.0" stroke="#c2c2c2" stroke-width="2.1" stroke-linecap="round"/>
<line x1="984.4" y1="418.9" x2="1029.4" y2="412.7" stroke="#888888" stroke-width="3.2" stroke-linecap="round"/><line x1="984.4" y1="418.6" x2="1029.4" y2="412.3" stroke="#c2c2c2" stroke-width="2.3" stroke-linecap="round"/>
<line x1="836.1" y1="481.1" x2="891.4" y2="435.5" stroke="#888888" stroke-width="2.7" stroke-linecap="round"/><line x1="836.1" y1="480.7" x2="891.4" y2="435.1" stroke="#b4b4b4" stroke-width="1.8" stroke-linecap="round"/>
<line x1="901.0" y1="438.0" x2="949.1" y2="393.9" stroke="#888888" stroke-width="2.9" stroke-linecap="round"/><line x1="901.0" y1="437.7" x2="949.1" y2="393.5" stroke="#bcbcbc" stroke-width="2.0" stroke-linecap="round"/>
<line x1="891.7" y1="426.4" x2="939.9" y2="457.3" stroke="#888888" stroke-width="3.1" stroke-linecap="round"/><line x1="891.7" y1="426.0" x2="939.9" y2="456.9" stroke="#aeaeae" stroke-width="2.2" stroke-linecap="round"/>
<line x1="944.2" y1="410.9" x2="997.3" y2="481.6" stroke="#888888" stroke-width="2.7" stroke-linecap="round"/><line x1="944.2" y1="410.6" x2="997.3" y2="481.3" stroke="#b4b4b4" stroke-width="1.8" stroke-linecap="round"/>
<line x1="905.6" y1="494.2" x2="949.3" y2="515.0" stroke="#888888" stroke-width="3.1" stroke-linecap="round"/><line x1="905.6" y1="493.9" x2="949.3" y2="514.7" stroke="#aeaeae" stroke-width="2.2" stroke-linecap="round"/>
<line x1="862.4" y1="428.0" x2="977.5" y2="409.0" stroke="#888888" stroke-width="3.0" stroke-linecap="round"/><line x1="862.4" y1="427.7" x2="977.5" y2="408.6" stroke="#bcbcbc" stroke-width="2.1" stroke-linecap="round"/>
<line x1="888.2" y1="389.9" x2="1001.4" y2="431.5" stroke="#888888" stroke-width="2.9" stroke-linecap="round"/><line x1="888.2" y1="389.6" x2="1001.4" y2="431.1" stroke="#aeaeae" stroke-width="2.0" stroke-linecap="round"/>
<line x1="969.1" y1="481.7" x2="1012.5" y2="518.1" stroke="#888888" stroke-width="2.9" stroke-linecap="round"/><line x1="969.1" y1="481.4" x2="1012.5" y2="517.7" stroke="#b4b4b4" stroke-width="2.0" stroke-linecap="round"/>
<line x1="940.7" y1="452.3" x2="1014.1" y2="502.9" stroke="#888888" stroke-width="2.9" stroke-linecap="round"/><line x1="940.7" y1="451.9" x2="1014.1" y2="502.5" stroke="#bcbcbc" stroke-width="2.0" stroke-linecap="round"/>
<line x1="899.6" y1="408.3" x2="988.5" y2="452.5" stroke="#888888" stroke-width="3.0" stroke-linecap="round"/><line x1="899.6" y1="407.9" x2="988.5" y2="452.2" stroke="#bcbcbc" stroke-width="2.1" stroke-linecap="round"/>
<line x1="881.0" y1="475.1" x2="959.2" y2="525.3" stroke="#888888" stroke-width="2.8" stroke-linecap="round"/><line x1="881.0" y1="474.8" x2="959.2" y2="524.9" stroke="#b4b4b4" stroke-width="1.9" stroke-linecap="round"/>
<line x1="954.2" y1="446.3" x2="1014.8" y2="490.9" stroke="#888888" stroke-width="3.1" stroke-linecap="round"/><line x1="954.2" y1="446.0" x2="1014.8" y2="490.5" stroke="#c2c2c2" stroke-width="2.2" stroke-linecap="round"/>
<line x1="836.4" y1="431.6" x2="855.0" y2="432.3" stroke="#888888" stroke-width="3.0" stroke-linecap="round"/><line x1="836.4" y1="431.2" x2="855.0" y2="431.9" stroke="#c2c2c2" stroke-width="2.1" stroke-linecap="round"/>
<line x1="1006.6" y1="441.7" x2="1035.4" y2="496.0" stroke="#888888" stroke-width="3.2" stroke-linecap="round"/><line x1="1006.6" y1="441.3" x2="1035.4" y2="495.6" stroke="#aeaeae" stroke-width="2.3" stroke-linecap="round"/>
<line x1="840.7" y1="496.4" x2="866.7" y2="493.2" stroke="#888888" stroke-width="2.7" stroke-linecap="round"/><line x1="840.7" y1="496.1" x2="866.7" y2="492.8" stroke="#c2c2c2" stroke-width="1.8" stroke-linecap="round"/>
<line x1="920.1" y1="398.2" x2="1012.3" y2="402.2" stroke="#888888" stroke-width="2.9" stroke-linecap="round"/><line x1="920.1" y1="397.9" x2="1012.3" y2="401.9" stroke="#aeaeae" stroke-width="2.0" stroke-linecap="round"/>
<line x1="864.9" y1="522.8" x2="910.2" y2="502.6" stroke="#888888" stroke-width="2.8" stroke-linecap="round"/><line x1="864.9" y1="522.4" x2="910.2" y2="502.2" stroke="#b4b4b4" stroke-width="1.9" stroke-linecap="round"/>
<line x1="886.6" y1="398.7" x2="927.7" y2="376.9" stroke="#888888" stroke-width="3.0" stroke-linecap="round"/><line x1="886.6" y1="398.3" x2="927.7" y2="376.5" stroke="#b4b4b4" stroke-width="2.1" stroke-linecap="round"/>
<line x1="872.2" y1="469.2" x2="992.3" y2="471.6" stroke="#888888" stroke-width="2.8" stroke-linecap="round"/><line x1="872.2" y1="468.9" x2="992.3" y2="471.3" stroke="#bcbcbc" stroke-width="1.9" stroke-linecap="round"/>
<line x1="900.2" y1="424.2" x2="998.1" y2="396.3" stroke="#888888" stroke-width="2.7" stroke-linecap="round"/><line x1="900.2" y1="423.8" x2="998.1" y2="395.9" stroke="#c2c2c2" stroke-width="1.8" stroke-linecap="round"/>
<line x1="880.0" y1="433.2" x2="983.4" y2="444.1" stroke="#888888" stroke-width="2.9" stroke-linecap="round"/><line x1="880.0" y1="432.8" x2="983.4" y2="443.8" stroke="#c2c2c2" stroke-width="2.0" stroke-linecap="round"/>
<line x1="959.1" y1="448.7" x2="963.6" y2="497.9" stroke="#888888" stroke-width="3.2" stroke-linecap="round"/><line x1="959.1" y1="448.3" x2="963.6" y2="497.5" stroke="#bcbcbc" stroke-width="2.3" stroke-linecap="round"/>
<line x1="868.7" y1="417.8" x2="951.1" y2="460.9" stroke="#888888" stroke-width="3.2" stroke-linecap="round"/><line x1="868.7" y1="417.4" x2="951.1" y2="460.5" stroke="#b4b4b4" stroke-width="2.3" stroke-linecap="round"/>
<line x1="897.6" y1="486.4" x2="938.6" y2="446.1" stroke="#888888" stroke-width="3.1" stroke-linecap="round"/><line x1="897.6" y1="486.0" x2="938.6" y2="445.8" stroke="#b4b4b4" stroke-width="2.2" stroke-linecap="round"/>
<line x1="969.4" y1="460.1" x2="989.9" y2="402.7" stroke="#888888" stroke-width="3.0" stroke-linecap="round"/><line x1="969.4" y1="459.7" x2="989.9" y2="402.3" stroke="#aeaeae" stroke-width="2.1" stroke-linecap="round"/>
<line x1="875.2" y1="424.3" x2="927.5" y2="387.2" stroke="#888888" stroke-width="2.9" stroke-linecap="round"/><line x1="875.2" y1="424.0" x2="927.5" y2="386.8" stroke="#b4b4b4" stroke-width="2.0" stroke-linecap="round"/>
<line x1="919.1" y1="382.6" x2="926.1" y2="494.8" stroke="#888888" stroke-width="3.1" stroke-linecap="round"/><line x1="919.1" y1="382.3" x2="926.1" y2="494.4" stroke="#c2c2c2" stroke-width="2.2" stroke-linecap="round"/>
<line x1="928.5" y1="526.6" x2="1004.7" y2="525.8" stroke="#888888" stroke-width="3.1" stroke-linecap="round"/><line x1="928.5" y1="526.2" x2="1004.7" y2="525.5" stroke="#bcbcbc" stroke-width="2.2" stroke-linecap="round"/>
<line x1="902.3" y1="381.3" x2="910.6" y2="418.8" stroke="#888888" stroke-width="3.0" stroke-linecap="round"/><line x1="902.3" y1="380.9" x2="910.6" y2="418.5" stroke="#bcbcbc" stroke-width="2.1" stroke-linecap="round"/>
<line x1="835.9" y1="463.6" x2="861.3" y2="478.8" stroke="#888888" stroke-width="3.2" stroke-linecap="round"/><line x1="835.9" y1="463.2" x2="861.3" y2="478.4" stroke="#c2c2c2" stroke-width="2.3" stroke-linecap="round"/>
<line x1="922.7" y1="505.6" x2="962.4" y2="535.9" stroke="#888888" stroke-width="3.1" stroke-linecap="round"/><line x1="922.7" y1="505.2" x2="962.4" y2="535.5" stroke="#c2c2c2" stroke-width="2.2" stroke-linecap="round"/>
<line x1="963.9" y1="431.9" x2="1021.8" y2="408.6" stroke="#888888" stroke-width="2.9" stroke-linecap="round"/><line x1="963.9" y1="431.5" x2="1021.8" y2="408.3" stroke="#bcbcbc" stroke-width="2.0" stroke-linecap="round"/>
<line x1="848.1" y1="454.7" x2="909.4" y2="419.2" stroke="#888888" stroke-width="2.9" stroke-linecap="round"/><line x1="848.1" y1="454.4" x2="909.4" y2="418.9" stroke="#aeaeae" stroke-width="2.0" stroke-linecap="round"/>
<line x1="908.7" y1="524.8" x2="961.6" y2="494.3" stroke="#888888" stroke-width="3.0" stroke-linecap="round"/><line x1="908.7" y1="524.4" x2="961.6" y2="494.0" stroke="#c2c2c2" stroke-width="2.1" stroke-linecap="round"/>
<line x1="907.6" y1="518.4" x2="926.8" y2="536.1" stroke="#888888" stroke-width="3.0" stroke-linecap="round"/><line x1="907.6" y1="518.1" x2="926.8" y2="535.8" stroke="#aeaeae" stroke-width="2.1" stroke-linecap="round"/>
<line x1="884.1" y1="505.6" x2="894.7" y2="533.5" stroke="#888888" stroke-width="3.1" stroke-linecap="round"/><line x1="884.1" y1="505.2" x2="894.7" y2="533.2" stroke="#bcbcbc" stroke-width="2.2" stroke-linecap="round"/>
<line x1="928.4" y1="444.4" x2="998.2" y2="416.5" stroke="#888888" stroke-width="2.8" stroke-linecap="round"/><line x1="928.4" y1="444.1" x2="998.2" y2="416.2" stroke="#c2c2c2" stroke-width="1.9" stroke-linecap="round"/>
<line x1="960.1" y1="484.3" x2="1035.6" y2="434.7" stroke="#888888" stroke-width="2.7" stroke-linecap="round"/><line x1="960.1" y1="484.0" x2="1035.6" y2="434.4" stroke="#bcbcbc" stroke-width="1.8" stroke-linecap="round"/>
<line x1="881.2" y1="493.0" x2="900.6" y2="532.9" stroke="#888888" stroke-width="2.9" stroke-linecap="round"/><line x1="881.2" y1="492.6" x2="900.6" y2="532.6" stroke="#aeaeae" stroke-width="2.0" stroke-linecap="round"/>
<line x1="924.7" y1="490.9" x2="1012.8" y2="465.5" stroke="#888888" stroke-width="3.0" stroke-linecap="round"/><line x1="924.7" y1="490.6" x2="1012.8" y2="465.1" stroke="#aeaeae" stroke-width="2.1" stroke-linecap="round"/>
<line x1="837.0" y1="450.8" x2="874.7" y2="426.7" stroke="#888888" stroke-width="3.2" stroke-linecap="round"/><line x1="837.0" y1="450.5" x2="874.7" y2="426.4" stroke="#c2c2c2" stroke-width="2.3" stroke-linecap="round"/>
<line x1="1002.8" y1="421.8" x2="1031.2" y2="416.0" stroke="#888888" stroke-width="2.8" stroke-linecap="round"/><line x1="1002.8" y1="421.5" x2="1031.2" y2="415.7" stroke="#b4b4b4" stroke-width="1.9" stroke-linecap="round"/>
<line x1="849.3" y1="439.8" x2="937.4" y2="422.6" stroke="#888888" stroke-width="2.8" stroke-linecap="round"/><line x1="849.3" y1="439.5" x2="937.4" y2="422.3" stroke="#c2c2c2" stroke-width="1.9" stroke-linecap="round"/>
<line x1="938.6" y1="449.4" x2="983.4" y2="512.4" stroke="#888888" stroke-width="2.7" stroke-linecap="round"/><line x1="938.6" y1="449.0" x2="983.4" y2="512.1" stroke="#c2c2c2" stroke-width="1.8" stroke-linecap="round"/>
<line x1="855.0" y1="460.5" x2="937.0" y2="463.9" stroke="#888888" stroke-width="3.0" stroke-linecap="round"/><line x1="855.0" y1="460.2" x2="937.0" y2="463.5" stroke="#bcbcbc" stroke-width="2.1" stroke-linecap="round"/>
<line x1="865.8" y1="400.2" x2="960.1" y2="421.7" stroke="#888888" stroke-width="3.0" stroke-linecap="round"/><line x1="865.8" y1="399.9" x2="960.1" y2="421.4" stroke="#b4b4b4" stroke-width="2.1" stroke-linecap="round"/>
<line x1="835.9" y1="450.5" x2="930.9" y2="403.0" stroke="#888888" stroke-width="3.0" stroke-linecap="round"/><line x1="835.9" y1="450.2" x2="930.9" y2="402.6" stroke="#c2c2c2" stroke-width="2.1" stroke-linecap="round"/>
<line x1="871.4" y1="525.9" x2="901.5" y2="519.1" stroke="#888888" stroke-width="2.9" stroke-linecap="round"/><line x1="871.4" y1="525.5" x2="901.5" y2="518.8" stroke="#aeaeae" stroke-width="2.0" stroke-linecap="round"/>
<line x1="894.5" y1="485.1" x2="957.9" y2="536.3" stroke="#888888" stroke-width="3.1" stroke-linecap="round"/><line x1="894.5" y1="484.7" x2="957.9" y2="536.0" stroke="#aeaeae" stroke-width="2.2" stroke-linecap="round"/>
<line x1="939.8" y1="439.6" x2="1017.7" y2="456.7" stroke="#888888" stroke-width="3.1" stroke-linecap="round"/><line x1="939.8" y1="439.2" x2="1017.7" y2="456.3" stroke="#b4b4b4" stroke-width="2.2" stroke-linecap="round"/>
<line x1="911.1" y1="480.5" x2="969.3" y2="481.4" stroke="#888888" stroke-width="3.1" stroke-linecap="round"/><line x1="911.1" y1="480.2" x2="969.3" y2="481.0" stroke="#c2c2c2" stroke-width="2.2" stroke-linecap="round"/>
<line x1="838.4" y1="476.9" x2="904.4" y2="408.7" stroke="#888888" stroke-width="3.1" stroke-linecap="round"/><line x1="838.4" y1="476.5" x2="904.4" y2="408.3" stroke="#c2c2c2" stroke-width="2.2" stroke-linecap="round"/>
<line x1="947.6" y1="513.3" x2="1016.7" y2="481.5" stroke="#888888" stroke-width="3.1" stroke-linecap="round"/><line x1="947.6" y1="513.0" x2="1016.7" y2="481.1" stroke="#b4b4b4" stroke-width="2.2" stroke-linecap="round"/>
<line x1="838.9" y1="486.6" x2="898.4" y2="477.8" stroke="#888888" stroke-width="2.8" stroke-linecap="round"/><line x1="838.9" y1="486.3" x2="898.4" y2="477.4" stroke="#c2c2c2" stroke-width="1.9" stroke-linecap="round"/>
<line x1="904.4" y1="486.4" x2="986.2" y2="531.9" stroke="#888888" stroke-width="2.8" stroke-linecap="round"/><line x1="904.4" y1="486.0" x2="986.2" y2="531.5" stroke="#b4b4b4" stroke-width="1.9" stroke-linecap="round"/>
<line x1="898.5" y1="387.8" x2="942.9" y2="376.4" stroke="#888888" stroke-width="2.9" stroke-linecap="round"/><line x1="898.5" y1="387.4" x2="942.9" y2="376.1" stroke="#aeaeae" stroke-width="2.0" stroke-linecap="round"/>
<line x1="988.7" y1="529.0" x2="989.4" y2="447.4" stroke="#888888" stroke-width="3.1" stroke-linecap="round"/><line x1="988.7" y1="528.7" x2="989.4" y2="447.1" stroke="#c2c2c2" stroke-width="2.2" stroke-linecap="round"/>
<line x1="950.6" y1="536.8" x2="952.6" y2="515.3" stroke="#888888" stroke-width="2.8" stroke-linecap="round"/><line x1="950.6" y1="536.4" x2="952.6" y2="515.0" stroke="#b4b4b4" stroke-width="1.9" stroke-linecap="round"/>
<line x1="958.4" y1="460.8" x2="1039.9" y2="473.7" stroke="#888888" stroke-width="3.2" stroke-linecap="round"/><line x1="958.4" y1="460.4" x2="1039.9" y2="473.4" stroke="#b4b4b4" stroke-width="2.3" stroke-linecap="round"/>
<line x1="900.0" y1="385.2" x2="986.3" y2="407.1" stroke="#888888" stroke-width="2.7" stroke-linecap="round"/><line x1="900.0" y1="384.9" x2="986.3" y2="406.7" stroke="#b4b4b4" stroke-width="1.8" stroke-linecap="round"/>
<line x1="896.2" y1="412.4" x2="979.6" y2="488.7" stroke="#888888" stroke-width="3.1" stroke-linecap="round"/><line x1="896.2" y1="412.0" x2="979.6" y2="488.3" stroke="#c2c2c2" stroke-width="2.2" stroke-linecap="round"/>
<line x1="940.2" y1="496.5" x2="1005.9" y2="477.5" stroke="#888888" stroke-width="2.8" stroke-linecap="round"/><line x1="940.2" y1="496.2" x2="1005.9" y2="477.1" stroke="#b4b4b4" stroke-width="1.9" stroke-linecap="round"/>
<line x1="854.3" y1="442.2" x2="902.5" y2="434.8" stroke="#888888" stroke-width="3.0" stroke-linecap="round"/><line x1="854.3" y1="441.9" x2="902.5" y2="434.5" stroke="#b4b4b4" stroke-width="2.1" stroke-linecap="round"/>
<line x1="875.4" y1="390.5" x2="882.7" y2="407.0" stroke="#888888" stroke-width="2.8" stroke-linecap="round"/><line x1="875.4" y1="390.2" x2="882.7" y2="406.7" stroke="#b4b4b4" stroke-width="1.9" stroke-linecap="round"/>
<line x1="859.0" y1="426.1" x2="985.1" y2="402.5" stroke="#888888" stroke-width="3.1" stroke-linecap="round"/><line x1="859.0" y1="425.8" x2="985.1" y2="402.2" stroke="#c2c2c2" stroke-width="2.2" stroke-linecap="round"/>
<line x1="856.4" y1="407.3" x2="878.4" y2="464.1" stroke="#888888" stroke-width="3.0" stroke-linecap="round"/><line x1="856.4" y1="406.9" x2="878.4" y2="463.7" stroke="#b4b4b4" stroke-width="2.1" stroke-linecap="round"/>
<line x1="857.7" y1="408.6" x2="962.0" y2="447.9" stroke="#888888" stroke-width="3.0" stroke-linecap="round"/><line x1="857.7" y1="408.3" x2="962.0" y2="447.6" stroke="#aeaeae" stroke-width="2.1" stroke-linecap="round"/>
<line x1="901.2" y1="534.0" x2="944.6" y2="516.8" stroke="#888888" stroke-width="2.8" stroke-linecap="round"/><line x1="901.2" y1="533.6" x2="944.6" y2="516.4" stroke="#c2c2c2" stroke-width="1.9" stroke-linecap="round"/>
<line x1="913.9" y1="403.1" x2="951.6" y2="456.7" stroke="#888888" stroke-width="3.1" stroke-linecap="round"/><line x1="913.9" y1="402.7" x2="951.6" y2="456.3" stroke="#aeaeae" stroke-width="2.2" stroke-linecap="round"/>
<line x1="908.2" y1="496.6" x2="991.5" y2="512.0" stroke="#888888" stroke-width="3.0" stroke-linecap="round"/><line x1="908.2" y1="496.2" x2="991.5" y2="511.7" stroke="#b4b4b4" stroke-width="2.1" stroke-linecap="round"/>
<line x1="985.5" y1="417.7" x2="1024.3" y2="407.0" stroke="#888888" stroke-width="3.1" stroke-linecap="round"/><line x1="985.5" y1="417.4" x2="1024.3" y2="406.6" stroke="#c2c2c2" stroke-width="2.2" stroke-linecap="round"/>
<line x1="927.9" y1="412.8" x2="987.6" y2="431.1" stroke="#888888" stroke-width="2.8" stroke-linecap="round"/><line x1="927.9" y1="412.5" x2="987.6" y2="430.7" stroke="#aeaeae" stroke-width="1.9" stroke-linecap="round"/>
<line x1="1031.8" y1="446.3" x2="1005.9" y2="524.6" stroke="#888888" stroke-width="3.1" stroke-linecap="round"/><line x1="1031.8" y1="446.0" x2="1005.9" y2="524.2" stroke="#aeaeae" stroke-width="2.2" stroke-linecap="round"/>
<line x1="878.0" y1="493.6" x2="959.8" y2="421.8" stroke="#888888" stroke-width="3.2" stroke-linecap="round"/><line x1="878.0" y1="493.3" x2="959.8" y2="421.5" stroke="#b4b4b4" stroke-width="2.3" stroke-linecap="round"/>
<line x1="963.6" y1="377.6" x2="994.7" y2="397.1" stroke="#888888" stroke-width="2.7" stroke-linecap="round"/><line x1="963.6" y1="377.2" x2="994.7" y2="396.8" stroke="#c2c2c2" stroke-width="1.8" stroke-linecap="round"/>
<line x1="966.4" y1="379.5" x2="1009.7" y2="413.2" stroke="#888888" stroke-width="2.8" stroke-linecap="round"/><line x1="966.4" y1="379.1" x2="1009.7" y2="412.9" stroke="#c2c2c2" stroke-width="1.9" stroke-linecap="round"/>
<line x1="994.6" y1="388.6" x2="1006.9" y2="433.2" stroke="#888888" stroke-width="2.8" stroke-linecap="round"/><line x1="994.6" y1="388.2" x2="1006.9" y2="432.9" stroke="#b4b4b4" stroke-width="1.9" stroke-linecap="round"/>
<line x1="986.9" y1="383.6" x2="1006.8" y2="425.2" stroke="#888888" stroke-width="3.0" stroke-linecap="round"/><line x1="986.9" y1="383.2" x2="1006.8" y2="424.9" stroke="#bcbcbc" stroke-width="2.1" stroke-linecap="round"/>
<line x1="867.4" y1="521.4" x2="919.6" y2="497.1" stroke="#888888" stroke-width="2.9" stroke-linecap="round"/><line x1="867.4" y1="521.0" x2="919.6" y2="496.7" stroke="#b4b4b4" stroke-width="2.0" stroke-linecap="round"/>
<line x1="909.0" y1="458.0" x2="1027.3" y2="497.2" stroke="#888888" stroke-width="2.9" stroke-linecap="round"/><line x1="909.0" y1="457.6" x2="1027.3" y2="496.9" stroke="#c2c2c2" stroke-width="2.0" stroke-linecap="round"/>
<line x1="846.1" y1="427.3" x2="891.5" y2="439.9" stroke="#888888" stroke-width="3.0" stroke-linecap="round"/><line x1="846.1" y1="427.0" x2="891.5" y2="439.5" stroke="#bcbcbc" stroke-width="2.1" stroke-linecap="round"/>
<line x1="958.5" y1="479.2" x2="1011.2" y2="420.3" stroke="#888888" stroke-width="2.8" stroke-linecap="round"/><line x1="958.5" y1="478.8" x2="1011.2" y2="419.9" stroke="#c2c2c2" stroke-width="1.9" stroke-linecap="round"/>
<line x1="856.4" y1="429.8" x2="931.9" y2="405.3" stroke="#888888" stroke-width="3.1" stroke-linecap="round"/><line x1="856.4" y1="429.4" x2="931.9" y2="404.9" stroke="#c2c2c2" stroke-width="2.2" stroke-linecap="round"/>
<line x1="935.7" y1="451.7" x2="992.1" y2="437.0" stroke="#888888" stroke-width="3.1" stroke-linecap="round"/><line x1="935.7" y1="451.4" x2="992.1" y2="436.6" stroke="#aeaeae" stroke-width="2.2" stroke-linecap="round"/>
<line x1="973.5" y1="490.8" x2="1011.3" y2="438.8" stroke="#888888" stroke-width="3.0" stroke-linecap="round"/><line x1="973.5" y1="490.5" x2="1011.3" y2="438.4" stroke="#c2c2c2" stroke-width="2.1" stroke-linecap="round"/>
<line x1="911.9" y1="502.3" x2="967.2" y2="416.7" stroke="#888888" stroke-width="3.0" stroke-linecap="round"/><line x1="911.9" y1="502.0" x2="967.2" y2="416.3" stroke="#aeaeae" stroke-width="2.1" stroke-linecap="round"/>
<line x1="949.1" y1="522.3" x2="964.0" y2="536.1" stroke="#888888" stroke-width="3.0" stroke-linecap="round"/><line x1="949.1" y1="521.9" x2="964.0" y2="535.7" stroke="#c2c2c2" stroke-width="2.1" stroke-linecap="round"/>
<line x1="1004.0" y1="456.7" x2="1041.1" y2="483.9" stroke="#888888" stroke-width="2.8" stroke-linecap="round"/><line x1="1004.0" y1="456.4" x2="1041.1" y2="483.5" stroke="#c2c2c2" stroke-width="1.9" stroke-linecap="round"/>
<line x1="872.4" y1="526.9" x2="927.8" y2="478.2" stroke="#888888" stroke-width="3.0" stroke-linecap="round"/><line x1="872.4" y1="526.5" x2="927.8" y2="477.9" stroke="#b4b4b4" stroke-width="2.1" stroke-linecap="round"/>
<line x1="851.1" y1="412.6" x2="906.0" y2="508.6" stroke="#888888" stroke-width="3.0" stroke-linecap="round"/><line x1="851.1" y1="412.2" x2="906.0" y2="508.3" stroke="#b4b4b4" stroke-width="2.1" stroke-linecap="round"/>
<line x1="896.1" y1="467.0" x2="958.7" y2="391.3" stroke="#888888" stroke-width="2.8" stroke-linecap="round"/><line x1="896.1" y1="466.6" x2="958.7" y2="391.0" stroke="#c2c2c2" stroke-width="1.9" stroke-linecap="round"/>
<line x1="890.8" y1="486.5" x2="993.0" y2="484.8" stroke="#888888" stroke-width="2.9" stroke-linecap="round"/><line x1="890.8" y1="486.2" x2="993.0" y2="484.4" stroke="#bcbcbc" stroke-width="2.0" stroke-linecap="round"/>
<line x1="994.3" y1="511.3" x2="1038.2" y2="494.2" stroke="#888888" stroke-width="3.2" stroke-linecap="round"/><line x1="994.3" y1="511.0" x2="1038.2" y2="493.8" stroke="#b4b4b4" stroke-width="2.3" stroke-linecap="round"/>
<line x1="897.3" y1="400.0" x2="1008.7" y2="402.7" stroke="#888888" stroke-width="2.8" stroke-linecap="round"/><line x1="897.3" y1="399.6" x2="1008.7" y2="402.3" stroke="#bcbcbc" stroke-width="1.9" stroke-linecap="round"/>
<line x1="857.0" y1="406.9" x2="906.8" y2="424.5" stroke="#888888" stroke-width="3.0" stroke-linecap="round"/><line x1="857.0" y1="406.6" x2="906.8" y2="424.2" stroke="#bcbcbc" stroke-width="2.1" stroke-linecap="round"/>
<line x1="936.7" y1="397.7" x2="1003.4" y2="392.4" stroke="#888888" stroke-width="2.8" stroke-linecap="round"/><line x1="936.7" y1="397.3" x2="1003.4" y2="392.1" stroke="#bcbcbc" stroke-width="1.9" stroke-linecap="round"/>
<line x1="904.6" y1="452.1" x2="967.8" y2="529.0" stroke="#888888" stroke-width="3.1" stroke-linecap="round"/><line x1="904.6" y1="451.8" x2="967.8" y2="528.6" stroke="#c2c2c2" stroke-width="2.2" stroke-linecap="round"/>
<line x1="958.5" y1="393.6" x2="1008.6" y2="395.2" stroke="#888888" stroke-width="3.1" stroke-linecap="round"/><line x1="958.5" y1="393.2" x2="1008.6" y2="394.9" stroke="#bcbcbc" stroke-width="2.2" stroke-linecap="round"/>
<line x1="836.7" y1="455.6" x2="929.2" y2="499.9" stroke="#888888" stroke-width="3.0" stroke-linecap="round"/><line x1="836.7" y1="455.2" x2="929.2" y2="499.5" stroke="#bcbcbc" stroke-width="2.1" stroke-linecap="round"/>
<line x1="986.2" y1="427.9" x2="1043.2" y2="452.6" stroke="#888888" stroke-width="3.1" stroke-linecap="round"/><line x1="986.2" y1="427.5" x2="1043.2" y2="452.2" stroke="#c2c2c2" stroke-width="2.2" stroke-linecap="round"/>
<line x1="875.5" y1="403.2" x2="918.2" y2="377.9" stroke="#888888" stroke-width="2.9" stroke-linecap="round"/><line x1="875.5" y1="402.9" x2="918.2" y2="377.6" stroke="#bcbcbc" stroke-width="2.0" stroke-linecap="round"/>
<line x1="950.5" y1="396.7" x2="959.9" y2="444.6" stroke="#888888" stroke-width="2.8" stroke-linecap="round"/><line x1="950.5" y1="396.3" x2="959.9" y2="444.3" stroke="#aeaeae" stroke-width="1.9" stroke-linecap="round"/>
<line x1="892.2" y1="519.9" x2="981.5" y2="475.2" stroke="#888888" stroke-width="3.2" stroke-linecap="round"/><line x1="892.2" y1="519.5" x2="981.5" y2="474.9" stroke="#c2c2c2" stroke-width="2.3" stroke-linecap="round"/>
<line x1="984.5" y1="406.7" x2="1020.4" y2="445.4" stroke="#888888" stroke-width="2.9" stroke-linecap="round"/><line x1="984.5" y1="406.4" x2="1020.4" y2="445.0" stroke="#aeaeae" stroke-width="2.0" stroke-linecap="round"/>
<line x1="867.2" y1="477.8" x2="918.6" y2="472.3" stroke="#888888" stroke-width="3.1" stroke-linecap="round"/><line x1="867.2" y1="477.5" x2="918.6" y2="471.9" stroke="#c2c2c2" stroke-width="2.2" stroke-linecap="round"/>
<line x1="900.6" y1="416.5" x2="933.3" y2="376.3" stroke="#888888" stroke-width="2.8" stroke-linecap="round"/><line x1="900.6" y1="416.1" x2="933.3" y2="376.0" stroke="#b4b4b4" stroke-width="1.9" stroke-linecap="round"/>
<line x1="910.1" y1="526.4" x2="981.1" y2="518.5" stroke="#888888" stroke-width="2.7" stroke-linecap="round"/><line x1="910.1" y1="526.1" x2="981.1" y2="518.2" stroke="#b4b4b4" stroke-width="1.8" stroke-linecap="round"/>
<line x1="929.2" y1="444.8" x2="1002.2" y2="426.7" stroke="#888888" stroke-width="3.0" stroke-linecap="round"/><line x1="929.2" y1="444.5" x2="1002.2" y2="426.3" stroke="#aeaeae" stroke-width="2.1" stroke-linecap="round"/>
<line x1="844.2" y1="512.4" x2="863.0" y2="501.4" stroke="#888888" stroke-width="2.7" stroke-linecap="round"/><line x1="844.2" y1="512.0" x2="863.0" y2="501.0" stroke="#c2c2c2" stroke-width="1.8" stroke-linecap="round"/>
<line x1="835.5" y1="452.9" x2="919.7" y2="433.2" stroke="#888888" stroke-width="2.9" stroke-linecap="round"/><line x1="835.5" y1="452.5" x2="919.7" y2="432.9" stroke="#aeaeae" stroke-width="2.0" stroke-linecap="round"/>
<line x1="991.9" y1="443.4" x2="1042.4" y2="461.7" stroke="#888888" stroke-width="3.2" stroke-linecap="round"/><line x1="991.9" y1="443.0" x2="1042.4" y2="461.4" stroke="#aeaeae" stroke-width="2.3" stroke-linecap="round"/>
<line x1="939.2" y1="414.7" x2="945.8" y2="377.4" stroke="#888888" stroke-width="2.7" stroke-linecap="round"/><line x1="939.2" y1="414.4" x2="945.8" y2="377.0" stroke="#bcbcbc" stroke-width="1.8" stroke-linecap="round"/>
<line x1="841.8" y1="494.8" x2="895.8" y2="492.7" stroke="#888888" stroke-width="2.8" stroke-linecap="round"/><line x1="841.8" y1="494.4" x2="895.8" y2="492.4" stroke="#b4b4b4" stroke-width="1.9" stroke-linecap="round"/>
<line x1="910.4" y1="449.1" x2="999.3" y2="452.4" stroke="#888888" stroke-width="2.8" stroke-linecap="round"/><line x1="910.4" y1="448.8" x2="999.3" y2="452.0" stroke="#aeaeae" stroke-width="1.9" stroke-linecap="round"/>
<line x1="877.2" y1="473.1" x2="971.3" y2="450.6" stroke="#888888" stroke-width="2.8" stroke-linecap="round"/><line x1="877.2" y1="472.7" x2="971.3" y2="450.2" stroke="#c2c2c2" stroke-width="1.9" stroke-linecap="round"/>
<line x1="949.2" y1="437.3" x2="1028.8" y2="418.1" stroke="#888888" stroke-width="3.0" stroke-linecap="round"/><line x1="949.2" y1="437.0" x2="1028.8" y2="417.7" stroke="#aeaeae" stroke-width="2.1" stroke-linecap="round"/>
<line x1="878.3" y1="441.7" x2="967.0" y2="426.2" stroke="#888888" stroke-width="3.1" stroke-linecap="round"/><line x1="878.3" y1="441.3" x2="967.0" y2="425.8" stroke="#c2c2c2" stroke-width="2.2" stroke-linecap="round"/>
<line x1="962.9" y1="465.6" x2="1045.1" y2="438.8" stroke="#969696" stroke-width="3.3" stroke-linecap="round"/><line x1="962.9" y1="465.3" x2="1045.1" y2="438.4" stroke="#d2d2d2" stroke-width="2.4" stroke-linecap="round"/>
<line x1="936.7" y1="531.8" x2="991.8" y2="533.7" stroke="#969696" stroke-width="2.9" stroke-linecap="round"/><line x1="936.7" y1="531.4" x2="991.8" y2="533.4" stroke="#dedede" stroke-width="2.0" stroke-linecap="round"/>
<line x1="977.3" y1="515.5" x2="1026.9" y2="514.5" stroke="#969696" stroke-width="3.1" stroke-linecap="round"/><line x1="977.3" y1="515.2" x2="1026.9" y2="514.2" stroke="#d8d8d8" stroke-width="2.2" stroke-linecap="round"/>
<line x1="867.7" y1="408.1" x2="983.6" y2="382.9" stroke="#969696" stroke-width="3.4" stroke-linecap="round"/><line x1="867.7" y1="407.7" x2="983.6" y2="382.6" stroke="#cccccc" stroke-width="2.5" stroke-linecap="round"/>
<line x1="990.0" y1="391.9" x2="1024.2" y2="403.2" stroke="#969696" stroke-width="3.0" stroke-linecap="round"/><line x1="990.0" y1="391.5" x2="1024.2" y2="402.8" stroke="#d8d8d8" stroke-width="2.1" stroke-linecap="round"/>
<line x1="863.4" y1="506.9" x2="951.4" y2="489.5" stroke="#969696" stroke-width="3.4" stroke-linecap="round"/><line x1="863.4" y1="506.6" x2="951.4" y2="489.2" stroke="#c6c6c6" stroke-width="2.5" stroke-linecap="round"/>
<line x1="855.7" y1="504.2" x2="986.5" y2="455.6" stroke="#969696" stroke-width="2.9" stroke-linecap="round"/><line x1="855.7" y1="503.8" x2="986.5" y2="455.2" stroke="#c6c6c6" stroke-width="2.0" stroke-linecap="round"/>
<line x1="937.6" y1="420.5" x2="980.0" y2="391.2" stroke="#969696" stroke-width="3.0" stroke-linecap="round"/><line x1="937.6" y1="420.1" x2="980.0" y2="390.8" stroke="#dedede" stroke-width="2.1" stroke-linecap="round"/>
<line x1="844.0" y1="494.5" x2="875.3" y2="449.5" stroke="#969696" stroke-width="3.2" stroke-linecap="round"/><line x1="844.0" y1="494.2" x2="875.3" y2="449.1" stroke="#c6c6c6" stroke-width="2.3" stroke-linecap="round"/>
<line x1="883.0" y1="513.5" x2="1014.8" y2="443.2" stroke="#969696" stroke-width="3.2" stroke-linecap="round"/><line x1="883.0" y1="513.2" x2="1014.8" y2="442.9" stroke="#d8d8d8" stroke-width="2.3" stroke-linecap="round"/>
<line x1="889.2" y1="497.2" x2="1004.0" y2="528.9" stroke="#969696" stroke-width="3.0" stroke-linecap="round"/><line x1="889.2" y1="496.8" x2="1004.0" y2="528.6" stroke="#d2d2d2" stroke-width="2.1" stroke-linecap="round"/>
<line x1="836.8" y1="498.3" x2="855.1" y2="482.1" stroke="#969696" stroke-width="2.9" stroke-linecap="round"/><line x1="836.8" y1="498.0" x2="855.1" y2="481.7" stroke="#c6c6c6" stroke-width="2.0" stroke-linecap="round"/>
<line x1="861.8" y1="402.0" x2="915.7" y2="451.4" stroke="#969696" stroke-width="3.4" stroke-linecap="round"/><line x1="861.8" y1="401.7" x2="915.7" y2="451.1" stroke="#c6c6c6" stroke-width="2.5" stroke-linecap="round"/>
<line x1="949.1" y1="408.1" x2="1038.8" y2="426.1" stroke="#969696" stroke-width="3.3" stroke-linecap="round"/><line x1="949.1" y1="407.8" x2="1038.8" y2="425.8" stroke="#cccccc" stroke-width="2.4" stroke-linecap="round"/>
<line x1="866.9" y1="392.7" x2="961.7" y2="402.1" stroke="#969696" stroke-width="3.2" stroke-linecap="round"/><line x1="866.9" y1="392.3" x2="961.7" y2="401.8" stroke="#dedede" stroke-width="2.3" stroke-linecap="round"/>
<line x1="965.2" y1="446.4" x2="974.2" y2="377.9" stroke="#969696" stroke-width="3.3" stroke-linecap="round"/><line x1="965.2" y1="446.1" x2="974.2" y2="377.6" stroke="#d8d8d8" stroke-width="2.4" stroke-linecap="round"/>
<line x1="974.8" y1="466.3" x2="990.4" y2="522.9" stroke="#969696" stroke-width="3.1" stroke-linecap="round"/><line x1="974.8" y1="466.0" x2="990.4" y2="522.6" stroke="#d8d8d8" stroke-width="2.2" stroke-linecap="round"/>
<line x1="935.6" y1="444.0" x2="1039.6" y2="436.3" stroke="#969696" stroke-width="3.2" stroke-linecap="round"/><line x1="935.6" y1="443.7" x2="1039.6" y2="436.0" stroke="#c6c6c6" stroke-width="2.3" stroke-linecap="round"/>
<line x1="890.8" y1="528.5" x2="963.8" y2="440.0" stroke="#969696" stroke-width="3.3" stroke-linecap="round"/><line x1="890.8" y1="528.1" x2="963.8" y2="439.6" stroke="#cccccc" stroke-width="2.4" stroke-linecap="round"/>
<line x1="890.9" y1="418.5" x2="976.1" y2="440.5" stroke="#969696" stroke-width="3.4" stroke-linecap="round"/><line x1="890.9" y1="418.2" x2="976.1" y2="440.2" stroke="#d8d8d8" stroke-width="2.5" stroke-linecap="round"/>
<line x1="1010.0" y1="484.8" x2="1013.0" y2="525.1" stroke="#969696" stroke-width="3.2" stroke-linecap="round"/><line x1="1010.0" y1="484.4" x2="1013.0" y2="524.8" stroke="#d2d2d2" stroke-width="2.3" stroke-linecap="round"/>
<line x1="959.0" y1="489.1" x2="991.2" y2="532.5" stroke="#969696" stroke-width="3.0" stroke-linecap="round"/><line x1="959.0" y1="488.7" x2="991.2" y2="532.2" stroke="#cccccc" stroke-width="2.1" stroke-linecap="round"/>
<line x1="953.1" y1="440.4" x2="966.3" y2="495.4" stroke="#969696" stroke-width="3.0" stroke-linecap="round"/><line x1="953.1" y1="440.0" x2="966.3" y2="495.0" stroke="#c6c6c6" stroke-width="2.1" stroke-linecap="round"/>
<line x1="951.5" y1="427.8" x2="1041.7" y2="438.6" stroke="#969696" stroke-width="3.4" stroke-linecap="round"/><line x1="951.5" y1="427.4" x2="1041.7" y2="438.2" stroke="#d8d8d8" stroke-width="2.5" stroke-linecap="round"/>
<line x1="832.7" y1="469.9" x2="894.4" y2="496.5" stroke="#969696" stroke-width="3.0" stroke-linecap="round"/><line x1="832.7" y1="469.5" x2="894.4" y2="496.2" stroke="#c6c6c6" stroke-width="2.1" stroke-linecap="round"/>
<line x1="997.0" y1="469.4" x2="1039.5" y2="493.8" stroke="#969696" stroke-width="3.3" stroke-linecap="round"/><line x1="997.0" y1="469.0" x2="1039.5" y2="493.4" stroke="#dedede" stroke-width="2.4" stroke-linecap="round"/>
<line x1="882.7" y1="455.0" x2="965.6" y2="426.8" stroke="#969696" stroke-width="3.4" stroke-linecap="round"/><line x1="882.7" y1="454.6" x2="965.6" y2="426.4" stroke="#d8d8d8" stroke-width="2.5" stroke-linecap="round"/>
<line x1="878.0" y1="504.8" x2="942.5" y2="461.9" stroke="#969696" stroke-width="3.0" stroke-linecap="round"/><line x1="878.0" y1="504.5" x2="942.5" y2="461.6" stroke="#d2d2d2" stroke-width="2.1" stroke-linecap="round"/>
<line x1="844.5" y1="424.7" x2="943.3" y2="469.2" stroke="#969696" stroke-width="3.0" stroke-linecap="round"/><line x1="844.5" y1="424.4" x2="943.3" y2="468.8" stroke="#dedede" stroke-width="2.1" stroke-linecap="round"/>
<line x1="835.9" y1="446.4" x2="900.8" y2="471.5" stroke="#969696" stroke-width="3.4" stroke-linecap="round"/><line x1="835.9" y1="446.0" x2="900.8" y2="471.1" stroke="#d8d8d8" stroke-width="2.5" stroke-linecap="round"/>
<line x1="929.4" y1="459.4" x2="1004.6" y2="460.4" stroke="#969696" stroke-width="2.9" stroke-linecap="round"/><line x1="929.4" y1="459.1" x2="1004.6" y2="460.1" stroke="#dedede" stroke-width="2.0" stroke-linecap="round"/>
<line x1="851.1" y1="482.6" x2="923.2" y2="459.9" stroke="#969696" stroke-width="3.1" stroke-linecap="round"/><line x1="851.1" y1="482.2" x2="923.2" y2="459.5" stroke="#d8d8d8" stroke-width="2.2" stroke-linecap="round"/>
<line x1="854.5" y1="409.2" x2="922.2" y2="481.9" stroke="#969696" stroke-width="3.1" stroke-linecap="round"/><line x1="854.5" y1="408.9" x2="922.2" y2="481.6" stroke="#d8d8d8" stroke-width="2.2" stroke-linecap="round"/>
<line x1="993.2" y1="517.9" x2="1010.4" y2="535.4" stroke="#969696" stroke-width="3.0" stroke-linecap="round"/><line x1="993.2" y1="517.5" x2="1010.4" y2="535.1" stroke="#dedede" stroke-width="2.1" stroke-linecap="round"/>
<line x1="895.7" y1="496.8" x2="953.9" y2="451.3" stroke="#969696" stroke-width="3.4" stroke-linecap="round"/><line x1="895.7" y1="496.4" x2="953.9" y2="451.0" stroke="#d2d2d2" stroke-width="2.5" stroke-linecap="round"/>
<line x1="991.1" y1="457.3" x2="1043.7" y2="481.7" stroke="#969696" stroke-width="3.1" stroke-linecap="round"/><line x1="991.1" y1="456.9" x2="1043.7" y2="481.3" stroke="#c6c6c6" stroke-width="2.2" stroke-linecap="round"/>
<line x1="857.4" y1="425.0" x2="998.6" y2="451.1" stroke="#969696" stroke-width="3.2" stroke-linecap="round"/><line x1="857.4" y1="424.7" x2="998.6" y2="450.7" stroke="#dedede" stroke-width="2.3" stroke-linecap="round"/>
<line x1="940.2" y1="478.6" x2="1002.7" y2="531.4" stroke="#969696" stroke-width="2.9" stroke-linecap="round"/><line x1="940.2" y1="478.3" x2="1002.7" y2="531.0" stroke="#d8d8d8" stroke-width="2.0" stroke-linecap="round"/>
<line x1="895.9" y1="381.1" x2="939.0" y2="408.3" stroke="#969696" stroke-width="3.3" stroke-linecap="round"/><line x1="895.9" y1="380.8" x2="939.0" y2="408.0" stroke="#d8d8d8" stroke-width="2.4" stroke-linecap="round"/>
<line x1="880.5" y1="424.9" x2="881.8" y2="386.4" stroke="#969696" stroke-width="3.2" stroke-linecap="round"/><line x1="880.5" y1="424.6" x2="881.8" y2="386.0" stroke="#dedede" stroke-width="2.3" stroke-linecap="round"/>
<line x1="890.6" y1="401.7" x2="939.9" y2="496.8" stroke="#969696" stroke-width="3.3" stroke-linecap="round"/><line x1="890.6" y1="401.4" x2="939.9" y2="496.5" stroke="#dedede" stroke-width="2.4" stroke-linecap="round"/>
<line x1="1013.3" y1="417.9" x2="1019.8" y2="398.5" stroke="#969696" stroke-width="3.1" stroke-linecap="round"/><line x1="1013.3" y1="417.6" x2="1019.8" y2="398.2" stroke="#d8d8d8" stroke-width="2.2" stroke-linecap="round"/>
<line x1="994.2" y1="454.6" x2="1045.5" y2="474.4" stroke="#969696" stroke-width="3.2" stroke-linecap="round"/><line x1="994.2" y1="454.2" x2="1045.5" y2="474.0" stroke="#dedede" stroke-width="2.3" stroke-linecap="round"/>
<line x1="844.9" y1="418.9" x2="876.8" y2="461.8" stroke="#969696" stroke-width="3.3" stroke-linecap="round"/><line x1="844.9" y1="418.6" x2="876.8" y2="461.5" stroke="#d8d8d8" stroke-width="2.4" stroke-linecap="round"/>
<line x1="894.2" y1="480.2" x2="1002.9" y2="438.6" stroke="#969696" stroke-width="3.0" stroke-linecap="round"/><line x1="894.2" y1="479.8" x2="1002.9" y2="438.2" stroke="#cccccc" stroke-width="2.1" stroke-linecap="round"/>
<line x1="869.5" y1="411.6" x2="921.9" y2="465.0" stroke="#969696" stroke-width="2.9" stroke-linecap="round"/><line x1="869.5" y1="411.3" x2="921.9" y2="464.7" stroke="#cccccc" stroke-width="2.0" stroke-linecap="round"/>
<line x1="882.7" y1="471.0" x2="944.6" y2="419.5" stroke="#969696" stroke-width="3.0" stroke-linecap="round"/><line x1="882.7" y1="470.7" x2="944.6" y2="419.2" stroke="#c6c6c6" stroke-width="2.1" stroke-linecap="round"/>
<line x1="846.0" y1="424.4" x2="871.9" y2="389.4" stroke="#969696" stroke-width="3.4" stroke-linecap="round"/><line x1="846.0" y1="424.0" x2="871.9" y2="389.0" stroke="#c6c6c6" stroke-width="2.5" stroke-linecap="round"/>
<line x1="891.0" y1="505.1" x2="919.4" y2="392.2" stroke="#969696" stroke-width="3.4" stroke-linecap="round"/><line x1="891.0" y1="504.8" x2="919.4" y2="391.9" stroke="#d8d8d8" stroke-width="2.5" stroke-linecap="round"/>
<line x1="835.8" y1="439.5" x2="920.9" y2="452.0" stroke="#969696" stroke-width="3.4" stroke-linecap="round"/><line x1="835.8" y1="439.2" x2="920.9" y2="451.7" stroke="#cccccc" stroke-width="2.5" stroke-linecap="round"/>
<line x1="887.7" y1="478.8" x2="950.9" y2="509.7" stroke="#969696" stroke-width="3.3" stroke-linecap="round"/><line x1="887.7" y1="478.5" x2="950.9" y2="509.4" stroke="#cccccc" stroke-width="2.4" stroke-linecap="round"/>
<line x1="846.8" y1="509.9" x2="892.4" y2="522.4" stroke="#969696" stroke-width="3.3" stroke-linecap="round"/><line x1="846.8" y1="509.5" x2="892.4" y2="522.1" stroke="#dedede" stroke-width="2.4" stroke-linecap="round"/>
<line x1="953.9" y1="486.3" x2="1023.4" y2="505.4" stroke="#969696" stroke-width="3.4" stroke-linecap="round"/><line x1="953.9" y1="486.0" x2="1023.4" y2="505.0" stroke="#cccccc" stroke-width="2.5" stroke-linecap="round"/>
<line x1="946.6" y1="485.9" x2="1030.4" y2="509.7" stroke="#969696" stroke-width="3.2" stroke-linecap="round"/><line x1="946.6" y1="485.5" x2="1030.4" y2="509.3" stroke="#d2d2d2" stroke-width="2.3" stroke-linecap="round"/>
<line x1="963.4" y1="484.3" x2="1011.4" y2="433.1" stroke="#969696" stroke-width="3.3" stroke-linecap="round"/><line x1="963.4" y1="484.0" x2="1011.4" y2="432.8" stroke="#cccccc" stroke-width="2.4" stroke-linecap="round"/>
<line x1="855.1" y1="517.0" x2="903.3" y2="507.0" stroke="#969696" stroke-width="3.3" stroke-linecap="round"/><line x1="855.1" y1="516.7" x2="903.3" y2="506.7" stroke="#dedede" stroke-width="2.4" stroke-linecap="round"/>
<line x1="834.4" y1="474.4" x2="896.1" y2="419.6" stroke="#969696" stroke-width="3.1" stroke-linecap="round"/><line x1="834.4" y1="474.0" x2="896.1" y2="419.3" stroke="#d8d8d8" stroke-width="2.2" stroke-linecap="round"/>
<line x1="969.9" y1="494.9" x2="1040.9" y2="486.7" stroke="#969696" stroke-width="3.3" stroke-linecap="round"/><line x1="969.9" y1="494.5" x2="1040.9" y2="486.3" stroke="#dedede" stroke-width="2.4" stroke-linecap="round"/>
<line x1="946.1" y1="431.0" x2="1006.6" y2="390.5" stroke="#969696" stroke-width="3.4" stroke-linecap="round"/><line x1="946.1" y1="430.7" x2="1006.6" y2="390.2" stroke="#d8d8d8" stroke-width="2.5" stroke-linecap="round"/>
<line x1="837.6" y1="439.4" x2="891.0" y2="402.4" stroke="#969696" stroke-width="3.2" stroke-linecap="round"/><line x1="837.6" y1="439.0" x2="891.0" y2="402.1" stroke="#d2d2d2" stroke-width="2.3" stroke-linecap="round"/>
<line x1="853.5" y1="448.9" x2="887.5" y2="407.1" stroke="#969696" stroke-width="3.1" stroke-linecap="round"/><line x1="853.5" y1="448.5" x2="887.5" y2="406.7" stroke="#c6c6c6" stroke-width="2.2" stroke-linecap="round"/>
<line x1="879.6" y1="475.4" x2="935.2" y2="489.6" stroke="#969696" stroke-width="3.0" stroke-linecap="round"/><line x1="879.6" y1="475.0" x2="935.2" y2="489.2" stroke="#d8d8d8" stroke-width="2.1" stroke-linecap="round"/>
<line x1="996.6" y1="513.3" x2="1007.3" y2="529.6" stroke="#969696" stroke-width="3.3" stroke-linecap="round"/><line x1="996.6" y1="512.9" x2="1007.3" y2="529.2" stroke="#d8d8d8" stroke-width="2.4" stroke-linecap="round"/>
<line x1="865.9" y1="464.1" x2="917.3" y2="381.7" stroke="#969696" stroke-width="2.9" stroke-linecap="round"/><line x1="865.9" y1="463.7" x2="917.3" y2="381.4" stroke="#dedede" stroke-width="2.0" stroke-linecap="round"/>
<line x1="954.1" y1="530.6" x2="1043.7" y2="470.5" stroke="#969696" stroke-width="3.3" stroke-linecap="round"/><line x1="954.1" y1="530.2" x2="1043.7" y2="470.2" stroke="#cccccc" stroke-width="2.4" stroke-linecap="round"/>
<line x1="863.4" y1="468.5" x2="928.6" y2="470.4" stroke="#969696" stroke-width="3.2" stroke-linecap="round"/><line x1="863.4" y1="468.2" x2="928.6" y2="470.0" stroke="#d2d2d2" stroke-width="2.3" stroke-linecap="round"/>
<line x1="858.0" y1="400.1" x2="934.0" y2="401.7" stroke="#969696" stroke-width="3.0" stroke-linecap="round"/><line x1="858.0" y1="399.7" x2="934.0" y2="401.3" stroke="#dedede" stroke-width="2.1" stroke-linecap="round"/>
<line x1="877.6" y1="392.8" x2="927.4" y2="473.5" stroke="#969696" stroke-width="3.3" stroke-linecap="round"/><line x1="877.6" y1="392.5" x2="927.4" y2="473.1" stroke="#d8d8d8" stroke-width="2.4" stroke-linecap="round"/>
<line x1="908.4" y1="536.5" x2="951.8" y2="458.4" stroke="#969696" stroke-width="3.0" stroke-linecap="round"/><line x1="908.4" y1="536.2" x2="951.8" y2="458.1" stroke="#d2d2d2" stroke-width="2.1" stroke-linecap="round"/>
<line x1="929.4" y1="448.2" x2="985.4" y2="434.6" stroke="#969696" stroke-width="3.2" stroke-linecap="round"/><line x1="929.4" y1="447.8" x2="985.4" y2="434.2" stroke="#d2d2d2" stroke-width="2.3" stroke-linecap="round"/>
<line x1="945.0" y1="532.0" x2="1035.2" y2="458.7" stroke="#969696" stroke-width="3.4" stroke-linecap="round"/><line x1="945.0" y1="531.7" x2="1035.2" y2="458.3" stroke="#d8d8d8" stroke-width="2.5" stroke-linecap="round"/>
<line x1="949.6" y1="536.5" x2="994.1" y2="488.7" stroke="#969696" stroke-width="3.4" stroke-linecap="round"/><line x1="949.6" y1="536.1" x2="994.1" y2="488.3" stroke="#dedede" stroke-width="2.5" stroke-linecap="round"/>
<line x1="857.0" y1="444.6" x2="922.0" y2="481.2" stroke="#969696" stroke-width="3.2" stroke-linecap="round"/><line x1="857.0" y1="444.2" x2="922.0" y2="480.9" stroke="#d2d2d2" stroke-width="2.3" stroke-linecap="round"/>
<line x1="933.5" y1="380.5" x2="976.6" y2="377.6" stroke="#969696" stroke-width="3.2" stroke-linecap="round"/><line x1="933.5" y1="380.2" x2="976.6" y2="377.3" stroke="#dedede" stroke-width="2.3" stroke-linecap="round"/>
<line x1="993.8" y1="432.4" x2="985.9" y2="491.3" stroke="#969696" stroke-width="3.3" stroke-linecap="round"/><line x1="993.8" y1="432.0" x2="985.9" y2="491.0" stroke="#d8d8d8" stroke-width="2.4" stroke-linecap="round"/>
<line x1="977.6" y1="534.4" x2="1030.8" y2="445.2" stroke="#969696" stroke-width="3.2" stroke-linecap="round"/><line x1="977.6" y1="534.1" x2="1030.8" y2="444.9" stroke="#c6c6c6" stroke-width="2.3" stroke-linecap="round"/>
<line x1="960.2" y1="375.7" x2="974.5" y2="405.1" stroke="#969696" stroke-width="3.0" stroke-linecap="round"/><line x1="960.2" y1="375.3" x2="974.5" y2="404.8" stroke="#c6c6c6" stroke-width="2.1" stroke-linecap="round"/>
<line x1="925.0" y1="406.1" x2="1027.1" y2="411.1" stroke="#969696" stroke-width="3.4" stroke-linecap="round"/><line x1="925.0" y1="405.7" x2="1027.1" y2="410.7" stroke="#d2d2d2" stroke-width="2.5" stroke-linecap="round"/>
<line x1="900.4" y1="378.6" x2="908.0" y2="398.4" stroke="#969696" stroke-width="2.9" stroke-linecap="round"/><line x1="900.4" y1="378.2" x2="908.0" y2="398.1" stroke="#d8d8d8" stroke-width="2.0" stroke-linecap="round"/>
<line x1="856.2" y1="403.2" x2="880.7" y2="442.8" stroke="#969696" stroke-width="3.4" stroke-linecap="round"/><line x1="856.2" y1="402.9" x2="880.7" y2="442.5" stroke="#c6c6c6" stroke-width="2.5" stroke-linecap="round"/>
<line x1="884.8" y1="518.3" x2="914.9" y2="538.6" stroke="#969696" stroke-width="3.1" stroke-linecap="round"/><line x1="884.8" y1="518.0" x2="914.9" y2="538.3" stroke="#cccccc" stroke-width="2.2" stroke-linecap="round"/>
<line x1="993.8" y1="401.2" x2="1013.2" y2="392.5" stroke="#969696" stroke-width="2.9" stroke-linecap="round"/><line x1="993.8" y1="400.9" x2="1013.2" y2="392.2" stroke="#c6c6c6" stroke-width="2.0" stroke-linecap="round"/>
<line x1="980.6" y1="532.4" x2="981.3" y2="449.6" stroke="#969696" stroke-width="3.0" stroke-linecap="round"/><line x1="980.6" y1="532.1" x2="981.3" y2="449.3" stroke="#d8d8d8" stroke-width="2.1" stroke-linecap="round"/>
<line x1="838.8" y1="424.2" x2="982.0" y2="458.0" stroke="#969696" stroke-width="3.2" stroke-linecap="round"/><line x1="838.8" y1="423.9" x2="982.0" y2="457.6" stroke="#dedede" stroke-width="2.3" stroke-linecap="round"/>
<line x1="946.1" y1="538.1" x2="970.3" y2="475.8" stroke="#969696" stroke-width="3.1" stroke-linecap="round"/><line x1="946.1" y1="537.7" x2="970.3" y2="475.5" stroke="#d2d2d2" stroke-width="2.2" stroke-linecap="round"/>
<line x1="933.0" y1="428.2" x2="1032.2" y2="417.6" stroke="#969696" stroke-width="2.9" stroke-linecap="round"/><line x1="933.0" y1="427.8" x2="1032.2" y2="417.3" stroke="#c6c6c6" stroke-width="2.0" stroke-linecap="round"/>
<line x1="964.5" y1="413.8" x2="994.7" y2="385.5" stroke="#969696" stroke-width="3.2" stroke-linecap="round"/><line x1="964.5" y1="413.5" x2="994.7" y2="385.2" stroke="#dedede" stroke-width="2.3" stroke-linecap="round"/>
<line x1="955.1" y1="441.3" x2="1034.1" y2="502.1" stroke="#969696" stroke-width="3.3" stroke-linecap="round"/><line x1="955.1" y1="441.0" x2="1034.1" y2="501.8" stroke="#c6c6c6" stroke-width="2.4" stroke-linecap="round"/>
<line x1="979.7" y1="489.9" x2="1033.3" y2="506.3" stroke="#969696" stroke-width="3.2" stroke-linecap="round"/><line x1="979.7" y1="489.6" x2="1033.3" y2="506.0" stroke="#cccccc" stroke-width="2.3" stroke-linecap="round"/>
<line x1="1000.3" y1="478.9" x2="1045.8" y2="458.3" stroke="#969696" stroke-width="2.9" stroke-linecap="round"/><line x1="1000.3" y1="478.5" x2="1045.8" y2="458.0" stroke="#dedede" stroke-width="2.0" stroke-linecap="round"/>
<line x1="903.0" y1="524.1" x2="923.8" y2="538.4" stroke="#969696" stroke-width="3.0" stroke-linecap="round"/><line x1="903.0" y1="523.8" x2="923.8" y2="538.1" stroke="#d2d2d2" stroke-width="2.1" stroke-linecap="round"/>
<line x1="975.3" y1="463.3" x2="1033.1" y2="503.5" stroke="#969696" stroke-width="3.4" stroke-linecap="round"/><line x1="975.3" y1="463.0" x2="1033.1" y2="503.2" stroke="#d8d8d8" stroke-width="2.5" stroke-linecap="round"/>
<line x1="946.8" y1="538.9" x2="978.9" y2="524.7" stroke="#969696" stroke-width="3.2" stroke-linecap="round"/><line x1="946.8" y1="538.5" x2="978.9" y2="524.3" stroke="#c6c6c6" stroke-width="2.3" stroke-linecap="round"/>
<line x1="874.7" y1="438.1" x2="966.0" y2="406.5" stroke="#969696" stroke-width="3.2" stroke-linecap="round"/><line x1="874.7" y1="437.8" x2="966.0" y2="406.2" stroke="#d2d2d2" stroke-width="2.3" stroke-linecap="round"/>
<line x1="1006.3" y1="424.3" x2="1045.1" y2="456.6" stroke="#969696" stroke-width="3.0" stroke-linecap="round"/><line x1="1006.3" y1="423.9" x2="1045.1" y2="456.3" stroke="#d2d2d2" stroke-width="2.1" stroke-linecap="round"/>
<line x1="857.1" y1="513.6" x2="898.1" y2="441.1" stroke="#969696" stroke-width="3.2" stroke-linecap="round"/><line x1="857.1" y1="513.2" x2="898.1" y2="440.8" stroke="#c6c6c6" stroke-width="2.3" stroke-linecap="round"/>
<line x1="890.4" y1="479.7" x2="924.3" y2="538.4" stroke="#969696" stroke-width="3.0" stroke-linecap="round"/><line x1="890.4" y1="479.3" x2="924.3" y2="538.1" stroke="#cccccc" stroke-width="2.1" stroke-linecap="round"/>
<line x1="872.0" y1="394.2" x2="923.8" y2="456.9" stroke="#969696" stroke-width="2.9" stroke-linecap="round"/><line x1="872.0" y1="393.8" x2="923.8" y2="456.5" stroke="#d2d2d2" stroke-width="2.0" stroke-linecap="round"/>
<line x1="835.4" y1="433.8" x2="870.2" y2="392.8" stroke="#969696" stroke-width="3.0" stroke-linecap="round"/><line x1="835.4" y1="433.4" x2="870.2" y2="392.5" stroke="#c6c6c6" stroke-width="2.1" stroke-linecap="round"/>
<line x1="972.9" y1="444.7" x2="1011.2" y2="526.5" stroke="#969696" stroke-width="2.9" stroke-linecap="round"/><line x1="972.9" y1="444.4" x2="1011.2" y2="526.1" stroke="#d8d8d8" stroke-width="2.0" stroke-linecap="round"/>
<line x1="841.1" y1="500.6" x2="878.3" y2="496.5" stroke="#969696" stroke-width="3.3" stroke-linecap="round"/><line x1="841.1" y1="500.3" x2="878.3" y2="496.1" stroke="#d8d8d8" stroke-width="2.4" stroke-linecap="round"/>
<line x1="882.8" y1="431.3" x2="1003.5" y2="424.0" stroke="#969696" stroke-width="2.9" stroke-linecap="round"/><line x1="882.8" y1="430.9" x2="1003.5" y2="423.7" stroke="#c6c6c6" stroke-width="2.0" stroke-linecap="round"/>
<line x1="972.6" y1="524.0" x2="989.4" y2="535.1" stroke="#969696" stroke-width="3.2" stroke-linecap="round"/><line x1="972.6" y1="523.7" x2="989.4" y2="534.7" stroke="#dedede" stroke-width="2.3" stroke-linecap="round"/>
<line x1="904.7" y1="458.2" x2="1043.3" y2="451.6" stroke="#969696" stroke-width="3.1" stroke-linecap="round"/><line x1="904.7" y1="457.8" x2="1043.3" y2="451.2" stroke="#c6c6c6" stroke-width="2.2" stroke-linecap="round"/>
<line x1="835.7" y1="437.9" x2="876.7" y2="432.8" stroke="#969696" stroke-width="3.3" stroke-linecap="round"/><line x1="835.7" y1="437.6" x2="876.7" y2="432.5" stroke="#cccccc" stroke-width="2.4" stroke-linecap="round"/>
<polyline points="883.00,450.50 885.41,451.81 887.83,452.93 890.24,453.68 892.66,453.95 895.08,453.70 897.51,452.97 899.93,451.88 902.36,450.59 904.79,449.30 907.21,448.21 909.64,447.49 912.06,447.24 914.48,447.51 916.89,448.26 919.31,449.37 921.72,450.69 924.13,452.00 926.55,453.11 928.96,453.86 931.38,454.13 933.80,453.89 936.23,453.16 938.65,452.07 941.08,450.78 943.51,449.49 945.93,448.40 948.36,447.67 950.78,447.43 953.20,447.70 955.61,448.44 958.03,449.56 960.44,450.87 962.85,452.19 965.27,453.30 967.68,454.05 970.10,454.32 972.52,454.07 974.95,452.66 977.38,451.42 979.80,450.97" fill="none" stroke="#a7bf3f" stroke-width="4.2" stroke-linecap="round" stroke-linejoin="round"/>
<polygon points="987.00,451.00 977.97,456.36 978.03,445.56" fill="#a7bf3f" stroke="none" stroke-width="0" />
<polyline points="883.00,470.50 885.41,471.81 887.83,472.93 890.24,473.68 892.66,473.95 895.08,473.70 897.51,472.97 899.93,471.88 902.36,470.59 904.79,469.30 907.21,468.21 909.64,467.49 912.06,467.24 914.48,467.51 916.89,468.26 919.31,469.37 921.72,470.69 924.13,472.00 926.55,473.11 928.96,473.86 931.38,474.13 933.80,473.89 936.23,473.16 938.65,472.07 941.08,470.78 943.51,469.49 945.93,468.40 948.36,467.67 950.78,467.43 953.20,467.70 955.61,468.44 958.03,469.56 960.44,470.87 962.85,472.19 965.27,473.30 967.68,474.05 970.10,474.32 972.52,474.07 974.95,472.66 977.38,471.42 979.80,470.97" fill="none" stroke="#a7bf3f" stroke-width="4.2" stroke-linecap="round" stroke-linejoin="round"/>
<polygon points="987.00,471.00 977.97,476.36 978.03,465.56" fill="#a7bf3f" stroke="none" stroke-width="0" />
<line x1="858.9" y1="514.3" x2="886.5" y2="477.0" stroke="#969696" stroke-width="3.2" stroke-linecap="round"/><line x1="858.9" y1="513.9" x2="886.5" y2="476.7" stroke="#d2d2d2" stroke-width="2.3" stroke-linecap="round"/>
<line x1="974.6" y1="461.5" x2="1003.3" y2="524.2" stroke="#969696" stroke-width="3.3" stroke-linecap="round"/><line x1="974.6" y1="461.2" x2="1003.3" y2="523.9" stroke="#d8d8d8" stroke-width="2.4" stroke-linecap="round"/>
<line x1="860.8" y1="406.8" x2="876.3" y2="456.6" stroke="#969696" stroke-width="2.8" stroke-linecap="round"/><line x1="860.8" y1="406.5" x2="876.3" y2="456.2" stroke="#c6c6c6" stroke-width="1.9" stroke-linecap="round"/>
<line x1="974.3" y1="487.4" x2="1027.8" y2="415.0" stroke="#969696" stroke-width="3.3" stroke-linecap="round"/><line x1="974.3" y1="487.0" x2="1027.8" y2="414.6" stroke="#c6c6c6" stroke-width="2.4" stroke-linecap="round"/>
<line x1="914.6" y1="523.9" x2="937.6" y2="466.2" stroke="#969696" stroke-width="3.3" stroke-linecap="round"/><line x1="914.6" y1="523.5" x2="937.6" y2="465.9" stroke="#cccccc" stroke-width="2.4" stroke-linecap="round"/>
<line x1="928.1" y1="383.7" x2="989.5" y2="487.7" stroke="#969696" stroke-width="2.8" stroke-linecap="round"/><line x1="928.1" y1="383.3" x2="989.5" y2="487.3" stroke="#d8d8d8" stroke-width="1.9" stroke-linecap="round"/>
<line x1="884.4" y1="437.0" x2="976.4" y2="503.7" stroke="#969696" stroke-width="3.2" stroke-linecap="round"/><line x1="884.4" y1="436.7" x2="976.4" y2="503.3" stroke="#d2d2d2" stroke-width="2.3" stroke-linecap="round"/>
<line x1="890.1" y1="471.7" x2="976.9" y2="406.7" stroke="#969696" stroke-width="2.8" stroke-linecap="round"/><line x1="890.1" y1="471.4" x2="976.9" y2="406.4" stroke="#c6c6c6" stroke-width="1.9" stroke-linecap="round"/>
<line x1="962.4" y1="505.7" x2="1002.1" y2="396.8" stroke="#969696" stroke-width="3.2" stroke-linecap="round"/><line x1="962.4" y1="505.4" x2="1002.1" y2="396.4" stroke="#c6c6c6" stroke-width="2.3" stroke-linecap="round"/>
<line x1="847.9" y1="424.8" x2="912.8" y2="451.1" stroke="#969696" stroke-width="3.0" stroke-linecap="round"/><line x1="847.9" y1="424.4" x2="912.8" y2="450.7" stroke="#cccccc" stroke-width="2.1" stroke-linecap="round"/>
<line x1="878.7" y1="526.5" x2="877.9" y2="443.3" stroke="#969696" stroke-width="3.1" stroke-linecap="round"/><line x1="878.7" y1="526.1" x2="877.9" y2="442.9" stroke="#c6c6c6" stroke-width="2.2" stroke-linecap="round"/>
<line x1="849.8" y1="415.8" x2="881.8" y2="500.2" stroke="#969696" stroke-width="3.3" stroke-linecap="round"/><line x1="849.8" y1="415.5" x2="881.8" y2="499.9" stroke="#d8d8d8" stroke-width="2.4" stroke-linecap="round"/>
<line x1="942.2" y1="494.1" x2="1022.4" y2="451.1" stroke="#969696" stroke-width="3.0" stroke-linecap="round"/><line x1="942.2" y1="493.7" x2="1022.4" y2="450.7" stroke="#d2d2d2" stroke-width="2.1" stroke-linecap="round"/>
<rect x="872" y="433" width="116.5" height="57.5" fill="none" stroke="#e0415a" stroke-width="2" stroke-dasharray="5 2.4"/>
<polyline points="800.40,327.40 799.58,329.09 798.96,330.66 798.72,332.00 798.98,333.05 799.77,333.79 801.06,334.23 802.74,334.45 804.61,334.54 806.49,334.64 808.16,334.86 809.46,335.30 810.25,336.03 810.51,337.09 810.27,338.43 809.65,340.00 808.83,341.69 808.00,343.38 807.38,344.95 807.14,346.29 807.40,347.34 808.20,348.08 809.49,348.52 811.16,348.74 813.04,348.83 814.92,348.93 816.59,349.15 817.88,349.59 818.68,350.32 818.94,351.37 818.70,352.72 818.08,354.29 817.25,355.98 816.43,357.67 815.81,359.24 815.57,360.58 815.83,361.63 816.62,362.37 817.92,362.81 819.59,363.03 821.47,363.12 823.35,363.22 825.02,363.43 826.31,363.88 827.11,364.61 827.36,365.66 827.12,367.01 826.51,368.58 825.68,370.27 824.86,371.96 824.24,373.52 824.00,374.87 824.26,375.92 825.05,376.66 826.34,377.10 828.02,377.31 829.89,377.41 831.77,377.51 833.45,377.72 834.74,378.16 835.53,378.90 835.79,379.95 835.55,381.30 834.93,382.86 834.11,384.55 833.28,386.24 832.66,387.81 832.43,389.16 832.68,390.21 833.48,390.94 834.77,391.39 836.44,391.60 838.32,391.70 840.20,391.79 841.87,392.01 843.16,392.45 843.96,393.19 844.22,394.24 843.98,395.58 843.36,397.15 842.54,398.84 841.71,400.53 841.16,402.06 841.47,403.08 842.35,403.77 843.58,404.25 844.88,404.68 846.00,405.22 846.75,405.99" fill="none" stroke="#e2581f" stroke-width="3.2" stroke-linecap="round" stroke-linejoin="round"/>
<polygon points="850.00,411.50 841.80,407.05 850.07,402.17" fill="#e2581f" stroke="none" stroke-width="0" />
<polyline points="832.00,311.00 831.20,312.71 830.61,314.29 830.39,315.64 830.66,316.70 831.47,317.43 832.77,317.86 834.45,318.06 836.33,318.14 838.22,318.22 839.90,318.42 841.20,318.85 842.01,319.58 842.28,320.64 842.06,321.99 841.47,323.57 840.67,325.28 839.87,326.98 839.27,328.57 839.06,329.92 839.33,330.98 840.14,331.71 841.44,332.14 843.12,332.34 845.00,332.42 846.89,332.50 848.56,332.70 849.87,333.13 850.68,333.86 850.95,334.91 850.73,336.27 850.14,337.85 849.34,339.56 848.54,341.26 847.94,342.85 847.73,344.20 848.00,345.25 848.81,345.98 850.11,346.41 851.79,346.62 853.67,346.70 855.56,346.77 857.23,346.98 858.54,347.41 859.34,348.14 859.62,349.19 859.40,350.54 858.81,352.13 858.01,353.83 857.21,355.54 856.61,357.12 856.39,358.48 856.67,359.53 857.48,360.26 858.78,360.69 860.46,360.90 862.34,360.97 864.22,361.05 865.90,361.25 867.20,361.68 868.01,362.41 868.29,363.47 868.07,364.82 867.47,366.41 866.68,368.11 865.88,369.82 865.28,371.40 865.06,372.76 865.34,373.81 866.15,374.54 867.45,374.97 869.13,375.17 871.01,375.25 872.89,375.33 874.57,375.53 875.87,375.96 876.68,376.69 876.96,377.75 876.74,379.10 876.14,380.68 875.34,382.39 874.54,384.10 874.01,385.64 874.34,386.66 875.24,387.34 876.48,387.81 877.79,388.23 878.92,388.77 879.68,389.53" fill="none" stroke="#e2581f" stroke-width="3.2" stroke-linecap="round" stroke-linejoin="round"/>
<polygon points="883.00,395.00 874.75,390.65 882.95,385.67" fill="#e2581f" stroke="none" stroke-width="0" />
<polyline points="865.00,302.00 864.23,303.72 863.66,305.32 863.46,306.69 863.76,307.74 864.58,308.47 865.89,308.89 867.58,309.08 869.46,309.14 871.35,309.20 873.04,309.39 874.35,309.81 875.17,310.54 875.47,311.60 875.27,312.96 874.70,314.56 873.93,316.29 873.16,318.01 872.59,319.61 872.39,320.97 872.68,322.03 873.51,322.76 874.82,323.18 876.50,323.37 878.39,323.43 880.28,323.49 881.97,323.68 883.28,324.10 884.10,324.83 884.40,325.89 884.20,327.25 883.63,328.85 882.86,330.57 882.08,332.30 881.52,333.89 881.32,335.26 881.61,336.32 882.44,337.04 883.75,337.47 885.43,337.65 887.32,337.71 889.21,337.78 890.90,337.96 892.21,338.39 893.03,339.11 893.32,340.17 893.13,341.54 892.56,343.13 891.79,344.86 891.01,346.58 890.44,348.18 890.25,349.54 890.54,350.60 891.36,351.33 892.68,351.75 894.36,351.94 896.25,352.00 898.14,352.06 899.83,352.25 901.14,352.67 901.96,353.40 902.25,354.46 902.06,355.82 901.49,357.42 900.71,359.14 899.94,360.87 899.37,362.47 899.18,363.83 899.47,364.89 900.29,365.62 901.60,366.04 903.29,366.23 905.18,366.29 907.07,366.35 908.75,366.54 910.07,366.96 910.89,367.69 911.18,368.74 910.99,370.11 910.42,371.71 909.64,373.43 908.87,375.15 908.37,376.71 908.71,377.74 909.62,378.41 910.87,378.87 912.19,379.29 913.33,379.81 914.11,380.57" fill="none" stroke="#e2581f" stroke-width="3.2" stroke-linecap="round" stroke-linejoin="round"/>
<polygon points="917.50,386.00 909.19,381.76 917.33,376.67" fill="#e2581f" stroke="none" stroke-width="0" />
<path d="M993.5,391.8 Q1006.5,385.8 1006.7,373" fill="none" stroke="#a6c8ee" stroke-width="2.1" stroke-linecap="round"/>
<polygon points="1007.80,366.00 1004.10,373.00 1007.00,371.80 1010.00,373.50" fill="#a6c8ee" stroke="none" stroke-width="0" />
<path d="M1010,393.3 Q1024,387.3 1024.2,375" fill="none" stroke="#a6c8ee" stroke-width="2.1" stroke-linecap="round"/>
<polygon points="1025.30,368.00 1021.60,375.00 1024.50,373.80 1027.50,375.50" fill="#a6c8ee" stroke="none" stroke-width="0" />
<path d="M1026.5,395.4 Q1040.5,389.4 1040.7,377" fill="none" stroke="#a6c8ee" stroke-width="2.1" stroke-linecap="round"/>
<polygon points="1041.80,370.00 1038.10,377.00 1041.00,375.80 1044.00,377.50" fill="#a6c8ee" stroke="none" stroke-width="0" />
<line x1="890.80" y1="536.40" x2="900.40" y2="561.00" stroke="#e8485e" stroke-width="1.7" stroke-linecap="round"/>
<line x1="900.40" y1="561.00" x2="901.04" y2="554.53" stroke="#e8485e" stroke-width="1.7" stroke-linecap="round"/>
<line x1="900.40" y1="561.00" x2="895.55" y2="556.68" stroke="#e8485e" stroke-width="1.7" stroke-linecap="round"/>
<line x1="941.20" y1="535.00" x2="951.50" y2="561.00" stroke="#e8485e" stroke-width="1.7" stroke-linecap="round"/>
<line x1="951.50" y1="561.00" x2="952.11" y2="554.53" stroke="#e8485e" stroke-width="1.7" stroke-linecap="round"/>
<line x1="951.50" y1="561.00" x2="946.62" y2="556.70" stroke="#e8485e" stroke-width="1.7" stroke-linecap="round"/>
<line x1="991.80" y1="535.30" x2="1002.50" y2="561.50" stroke="#e8485e" stroke-width="1.7" stroke-linecap="round"/>
<line x1="1002.50" y1="561.50" x2="1003.04" y2="555.02" stroke="#e8485e" stroke-width="1.7" stroke-linecap="round"/>
<line x1="1002.50" y1="561.50" x2="997.58" y2="557.25" stroke="#e8485e" stroke-width="1.7" stroke-linecap="round"/>
<text x="802.00" y="408.00" font-size="18.5" text-anchor="middle" fill="#e0744a" textLength="66.0" lengthAdjust="spacingAndGlyphs" >Incident</text>
<text x="802.00" y="428.00" font-size="18.5" text-anchor="middle" fill="#e0744a" textLength="51.0" lengthAdjust="spacingAndGlyphs" >waves</text>
<text x="1031.00" y="342.50" font-size="18.5" text-anchor="middle" fill="#a9c9ea" textLength="78.0" lengthAdjust="spacingAndGlyphs" >Reflected</text>
<text x="1031.00" y="361.00" font-size="18.5" text-anchor="middle" fill="#a9c9ea" textLength="51.0" lengthAdjust="spacingAndGlyphs" >waves</text>
<text x="797.00" y="491.00" font-size="18.5" text-anchor="middle" fill="#a3bf6c" textLength="79.0" lengthAdjust="spacingAndGlyphs" >Absorbed</text>
<text x="797.00" y="510.50" font-size="18.5" text-anchor="middle" fill="#a3bf6c" textLength="51.0" lengthAdjust="spacingAndGlyphs" >waves</text>
<text x="947.40" y="580.20" font-size="18.5" text-anchor="middle" fill="#e4566c" textLength="159.0" lengthAdjust="spacingAndGlyphs" >Transmitted waves</text>
<line x1="870" y1="493.5" x2="676" y2="603.5" stroke="#e0415a" stroke-width="1.3" stroke-dasharray="4 2"/>
<line x1="988.6" y1="490" x2="1069.6" y2="622" stroke="#e0415a" stroke-width="1.3" stroke-dasharray="4 2"/>
<text x="781.00" y="309.80" font-size="28" text-anchor="start" fill="#111" >f</text>

</svg>
</body></html>
